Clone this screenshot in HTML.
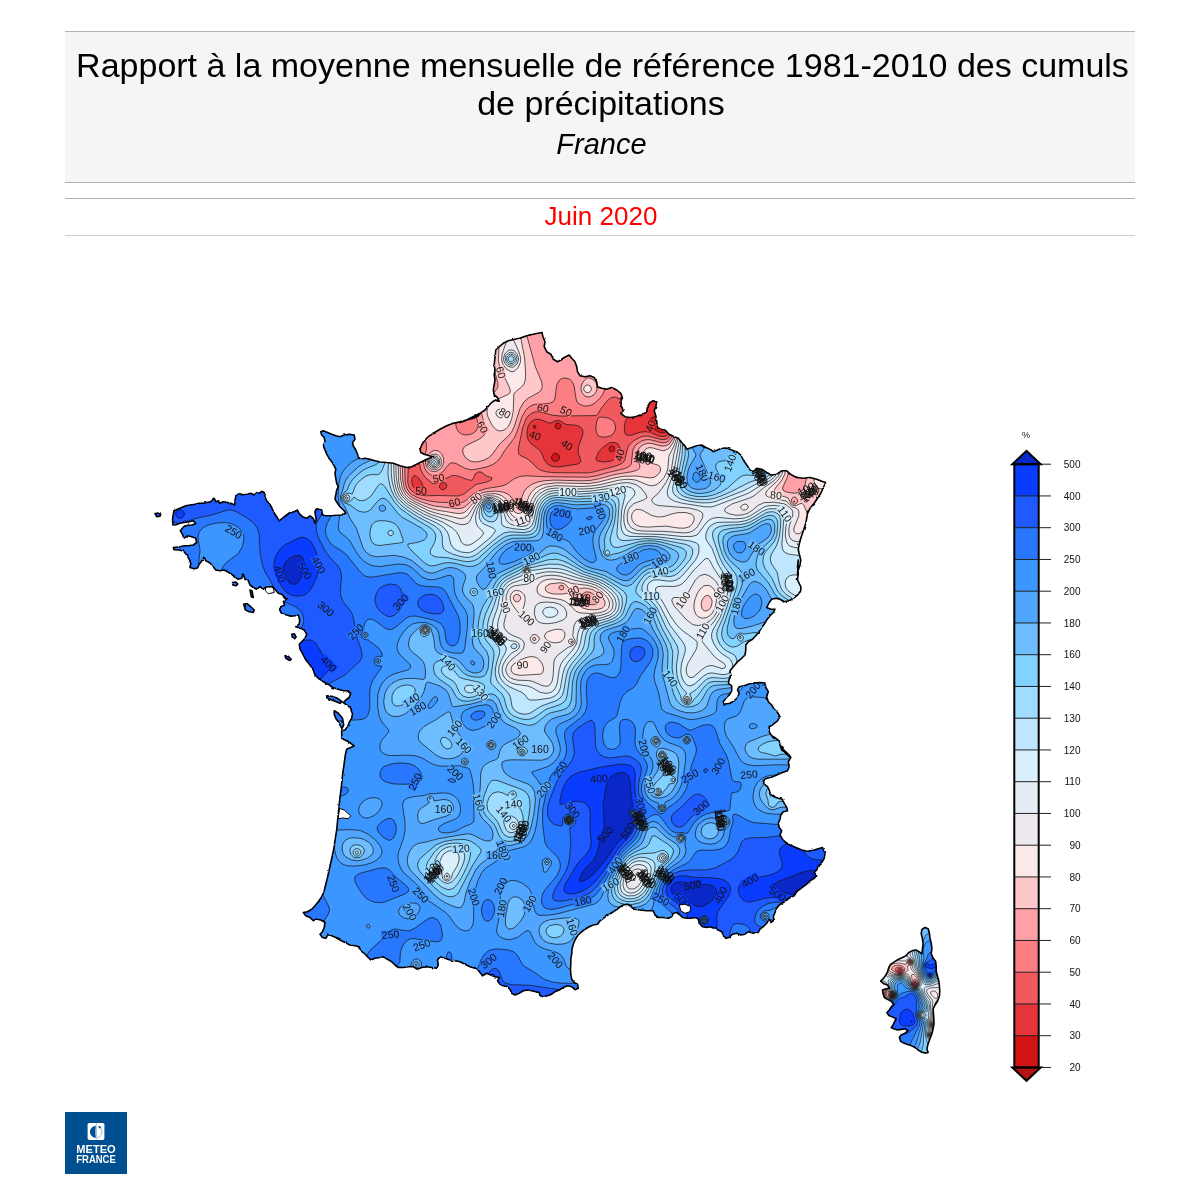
<!DOCTYPE html>
<html><head><meta charset="utf-8"><title>Rapport à la moyenne mensuelle de référence 1981-2010 des cumuls de précipitations</title>
<style>
html,body{margin:0;padding:0;background:#fff;}
body{width:1200px;height:1200px;position:relative;overflow:hidden;font-family:"Liberation Sans",sans-serif;}
#hdr{position:absolute;left:65px;top:31px;width:1070px;height:152px;background:#f5f5f5;border-top:1px solid #b0b0b0;border-bottom:1px solid #b0b0b0;box-sizing:border-box;}
.tl{position:absolute;left:0;width:1070px;text-align:center;white-space:nowrap;color:#000;}
#t1a{top:13.8px;font-size:34px;line-height:38px;left:2.5px;}
#t1b{top:52px;font-size:34px;line-height:38px;left:1px;}
#t2{top:95.8px;font-size:29px;font-style:italic;line-height:32px;left:1.5px;}
#l2{position:absolute;left:65px;top:198px;width:1070px;height:1px;background:#b0b0b0;}
#l3{position:absolute;left:65px;top:234.5px;width:1070px;height:1px;background:#cdcdcd;}
#dt{position:absolute;left:66.2px;top:201px;width:1070px;text-align:center;font-size:26px;line-height:30px;color:#f00;}
#map{position:absolute;left:0;top:0;}
#map text{font-family:"Liberation Sans",sans-serif;}
#logo{position:absolute;left:65px;top:1112px;width:62px;height:62px;background:#004f91;}
#hdr,#dt,#map,#logo{will-change:transform;}
</style></head><body>
<div id="hdr"><div class="tl" id="t1a">Rapport à la moyenne mensuelle de référence 1981-2010 des cumuls</div><div class="tl" id="t1b">de précipitations</div><div class="tl" id="t2">France</div></div>
<div id="l2"></div><div id="dt">Juin 2020</div><div id="l3"></div>
<svg id="map" width="1200" height="1200" viewBox="0 0 1200 1200">
<defs>
<clipPath id="cpF"><path d="M542,332.5 539.2,333 533.3,334.2 526.7,335.8 521.7,337.5 515,339.2 508.3,340.8 503.3,343.3 499.2,346.7 495.8,350 495.3,355 494.7,360 494.2,365 495,370 494.2,375 495,380 494.2,385 493.3,390 494.2,395 497.5,397.5 499.2,401.3 495.8,400 492.5,401.7 489.2,405 485,410 480,413.3 475,415.8 470,418.3 465,420.8 460,422.5 480,415 473.3,418.3 466.7,420 460,421.7 453.3,423.3 446.7,425.8 440,429.2 433.3,433.3 428.3,436.7 424.2,440.8 421.7,445 420,449.2 420.8,452.5 424.2,454.2 429.2,455.8 433.3,456.7 426.7,459.2 421.7,461.7 416.7,464.2 411.7,466.7 406.7,467.5 400,465.8 393.3,463.3 386.7,462.5 380,462 375,460.8 370,459.2 365,458.3 360.8,459.2 358.3,457.5 357.5,454.2 355.8,450 353.3,445.8 352.5,442.5 355,439.2 354.2,435 349.2,434.2 344.2,435 340,436.7 335.8,435.8 331.7,434.2 327.5,432.5 323.3,430.8 320.8,431.7 321.7,435 324.2,437.5 325,441.7 323.3,445.8 325,450 326.7,454.2 329.2,458.3 331.7,461.7 334.2,465.8 335.8,469.2 335,473.3 335.8,478.3 336.7,483.3 338.3,486.7 336.7,490 335.8,495 335,499.2 337.5,503.3 340,506.7 344.2,510.8 345.8,513.3 341.7,515 333.3,515.5 325,515.8 322.5,514.7 321.7,510 316.7,508.7 315,512.5 316.3,520 315,523.3 313.3,518.3 310,515.8 306.7,518.3 302.5,516.7 299.2,513.7 297.5,510 294.2,511.7 290,512.5 286.7,515 283.3,517.5 279.2,520.8 276.7,516.7 273.3,511.7 271.7,507.5 269.2,503.3 266.7,500.8 265,496.7 264.2,492.5 261.7,491.3 259.2,493.3 256.7,492.5 254.2,495 250.8,493.3 246.7,494.2 242.5,494.7 239.2,493.3 235.8,495.8 235,500.8 234.7,505 230.8,503.3 227.5,502.5 223.3,501.7 220,503.3 218.3,500.8 215.8,501.7 214.2,498.3 212.5,499.2 210.8,501.7 206.7,502.5 203.3,503.3 199.2,503.3 195,504.2 190,505 185.8,505.8 181.7,507.5 177.5,509.2 174.2,510.8 173,515 172.5,520 173,525 175.8,524.7 180,523.3 184.2,522.5 189.2,521.7 193.3,520.8 195.8,523.7 191.7,525 187.5,525.3 183.7,526.7 180.3,530.8 182.5,534.2 183.7,538.3 187.5,535.8 191.7,536.7 195.8,538.3 196.7,542.5 193.3,545 188.3,545.8 184.2,545.8 180,546.7 173.3,547.5 174.2,549.7 179.2,550 183.7,551.3 186.7,555 189.2,559.2 190.8,563.3 190,567.5 194.2,568.7 197.5,568 199.2,564.2 202.5,560 204.2,556.7 205.8,560.8 210,563 213.3,566.7 215.8,570 220,570.8 224.2,570 227.5,571.7 231.7,574.2 235,577.5 238.3,579.2 241.7,578.3 243.3,574.2 245,579.2 248.3,580.8 250,585 253.3,587.5 256.7,589.2 260,586.7 263.3,589.2 266.7,586.7 271.7,586.7 275,589.2 278.3,593.3 281.7,594.2 285,597.5 286.7,599.2 283.3,601.7 284.7,605 280.8,606.7 279.7,610 281.7,613.7 286.7,615 290.8,616.3 295,615.8 298.3,615 299.7,620 299.2,624.2 295.8,626.7 300,628.3 304.2,630 306.7,634.2 305,638.3 301.7,641.7 299.2,644.2 300,649.2 302.5,653.3 305,658.3 305.8,660 310,665 313.3,670 315,675 318.3,678.3 323.3,681.7 328.3,684.2 332.5,687.5 338.3,689.2 343.3,690.8 348.3,690.8 350.8,693.3 349.2,697.5 345.8,700 343.3,702.5 346.7,705 350.8,708.3 352.5,713.3 351.7,718.3 349.2,722.5 347.5,726.7 345,730 341.7,730.8 341.7,736.7 343.3,739.2 346.7,740.8 350.8,743.3 354.2,745.8 350.8,747.5 346.7,749.2 345.3,755 344.2,763.3 343,771.7 342,780 341.2,788.3 340,796.7 339.2,805 338.7,811.7 338.7,810 337.5,821.7 336.7,830 335.3,838.3 334.2,846.7 332.5,855 330.8,862.5 329.2,870 327.5,877.5 325.8,884.2 324.2,890.8 321.7,896.7 318.3,901.7 315,905.8 311.7,909.2 307.5,911.7 303.3,912.5 305.8,915.8 310,917.5 313.3,920.8 316.7,919.2 320.8,920 325,922.5 324.2,927.5 322.5,931.7 320,934.2 322.5,937.5 325.8,938.3 328.3,934.2 331.7,935.8 335.8,937.5 340,940 345,942.5 350,945 355,945.8 359.2,946.7 360.8,950.8 364.2,953.3 367.5,956.7 370.8,960 375,958.3 380,957.5 383.3,956.7 387.5,959.2 391.7,961.7 395,965 398.3,967.5 403.3,967.5 408.3,966.7 413.3,966.7 417.5,969.2 421.7,967.5 426.7,966.7 431.7,967.5 436.7,968.3 438.3,965 437.5,960 440,956.7 445,958.3 450,960 455,960.8 460,961.7 465,964.2 470,966.7 475,968.3 474.2,967.5 477.5,969.2 480,972.5 482.5,975.8 486.7,973.3 490.8,975 495,976.7 499.2,977.5 497.5,980.8 500,984.2 503.3,985.8 507.5,986.7 510,989.2 511.7,993.3 515,995 519.2,993.3 523.3,990.8 527.5,990 531.7,990.8 535.8,991.7 539.2,992.5 540,995.8 543.3,996.7 547.5,995.8 551.7,994.2 555,991.7 559.2,990 563.3,987.5 567.5,985.8 571.7,986.7 575,989.7 578.3,988.3 577.5,984.2 574.2,982.5 571.7,979.2 570.8,974.2 570.5,969.2 570.8,964.2 570.8,959.2 571.7,954.2 572,949.2 573.3,944.2 575,940 577.5,935.8 580.8,932.5 585,929.2 589.2,926.7 593.3,925 597.5,924.2 600,920.8 603.3,918.3 606.7,915.8 610.8,913.3 615,910.8 619.2,907.5 623.3,905 627.5,904.2 630.8,906.7 634.2,909.2 640,910 646.7,910.8 653.3,910.8 655,915 658.3,917.5 664.2,917.5 663.3,917.5 668.3,918.3 671.7,916.7 673.3,913.3 676.7,912.5 680,915 682.5,917.5 686.7,918.3 690.8,918.3 695.8,917.5 698.3,919.2 699.2,923.3 702.5,926.7 706.7,927.5 710,926.7 714.2,928.3 718.3,930 721.7,931.7 723.3,935 725.8,938.3 729.2,937.5 732.5,934.2 736.7,933.3 740.8,935 745,934.2 748.3,931.7 753.3,933.3 758.3,932.5 760,929.2 763.3,926.7 766.7,923.3 769.2,919.2 770.8,922.5 774.2,920 773.3,916.7 775,912.5 776.7,908.3 779.2,905 783.3,902.5 786.7,900 790,897.5 794.2,895.8 796.7,891.7 800,889.2 803.3,886.7 806.7,884.2 810,880.8 814.2,878.3 816.7,875.8 814.2,872.5 816.7,870 818.3,865.8 821.7,862.5 824.2,858.3 825,853.3 822.5,847.5 818.3,848.7 813.3,850.3 807.5,851.3 801.7,850 795.8,847.5 790,845 785.8,842.5 782.5,839.2 780,835 781.7,830.8 779.2,827.5 778.3,823.3 780,819.2 780.8,815 783.3,811.7 787.5,810.8 786.7,807.5 784.2,803.3 782.5,799.2 778.3,798.3 774.2,796.7 770,794.2 769.2,790 767.5,786.7 764.2,784.2 763.3,780 766.7,778.3 770.8,777.5 775,775.8 778.3,774.2 782.5,772.5 787.5,770.8 789.2,766.7 788.3,761.7 790.8,757.5 789.2,755 785.8,751.7 781.7,749.2 780,745 789.2,756.7 785.8,753.3 781.7,750 780,745 779.2,740.8 775.8,738.3 771.7,735.8 769.2,731.7 769.2,726.7 773.3,724.2 777.5,720.8 780,716.7 777.5,712.5 774.2,709.2 771.7,705 768.3,701.7 766.7,696.7 768.3,691.7 765.8,687.5 765,683 760,682.5 753.3,683 748.3,684.2 744.2,685.8 739.2,686.7 737.5,690 739.2,693.3 737.5,697.5 734.2,700.8 730,703.3 724.2,704.2 723.3,701.7 725.8,698.3 729.2,695 731.7,690.8 731.7,685.8 728.3,683.3 729.2,679.2 730.8,675 730,670.8 734.2,665.8 737.5,661.7 741.7,658.3 745,655 745.8,650 745.8,645 748.3,641.7 752.5,639.2 755.8,635.8 759.2,631.7 761.7,627.5 764.2,624.2 766.7,620 770,615.8 773.3,612.5 775,609.2 770.8,609.2 766.7,607.5 769.2,602.5 771.7,599.2 775.8,598.3 780,599.2 784.2,601.7 789.2,600.8 793.3,598.3 797.5,595 800.8,590.8 800.8,586.7 797.5,580 798.3,573.3 797.5,566.7 798.3,560 797.5,575 798.3,570 800,565 800.8,560 799.2,554.2 798.3,549.2 799.2,544.2 800.8,538.3 802.5,533.3 804.2,528.3 805.8,523.3 806.7,518.3 807.5,513.3 810,508.3 814.2,503.3 817.5,498.3 820.8,493.3 823.3,487.5 825.8,482.5 821.7,481.3 816.7,479.2 810,477.5 803.3,478.3 796.7,477.5 791.7,475 786.7,470.8 781.7,470.8 776.7,474.2 771.7,475 766.7,472.5 761.7,469.2 756.7,468.3 753.3,471.7 750,470 746.7,465 743.3,460 740.8,455 736.7,451.7 731.7,450 726.7,448 721.7,448.3 717.5,450 713.3,451.7 710,449.2 705.8,447.5 701.7,445 696.7,445.8 691.7,447.5 686.7,449.2 685,445.8 681.7,442.5 678.3,438.3 674.2,436.7 669.2,434.2 665,430 660.8,429.2 657.5,427.5 656.7,421.7 655.8,415.8 654.2,410.8 655.8,406.7 656.7,401.7 653.3,400.8 650,402.5 647.5,406.7 646.7,411.7 643.3,414.2 640,415.8 640,415 635,416.7 630,417.5 625,416.7 620.8,413.3 623.3,410.8 621.7,406.7 620.8,401.7 622.5,397.5 620.8,393.3 616.7,390 611.7,387.5 606.7,389.2 601.7,388.3 597.5,386.7 596.7,381.7 594.2,377.5 590,375.8 585,376.7 580,375.8 577.5,371.7 576.7,366.7 575,361.7 571.7,358.3 569.2,355 564.2,357.5 560.8,360 557.5,361.7 553.3,359.2 550.8,354.2 546.7,351.7 544.2,346.7 545,341.7 543,336.7ZM155,513.7 157.5,513 160.8,514.2 160,516.3 156.7,516.7ZM232.5,582.5 235.8,582 238,584.2 235.8,585.8 233,585ZM243.7,604.2 246.7,603.3 250.8,606.7 254.2,610 253.3,612.5 249.2,611.7 245.3,609.7ZM250,590 252,590.8 253.3,597.5 251.3,596.7ZM291.7,634.2 294.2,633.7 296.2,636.7 294.7,638.7 292.5,637.5ZM285,655.8 288.3,656.3 291.2,659.2 289.2,660.3 285.8,658.3ZM326.7,695.8 331.7,696.3 337.5,698.3 342,701.7 340,703.3 335,701.3 330,699.2 327,698ZM334.2,710.8 338.3,713.3 342.5,718.3 343.7,725 342,728.7 339.2,723.3 335.8,718.3 334.2,714.2Z"/></clipPath>
<filter id="jag" x="140" y="320" width="720" height="750" filterUnits="userSpaceOnUse"><feTurbulence type="fractalNoise" baseFrequency="0.22" numOctaves="2" seed="7" result="n"/><feDisplacementMap in="SourceGraphic" in2="n" scale="2.2" xChannelSelector="R" yChannelSelector="G"/></filter>
<clipPath id="cpC"><path d="M925,927.5 928.1,928.8 929.4,933.1 930,938.1 931.2,943.1 931.9,948.8 931.2,953.8 933.1,958.1 935.6,961.2 936.2,966.2 936.2,971.2 937.5,976.2 938.8,981.2 939.4,986.2 939.8,991.2 939.4,996.2 937.5,1001.2 935,1005 933.1,1008.8 933.5,1013.8 933.8,1018.8 934,1023.8 933.1,1028.8 931.9,1033.8 930,1038.8 928.1,1043.8 926.9,1048.8 928.1,1052.5 925,1053.1 921.2,1051.9 918.1,1050 915,1047.5 911.2,1045.6 907.5,1044.4 903.8,1043.1 900.6,1041.2 899.4,1037.5 901.2,1035 905,1033.1 908.1,1030.6 905,1028.8 901.2,1029.4 897.5,1030 893.8,1028.8 891.2,1027.5 893.1,1025 894.4,1021.9 896.2,1018.8 892.5,1016.9 888.8,1015.6 886.9,1012.5 889.4,1010 891.2,1006.9 893.8,1004.4 891.2,1001.2 887.5,999.4 884.4,997.5 883.1,993.8 882.5,990 886.2,988.8 889.4,988.1 887.5,985 883.8,983.8 880.6,981.2 883.1,978.8 885.6,975.6 887.5,971.9 888.8,967.5 890.6,964.4 894.4,961.9 898.1,959.4 902.5,957.5 906.2,955.6 908.8,952.5 912.5,950.6 916.2,950 919.4,951.9 921.9,953.8 922.5,948.8 923.1,943.8 922.5,938.8 921.2,933.8 921.9,929.4Z"/></clipPath>
</defs>
<g clip-path="url(#cpF)">
<rect x="140" y="320" width="710" height="690" fill="#b41414"/>
<path fill="#d21416" fill-rule="evenodd" d="M140,320 840,320 840,1002 140,1002ZM682,392.9 680,394.2 679,396 677.9,400 678,403.3 678.9,406 680,407.2 682,408.1 684,408.1 686,407.2 688,404.7 688.3,400 686,394.7 684,393.1ZM702,359.4 699.5,362 699,364 699.3,366 702,368 704,367.9 706,367 708,364.9 709,362 708.7,360 708,359.2 706,358.4ZM722,329.7 720,331 718.5,334 717.8,338 718,343.8 718.6,346 719.9,348 722,348.8 724,348.8 728,347.7 730.5,346 733,342 733.3,338 732,334.7 730,332.6 726,330.3 724,329.6Z"/>
<path fill="#e6353a" fill-rule="evenodd" d="M140,320 713.9,320 713.9,326 715.4,336 715,344 714,350.1 712,352.1 698,354.9 695.9,356 694,358 693.1,360 692.7,366 694,369.6 696,371.3 700,372.1 706,370.6 709.6,368 712.1,364 714.7,356 716,353.9 728,349.8 732,346.8 733.9,344 734.9,340 734.4,336 733.4,334 728.4,328 727.9,320 840,320 840,1002 140,1002ZM534,425 532.9,426 534,428.5 535.5,428 536.1,426ZM554,453.5 552,455.4 551.4,458 552.3,460 554,461.2 556,461.4 558.6,460 559.6,458 559.4,456 558,454 556,453.2ZM556,423.6 554.9,426 555.7,428 558,429.2 560,428.4 561.1,426 560.4,424 558,422.9ZM612,445.7 610,446.6 609,448 609.1,450 610,451.2 612,451.8 614,450.7 614.8,448 614,446.6ZM658,415.9 654,416.6 651.1,418 649.3,420 648.7,422 649.3,424 652.6,428 658,431.8 662,432.9 664,432.7 666,431.7 668,429 669.3,424 669.2,420 668,417.5 666,416.5ZM678,335.2 676.7,338 676.8,340 678,343 680,343.8 682.3,342 682.9,338 682,335.6 680,334.6ZM678,384.9 675.2,388 674,391.2 673.2,396 673.1,404 674.3,410 676,411.6 680,412.1 686,410.6 689.3,408 690.9,404 690.9,400 689.4,394 686,386.5 684,384.7 682,384Z"/>
<path fill="#f05a5f" fill-rule="evenodd" d="M140,320 664.8,320 664.9,328 666.2,340 665.6,346 664.6,350 661.1,356 648,365.8 645,370 643.8,374 643.3,378 644.5,396 644.2,400 643.1,404 640.8,408 639,410 627.4,418 625,422 624.2,428 624.6,432 625.3,434 626,434.8 628,435.6 632,435 640,432.3 646,431.6 650,432.4 658,435.7 662,436.6 666,435.9 668.3,434 670.6,430 674,420.4 676,417.6 678.4,416 688,412 690.4,410 691.8,408 692.5,406 692.8,402 690.3,384 690.9,380 692,378.3 694,376.9 704,373.8 708,371.9 712.2,368 716.5,360 719.7,356 730,350.4 734.3,346 735.9,342 736.2,338 734.9,334 731.1,328 730.8,320 840,320 840,1002 140,1002ZM414,475.5 412.2,478 411.7,480 412,484 412.9,486 414.6,488 418,489.6 420,489.6 422,488.8 422.8,488 423,486 421.4,482 418,477.5 416,475.9ZM442,482.7 440.4,484 439.5,486 439.7,488 442,489.8 444,489.6 446.1,488 446.9,486 446.4,484 444,482.5ZM534,419.7 530.6,422 528.2,426 526.9,432 527.4,438 530,442.7 540,450.6 542,454 544.4,460 547.3,464 552,466.5 558,467 576,464.4 578,463.9 580.8,462 580.8,460 578.5,454 578.1,450 578.8,446 583,434 582.7,430 581.5,428 578.5,426 576,425.3 566,424.4 560,420.7 556,420.6 550,423.3 540,419.5 536,419.3ZM608,443.6 602.1,448 598.7,452 596,458 596.2,460 598,461.2 604,462 610,461.3 614,459.9 616.6,458 618.1,456 619.5,452 619.7,448 619.3,446 618,444.1 616,442.8 614,442.4 610,442.7ZM697.4,330 700,328.8 704,328.7 710,331.6 711.9,334 712.7,338 712.4,342 710.7,346 708.5,348 704,349.2 700,349.2 696.1,348 694,346 692.6,342 692.5,336 694,332.7ZM660.8,400 662,398.9 664,399 665,402 664,404.6 662,404.8 660.8,404 660,402Z"/>
<path fill="#fc7d82" fill-rule="evenodd" d="M140,320 655.9,320 656.1,328 658.5,334 659.4,338 658.7,344 656.9,348 654,351.5 641.3,360 637.9,364 636.4,368 635.7,372 635.7,388 635,394 633.7,398 632,400.6 630.2,402 628,402.7 626,402.5 618,398.1 614,396.9 612,397.3 608,400 602.9,406 598,413.8 596,415.6 558,415.8 552,415.1 542,412.1 536,411.7 532,412.9 530,414.1 528,416 525.4,420 522,430 518.2,450 518.8,454 520,455.3 528,459.2 537.1,468 540.4,470 544,471.3 552,472.6 584,473.1 593.4,472 616.1,466 621.1,464 623.6,462 624.9,460 627.1,450 628.7,446 630.2,444 634,440.6 640,437.3 644,436.2 648,436 662,439.7 666,439.2 668,438 671.1,434 675.1,424 677.7,420 680.1,418 690,412.6 692,410.7 693.6,408 694.4,402 693,388 693.6,384 694.5,382 698,378.6 707.8,374 710.7,372 714,368.2 720,358.7 723.2,356 732,350.7 735.8,346 737.2,342 737.4,338 736.3,334 733.2,328 732.9,320 840,320 840,1002 140,1002ZM412,443.2 409.6,446 407.8,452 408.3,468 407.7,482 408.6,486 410,488.9 412,491.2 416,493.7 420,495 426,495.8 438,495.5 458.5,496 464,494 476,484.5 487.1,482 491.4,480 492,477.8 486,475.8 482,472.5 480,471.8 477.9,472 475.1,474 473.6,478 472,480.3 468,479.8 458,476 454,475.4 452,475.7 447,478 442,479.4 436,483.2 434,483.7 432,483.1 426,478.2 422.9,474 420.7,470 419.6,464 420.5,450 419.4,446 418,443.9 416,442.6 414,442.4ZM818,413.7 816,417.6 816.5,422 818,424.9 819.5,426 822,425.8 823.9,422 823.7,416 822,413.2 820,412.8ZM703.5,334 706,334.3 708,335.5 709.1,338 709,340 708,342.4 706,343.9 704,344.3 702,344 700,342.8 698.5,340 698.4,338 699.3,336 702,334.3ZM598.1,418 600,417.1 604,417.3 608,418 612.2,420 614.1,422 615.5,426 615.3,430 613.1,434 610,436 606,437 602,437 600,436.6 598,435.3 596.3,432 595.9,428 596.5,422Z"/>
<path fill="#fea0a5" fill-rule="evenodd" d="M140,320 392.3,320 392.5,326 393.4,328 396,329.4 400,330.1 402,330 405.2,328 405.7,320 619.2,320 619.1,326 618.1,330 616.5,332 609.2,338 605.7,342 600.6,350 597,358 596.4,362 597.2,366 604.4,378 605.9,384 604.9,390 603,394 600,398.2 596,402.2 590,405.5 584,406 580,404.7 578,403.1 576.3,400 574.1,386 572,381.4 570,379.5 566,378 562,378.5 560,379.6 558,382 556.6,386 555.1,398 554,400.7 552,402.6 550,403.4 538,404 534,404.6 530,406.3 526,409.8 522,416.6 516.9,432 514,438.4 505.1,450 498.6,460 493.7,464 484,467.7 472,469.9 470,469.8 464.3,468 456,463.5 452,462.7 450,463.4 444.4,470 440,473.9 436,475.6 432,475.5 430,474.6 427,472 425.5,470 423.8,466 423.5,460 426.6,448 426.1,442 424,435.8 420,429.6 418,428.4 410,436 408,438.8 406,443.2 404.5,452 405.1,482 406,486.5 408,490.7 410,493 414,496 418.6,498 426,500.2 436,502.1 458,503.2 464,501.6 474,493.6 478,491.2 486,488.6 500,486.4 504,485.3 506.9,484 514,478.8 520,476.4 526,475.8 544,476.7 588,477.2 595.7,476 608,472.5 624,468.8 628,467.2 629.8,466 631.3,464 632.8,450 635,446 639.6,442 644,440.1 648,439.6 662,442.8 666,442.3 668,441.4 670,439.5 672,436.5 676.3,426 678.7,422 682,419 690.7,414 694.4,410 695.8,404 694.8,392 695,388 696.3,384 697.6,382 700,379.9 708,375.6 712,372.8 714.5,370 721.2,360 724,357.5 732.4,352 736.1,348 738,343.6 738.6,338 737.6,334 734.9,328 734.7,320 840,320 840,1002 140,1002ZM418,337.9 416,338.3 414,340.2 412.5,348 412.5,384 411.9,402 412.3,410 414,418.1 416,422.9 418,425.8 420,425.4 422,422.8 424,418.7 425.7,412 426.2,404 425.5,384 425.9,358 425.4,348 424,342.4 422.5,340 420,338.3ZM460,401.8 457,406 455.4,412 455.1,420 456.4,428 458.7,432 462,434.3 466,435 472,433.9 476,431 477.5,428 477.9,426 477.2,420 474,408.2 472,403.7 470,401.5 468,400.5 464,400.1ZM588,596 588,596 588,596 588,596ZM796,449.8 794,450.3 791.6,452 790.4,454 789.8,458 792,466.9 794,471.7 796,474.4 798,473.4 802,466.5 803.2,462 803.6,458 803,454 802,452 800,450.4ZM818,408.9 816,410.1 814.1,412 813.1,414 812.4,418 812.7,422 814,426.7 816,430.3 818,432.1 820,432.8 822,432.8 824,431.8 826.1,428 827.1,422 826.8,414 826,411.2 824,408.7 822,408.1ZM794,500.9 793.7,502 794,502.2 794.5,502ZM641.7,336 644,334.9 646,334.7 648.9,336 650.2,338 650.3,340 649.5,342 648,343.8 646,344.7 644,344.8 641.7,344 640.3,342 639.9,340 640.3,338Z"/>
<path fill="#fec8cb" fill-rule="evenodd" d="M140,320 389.1,320 389.2,326 390,328.4 392,330.2 404,333.9 406,335.1 407.8,338 408.8,344 409.2,422 408.2,428 403.4,440 402,450 402.7,480 404.2,488 406.2,492 410,496.1 414,498.7 422,502.2 434,506 458,508.7 462,508.1 464,507.3 468,504.2 476.4,496 482,493 486,491.8 496,491 504,492.3 508,494.2 510.1,496 516,503.2 518,503.8 520,502.1 523.9,492 526.7,488 532,484.2 537.8,482 544,480.8 554,480.1 582,480.8 590,480.5 598,479 614,474.7 632,471.7 637.6,470 639.6,468 639.9,466 637.8,458 637.3,454 638.1,450 639.3,448 641.2,446 644,444.3 648,443.2 652,443.5 660,445.7 664,446.1 668,444.8 670,443.2 673.3,438 677.1,428 680,423.1 683.4,420 693,414 696.1,410 697.1,404 696.5,390 697.4,386 698.6,384 702,380.7 712.7,374 716,370.2 720,364 723.3,360 732,354 736.2,350 738.4,346 739.7,340 739.4,336 736.5,328 736.3,320 840,320 840,1002 140,1002ZM560,585.6 558.7,588 560,589.6 562,590 564,588.4 563.3,586 562,585.3ZM586,591.9 582.3,594 581.3,596 581.5,598 582.4,600 584.3,602 588,604.1 592,604.8 596.7,604 598.2,602 598.1,600 595.3,596 593.1,594 590,592.2ZM798,445.9 794,446.8 791.4,448 789.1,450 787.8,452 786.9,458 788.5,470 788.1,474 787,478 782.5,488 783,490 786,491.9 792,493.1 796,493.1 800,492 802,490.9 804,488.4 805.7,482 807.5,468 808.2,458 807.1,450 805.9,448 804,446.6 802,446ZM818,405.8 814,408.1 810.8,412 809.7,418 810.3,424 812,431.1 814.5,436 818,438 824,438.1 826,437.2 827.2,436 828.4,434 829.4,430 830,420 829.4,410 828,406.3 826,404.7 822,404.7ZM794,496.8 792,498.4 791.3,500 791.4,502 794,504.3 796,503.9 797.6,502 797.7,500 796,497.4ZM818,503.8 816.5,506 817.2,508 820,509.5 822,509 822.8,508 822.7,506 822,504.7 820,503.6ZM494.5,320 525.5,320 525.7,330 528,340 535.1,366 541.7,382 542.2,386 542,388 541.1,390 539.4,392 528,398.3 523.9,402 520,408.6 514.4,426 512,431.3 508,436.5 499.6,444 492,454.8 488.2,458 484,460.1 478,461.7 474,461.9 470,460.9 465.9,458 463.2,454 462.7,450 463.5,448 465.3,446 480,438.7 483.3,436 484.6,434 485.3,432 485.3,428 481.2,412 480.9,408 481.4,404 484,399 494.4,392 497.5,388 498,386 497.7,382 494.2,370 493,362ZM549.4,342 550,341.3 552,341.1 553.8,344 553.8,346 552,348.5 550,348.2 548.7,346 548.6,344ZM587.4,378 590,378 594,380.3 596,382.9 597.1,386 596.8,390 596,392 594,394.7 590,397 586,396.6 584,395.4 582,392.7 581,390 581.2,386 583,382 586,378.5ZM431.2,452 434,450.5 438,450.7 441.7,454 443.5,458 443.7,462 442.6,466 440,469.3 436,471.4 432,471.4 430,470.5 427.4,468 425.7,464 425.5,462 426.3,458 428,454.9Z"/>
<path fill="#fbe8e8" fill-rule="evenodd" d="M140,320 386.9,320 386.9,326 388,329.1 392,331.9 400,334.9 404,338 405.7,342 406.7,348 407,358 406.6,416 405.5,424 400.8,438 399.7,446 400.5,478 402.1,488 405.2,494 409.1,498 414,501.2 424,505.9 430,508.3 436,509.9 456,513.3 460,513.5 464,512.6 466,511.3 473.9,502 478,498 482,495.6 488,493.8 496,493.9 502.3,496 506.8,500 512,508.9 514,511.4 516,512.8 518,513.5 520,513.3 522,512.3 524,509.8 529.1,496 531.5,492 536,487.8 540,485.7 544,484.4 556,482.9 580,483.8 590,483.4 598.9,482 616,477.6 626,476.1 636,476 650,477.9 654,477.3 656,476.3 658,474.8 660.1,472 660.6,470 660,466.8 658,465.1 650,462.8 646.2,460 643.8,456 643.5,454 644,451.3 646,448.9 648,447.9 650,447.6 653.1,448 662,450.7 664,450.7 668,449 670,447.2 673.4,442 678.7,428 681.3,424 684,421.4 692.8,416 696,412.9 698.1,408 698.4,404 697.8,392 698.5,388 700,385 702.9,382 714,374.5 723.3,362 726,359.6 734.1,354 736.2,352 738.9,348 740.3,344 740.8,338 740,334 738,328 737.8,320 840,320 840,346.7 834,346.9 832,347.6 829.8,352 829.4,360 830.9,380 830.5,388 829,396 827.9,398 826,399.8 814,405.2 810.5,408 809,410 807.6,414 807.4,418 808.7,434 808,438 806.4,440 804,441.3 792,444.9 788,447.4 786,450 784.6,456 785.6,468 784.8,474 781.9,480 775.5,488 774.4,490 774.3,492 776.1,494 778,494.8 788,497.8 791,504 794,505.7 796,505.7 800,503.7 802,503.3 804,505.6 807.5,514 809.4,516 812,517.3 820,519.2 824,521.1 826,523.4 830,531 832,532.6 840,533.1 840,1002 140,1002ZM514,595.7 513.2,598 514,600.3 516,601.7 518,601.8 520,600.4 520.8,598 520,595.9 518,594.4 516,594.3ZM534,637.2 532.8,638 532.8,640 534,640.8 535.7,640 535.7,638ZM550,583.9 546.3,586 545.3,588 545.5,590 547.2,592 550,593.2 554,594 562,594.1 568,593.2 570,594.6 577,604 582.7,608 588,609.5 596,609.8 602,608.3 604.5,606 605.1,604 605,602 603.2,598 599.6,594 593.5,590 588,588.3 584,588 578,588.6 570,590.5 567,586 564,583.5 560,582.7ZM706,595.7 704,597.1 702.1,600 701.1,604 702,608.8 704,610.7 706,611 708,610.4 710,608.6 711.4,606 712.1,602 711.9,600 710,596.5 708,595.4ZM568,819.8 568,820.2 570.1,820 570,819.8ZM572,640.9 570.6,642 572,642.8 572.7,642ZM502.7,320 517.3,320 517.5,328 521.2,340 524.3,356 525.7,376 525.3,380 524,384 522,386.7 515.4,392 513.8,394 513.3,410 512,417.4 510,423.3 508,426.7 506,428.8 504,430.1 500,431.1 496,429.7 492,425.1 488,417 487.2,414 487,410 488.2,406 492,402 508.8,394 510.3,392 510.2,390 508.8,386 500.9,370 499,364 498.4,360 499.2,344 500.1,338 502.6,328ZM585,386 586,385.2 588,384.9 590.2,386 591.3,388 591.2,390 590,391.8 588,392.8 585.3,392 583.8,390 583.8,388ZM814.8,446 818,444.5 824,444.6 826.4,446 827.6,448 828.7,452 828.9,464 827.1,480 825.4,486 824,488 822,488.9 818,488.3 816,486.5 814,481.4 813,470 812.6,456 813.1,450 813.6,448ZM429.7,456 432,454.4 436,454.2 438,454.9 440,456.9 441.4,460 441.2,464 440.2,466 438,468.3 436,469.3 432,469.3 430,468.2 428.1,466 427.2,464 427.3,460Z"/>
<path fill="#ede8ee" fill-rule="evenodd" d="M140,320 385,320 385,326 385.3,328 386.4,330 389.1,332 398.2,336 400.8,338 403.3,342 404.9,350 404.8,412 403.2,422 398.2,436 397.4,444 398.8,482 400,488 402.8,494 406,497.9 410,501.2 428,510.5 436,513.1 460,518.6 464,518 468,515.4 475.3,504 478.9,500 481.5,498 484,496.7 488,495.7 494,495.9 498,497.1 502.5,500 505.7,504 510,512.7 512.6,516 516,518.2 520,518.8 524,517.4 526,515.1 531.4,500 534.9,494 540,489.6 546,487 556,485.6 580,486.5 590,486.1 600,484.7 618,480.3 626,479.3 632,479.5 636,480.2 648,485.1 652,485.8 656,484.9 660,482.1 664,477.6 666.9,472 667.9,468 668.9,456 674,445.9 680.3,428 684,423.2 695,416 698.3,412 699.7,406 699.1,392 700,388.3 701.2,386 704,383 714.3,376 717.9,372 724,363.2 727.6,360 736,354 740,348.5 741.4,344 741.9,338 739.4,328 739.3,320 840,320 840,342.2 832,342.6 830,344 827.7,350 827.2,360 828.3,382 827.5,390 826.4,394 823.2,398 812,403.8 807.4,408 806.3,410 805.3,414 805.9,428 805.1,434 804,436 802,438 788.9,444 784.6,448 783.5,450 782.7,454 783.3,468 782.1,474 778,480.3 767.5,490 766.2,492 765.7,494 766.5,496 770,497.7 786,500.9 792,506.7 795.8,508 798.4,510 798.9,512 798.8,516 793.9,528 794,531.2 796,533.6 798,533.9 800,533.3 810,525.8 814,524.8 818,524.8 822,526.4 823.6,528 830,537 834,538.2 840,538.3 840,1002 140,1002ZM514,591 511,594 510.3,596 510.3,600 512,604 514,606.9 518,612.3 520,613.5 522,611.3 524,606.1 525.2,600 524.7,596 523.6,594 520,591 516,590.4ZM526,570 525.6,572 526,572.6 528,572.8 528.7,572 528.2,570ZM532,635.3 530.3,638 530.3,640 532,642.5 534,643.3 536,643.1 539.1,640 539.3,638 537.8,636 536,634.8 534,634.5ZM546,579.7 542,581.5 540,583.1 537.8,586 537.1,588 537.2,592 538.5,594 541.5,596 546,597.4 560,599.4 564,600.6 568,603.2 576,611.3 580,612.9 590,613.5 600,612.7 606,610.5 608.6,608 609.6,604 609.4,602 607.6,598 602.1,592 595.9,588 588,585.4 572,583.6 564,580.6 560,579.7 552,578.9ZM636,509.7 634,510.8 632,513.8 631.6,516 632,520 634,523.3 636,524.9 638.3,526 642,526.8 648,527.1 666,526.1 678,528 684,528.2 688,527.3 690.3,526 692.3,524 694.2,520 694,516.9 692,514.4 686,512.5 678,512.6 672,513.9 664,516.5 658,517 652,515.6 641.8,510 638,509.3ZM704,585.8 700,589 697,594 694.8,600 693.9,606 694.2,610 695.7,614 698,616.6 702,618.2 706,617.8 708,616.9 712,613.6 715.1,608 716.6,600 716,593.8 714.4,590 712.9,588 710,585.9 708,585.3ZM742,505.4 741.2,506 740.5,508 742.7,510 746,509.9 748,508 748.3,506 746,504.1 744,504.2ZM526,657.6 520,660 513.8,664 512,666 511.2,668 511,670 512,672.4 514,674.1 520,675.4 540,674.2 542,673.4 543.1,672 543.5,668 542.3,664 539.7,660 537.2,658 534,656.7 530,656.7ZM554,629.7 548,631.6 546,633.1 545.2,634 544.6,636 545.1,638 548,640.9 552,642.5 556,642.9 560,642.1 562,640.9 564.3,638 565,634 564.5,632 562,629.7 558,629.2ZM568,819.3 567.6,820 568,820.7 570,820.7 570.4,820 570,819.3ZM570,639.2 568.9,640 568.4,642 570,644 572,644.5 574,641.7 572,639ZM634,878 633.3,880 634,880.9 635,880ZM509.5,338 512,338.4 514,340.9 519,352 520.7,358 520.5,362 518,367.9 514,371.3 512,371.6 510,371.2 506,368.6 502.7,364 501.6,360 502.2,354 506,342.5 508,338.9ZM497.3,410 500,409 502.8,410 504,412 504.1,414 503.3,416 502,417.6 500,418 497.1,416 496,414 496,412ZM432.9,456 436,456 438,457.2 439.8,460 439.6,464 438,466.4 436,467.7 434,468 432,467.6 430,466.3 428.6,464 428.6,460 430,457.7ZM819.5,456 820,454.7 822,454.2 822.8,456 823,460 822,463.1 820,462.5 819.8,462 819.2,458Z"/>
<path fill="#e4ecf5" fill-rule="evenodd" d="M140,320 383.2,320 383.3,326 384.4,330 388,332.8 398,338 401.1,342 402.9,348 403.5,358 403.2,410 401.4,420 395.9,434 395.2,438 395.1,444 396.2,476 397.5,486 399.5,492 401.8,496 408,502.2 420,509.3 430,514.2 446,519.4 456,523.3 460,524.4 464,524.7 468,523.3 470,521.1 475.5,508 480,501.4 482,499.6 486,497.6 492,497.3 498,499.7 502,503.3 504.8,508 508.1,516 511.3,520 516,522.4 522,522.9 526,521.3 528,519.1 530,514.4 533,504 536,497.8 540,493.3 546,489.9 550,488.8 556,488.1 578,489 590,488.7 602,487.1 620,483.2 626,482.6 630,482.9 636,484.6 641,488 645.6,494 646.6,496 646.8,498 643.5,500 634,503.5 630,507 628.3,510 627.3,514 627.3,520 628.4,524 631.5,528 636,530.1 642,531 664,531.4 684,532.9 688,532.6 692,531.4 696.4,528 699.2,524 702.4,518 702.9,514 701.4,512 697.4,510 689,508 658,505.5 654.4,504 652.4,502 651.6,500 652.9,498 658,493.5 662,488.4 666,482.4 669.3,476 671.3,470 673.8,454 679.4,434 681.9,428 686,423.3 697.2,416 699.9,412 700.9,406 700.3,394 700.9,390 702,387.5 705,384 716,376.2 725.1,364 728,361.3 736,355.8 738,353.9 740.7,350 742.2,346 743,340 742.8,336 740.9,328 740.7,320 840,320 840,339 834,339.1 830,340.1 828,342.4 826.1,348 825.2,360 826.4,382 825.9,388 824.7,392 821.7,396 810,402.5 806,406 804.6,408 803,414 803.5,428 802.7,432 801.6,434 798,437.3 786,443.4 783.3,446 782,448 780.7,454 781.1,468 780.3,472 778.3,476 774,480.7 763.4,488 754,495.9 750,497.9 731.9,504 725.6,508 724.5,510 725.5,512 729.6,514 736,515.2 742,515 748,513.2 752.8,510 758,505.4 764,502.7 774,502.2 784,503.8 786,504.7 790.2,508 792.1,510 792.9,512 792.6,516 789.9,524 788.7,530 789.2,536 790.1,538 792,540.2 796,541.6 800,541.2 804,539.5 813.8,532 818,531.3 820,531.9 822,533.3 827.5,540 830,541.9 834,542.7 840,542.8 840,1002 140,1002ZM424,630 424,630 424.7,630ZM446,875.8 446,876.7 448,876.9 448,875.7ZM526,569.4 525.3,570 524.9,572 526,573.5 528,573.8 529.6,572 529.1,570 528,569.2ZM544,575.9 537.8,578 528,584 514,585.9 510.2,588 508.4,590 506.1,596 506.6,612 503.8,624 504.3,628 507.2,632 512,635.1 520,638.4 522.3,640 523.8,642 524.3,644 523.7,648 522.6,650 520,652.7 512,659 507.6,664 506,668 505.8,670 506.1,672 508,675.7 510.8,678 514,679.4 518,680.2 528,680.5 532,681.1 542,685.5 546,686.3 548,686 550,684.7 552,681.4 553.1,676 553.9,662 555.2,658 558,654.8 568,647.4 572,645.9 574.5,644 575.3,642 574.9,640 572.7,636 573.9,626 575.8,622 578.4,620 584,618 600,615.5 606,613.8 609.3,612 611.3,610 612.5,608 613.1,604 612,599.4 608.3,594 602,588.7 596,585.3 590,583.3 574,580.1 560,576.1 552,575.2ZM634,869.8 630,873.3 628,876.6 626.8,880 626.4,884 626.8,886 628,887.9 630,889 634,888.9 638,886.3 641.1,882 643.3,876 643,872 641.5,870 638,868.8ZM700,575.7 695.4,580 688,592.9 686,595.3 684,596.8 682,597.5 674,597.5 672.9,598 671.8,600 672.2,602 674.1,606 686.7,620 692,624.1 694,624.9 698,625.5 702,624.9 706,623.4 710,620.7 714,616.6 716.8,612 718.3,608 719.8,602 720.3,596 719.9,590 718.7,586 716.3,582 714,579.4 710,576.3 706,574.6 704,574.4ZM568,818.8 567.3,820 568,821.3 570,821.3 570.7,820 570,818.8ZM686,699.8 686,700.1 688.2,700 688,699.6ZM509.7,350 512,350 514,350.7 516,352.5 517.1,354 518.5,358 518.5,360 517,364 514,366.7 512,367.3 508,366.4 506,364.8 504.2,362 503.7,360 503.6,358 504.8,354 508,350.5ZM431.6,458 434,457.1 436,457.5 438.4,460 438.8,462 438.3,464 436,466.3 434,466.7 432,466.2 429.9,464 429.5,462 429.9,460ZM537.4,604 540,602.7 546,602 554,602.6 559.1,604 562.6,606 564.6,608 566.6,612 566.6,616 565.5,618 563,620 556,622.6 548,623.7 544,623.6 540,622.6 538,621.5 536,619.2 534.3,614 534.8,608 535.6,606Z"/>
<path fill="#daf0fd" fill-rule="evenodd" d="M140,320 381.6,320 381.6,326 382.6,330 386,333 394,337.2 397.6,340 400,344 401.7,352 401.6,410 399.9,418 393.6,432 392.6,438 394.2,478 394.9,484 396.5,490 398.2,494 400.8,498 404,501.5 408,504.7 424,514.2 442.5,522 452.3,528 456.6,532 458.9,536 461.2,542 464,544.6 468,545.3 472,543.9 480.1,538 483.4,534 483.2,532 478,526.6 476.5,524 475.7,520 475.7,516 477.1,510 479.9,504 482,501.4 486,498.9 488,498.5 492,498.8 496,500.8 499.5,504 502.9,510 506,519.7 508,522.4 510.3,524 514,525.4 522,526.6 526,525.8 528,524.6 530,522.3 531.8,518 534.9,506 537.7,500 542,495.2 547.7,492 552,490.9 558,490.5 578,491.6 590,491.2 624,486.4 628,486.8 631.6,488 634,490 634.9,492 634.8,494 633.8,496 628,502.5 626,506 624.7,510 623.8,516 624,522.2 625.6,528 628,530.9 632,532.9 638,533.8 662,534.5 682,536.5 692,536.4 696,535.3 698,534 706,523 708,521 712,518.4 718,517.4 734,518.9 744,518.2 750,516 764,507 768,505.8 774,505.4 780,506.2 784,507.8 786.6,510 787.7,512 788,516 785.7,528 785.3,536 786.6,542 788,544.5 790,546.2 796,547.8 802,547.5 807,546 814,541.9 818,540.6 822,542.1 827.5,546 830,547 840,547.5 840,1002 140,1002ZM424,628.9 423.3,630 424,631.5 426,631.4 426.7,630 426,629ZM446,873.3 444.1,876 444.5,878 446,879.3 448,879.3 449.5,878 450,876 448,873.2ZM526,568.7 524.6,570 524.2,572 525.1,574 526,575.3 528,575.8 530,575.1 530.9,572 529.9,570 528,568.6ZM546,571.9 535.7,574 528,576.9 524,579.1 512,583 507.5,586 504.6,590 503.2,594 501.4,610 498,621.4 497.5,626 498,629 499.4,632 503,636 508,639.8 510,640.7 516,641.4 519,644 519.4,646 519,648 517.4,650 512,652.9 510,654.7 506,659.6 503.4,664 502.2,668 502.2,672 503.5,676 504.8,678 508,681.1 512,683.2 516,684.3 528,686 532,687.6 540,692.3 546,693.4 550,692.7 552,691.7 554,690 556,686.9 557.5,682 559.1,670 560.9,664 563.5,660 572,650.9 576,644.9 577.1,642 577.1,638 578.2,632 580.7,626 584,622.8 588,620.8 604,617.1 610,614.8 613.5,612 614.8,610 615.7,608 616.3,604 614.8,598 612.1,594 605.3,588 598,583.7 592,581.5 578,578 562,572.9 554,571.8ZM634,865.5 630,868.5 627.2,872 624.2,878 623.1,882 623,886 624.5,890 626.8,892 630,893 632,893.1 635.8,892 640,888.9 644.7,882 647.6,874 647.5,870 646,867.2 644,865.6 640,864.5 636,864.8ZM704,559.9 692.2,572 686,580 682,583.9 678,585.8 674,586.5 662,586.2 658,586.6 655.8,588 655.5,590 656.1,592 662.8,602 670,615.4 676,624.1 682,630.3 695.4,640 697.1,642 697.2,646 695.9,650 688,662.9 686.3,668 686.3,672 686.9,674 688,676.1 690,677.5 692,677.5 694,676.6 702,669.5 706,666.8 708,666 712,665.5 722,668.6 724.7,668 725.7,666 724,663.3 718,659.6 714,656.1 702.4,642 701.8,640 702.6,636 704.9,632 714,621.7 718.8,614 722.2,604 724.1,592 723.8,586 722,580.5 713.6,568 710,561 708,558.6 706,558.4ZM810,597.9 809.5,600 809.9,604 811.5,608 814.5,612 818,614.7 822,616.6 826,617.5 828,616.8 828.8,614 828.5,608 827.5,602 826,599.1 824,597.5 818,596.2 812,596.5ZM512,825.7 512,826.2 514,827.6 515.3,826 514,824.2ZM568,818.3 567,820 568,821.8 570,821.8 571.1,820 570,818.2ZM658,791.4 657.5,792 658,792.5 658.6,792ZM662,856.5 661.1,858 662,859.2 664,858.7 664.4,858 664,857ZM668,767.5 667.5,768 668,768.6 668.6,768ZM686,697.7 685,700 686,701.5 688,701.6 689.2,700 688.4,698ZM742.2,320 840,320 840,336.5 832,336.7 828.6,338 826,341.3 824.3,346 823.3,352 823,360 824.6,382 824.3,386 823.2,390 820,394.4 806.8,402 802.9,406 801.8,408 800.9,412 801.4,426 800.7,430 798,434.2 795.7,436 784.3,442 780.6,446 778.8,452 779.2,466 778.7,470 776,475.3 772,479.2 748,493.4 718,505.1 712,506.8 708,507 702,506.5 682,503.2 674,501 669.2,498 667.9,496 667.2,492 668.1,488 674,471.1 679.5,440 681.5,432 683.5,428 686,425.1 697.2,418 700.7,414 702.2,408 701.6,396 701.9,392 704,387.1 707.2,384 716,378 719.6,374 726,364.9 729.3,362 737.9,356 741.2,352 743.4,346 744.1,340 743.9,336 742.3,328ZM507.2,354 510,352.4 512,352.4 514,353.3 516,355.6 516.9,358 516.9,360 516,362.3 514,364.4 512,365.2 510,365.1 508,364.3 506,362.1 505.2,358 505.7,356ZM431.4,460 434,458.5 436,459.1 436.8,460 437.4,462 436.7,464 434,465.4 432,464.7 430.8,462ZM545.3,608 550,607 554.7,608 557.2,610 558,612 557.4,614 555.4,616 552,617.3 548,617.3 546,616.7 543.2,614 542.7,612 543.2,610Z"/>
<path fill="#bee6ff" fill-rule="evenodd" d="M140,320 380,320 380,326 380.9,330 384,333.2 392.5,338 396,340.8 399,346 400.2,352 400.5,360 399.8,380 400.4,402 400,410 397.9,418 390.8,432 390,438 391.2,454 391.3,474 392.2,482 394.9,492 396.9,496 400,500.4 406,506 414,511.3 424,517.1 436,522.7 441.8,526 444.2,528 447.4,532 448.9,536 450.7,544 453.4,548 456.2,550 461,552 468,552.8 472,551.7 476,549.3 490,538 494.9,532 495.3,530 494,528.5 483.8,524 481.4,522 479.3,518 479.1,512 480.6,506 483,502 486,500.1 488,499.6 492,500.2 494.9,502 498.3,506 500.8,512 501.8,524 503.1,526 506,527.2 514,528.8 524,529.7 529.3,528 532,525.2 534,520 536.1,510 538.2,504 542,498.6 545.2,496 548,494.5 552,493.3 556,492.8 580,494 614,491.4 622.5,492 624.8,494 625,496 621.7,510 620.8,524 621.6,530 624,534.1 626,535.3 630,536.4 656,536.6 690,540.9 696,542.7 697.8,544 698.9,546 698.9,552 697.6,556 695.5,560 684,573.8 680,577.7 676,580.1 672,581.1 668,581.2 658,579.8 653.6,580 649.8,582 648,584.4 647.2,588 648,591.2 649.8,594 656,600.6 660.1,606 670,625.4 682.8,642 684.9,646 685.3,648 685.1,652 681.4,664 680.8,672 681.5,676 683,680 685.8,684 688,685.5 690,685.9 694,684.5 704,675.6 708,673.4 712,672.9 722,674.6 726,674.5 730,672.4 732.3,668 732.5,664 730.8,660 728.6,658 722,653.8 717.9,650 713.9,644 711.7,638 711.6,634 712.8,630 720,617.7 723.8,608 727.4,594 728.2,586 727.8,582 726.4,578 718,564 712,548.4 706.3,540 705.7,536 706.5,532 708.5,528 710.2,526 714,523.5 718,522.3 738,522 746,520.7 752,518 762,511.6 766,509.7 770,508.7 776,508.8 779.8,510 782,511.7 783.5,514 784,516 781.9,544 782.3,548 782.9,550 784.3,552 788,553.9 792,554.7 812,556.8 818,556.5 829.4,554 840,553.8 840,579.3 832,579.8 830,581.2 826,587.2 824,588.6 820,589 816,588 812.9,586 805,578 802,576.2 798,575.1 792,575.1 788,576.9 785.7,580 785.1,584 786,588 788,590.7 792,593.7 798,597 801.8,600 810,612.1 814.1,616 824,622.4 826,624.4 830,630.4 832.6,632 840,632.3 840,1002 140,1002ZM346,496.6 345.2,498 346,499.2 348,498.3 348,497.6ZM424,627.9 422.5,630 423.3,632 424,632.5 426,632.5 427.4,630 426,627.9ZM448,851.2 444,853.8 442.3,856 440.3,860 439.5,864 439.8,868 441.7,872 442.6,878 444,879.7 446,880.9 448,881 450,879.8 451.5,878 452.3,874 457.2,866 459.1,860 459,856 458.2,854 456.4,852 452,850.6ZM528,567.9 526,568.1 523.8,570 523.1,572 523.1,574 522,575.7 512,579.7 508,582 505.6,584 502.5,588 500.2,594 497.5,608 493.2,620 492.3,626 492.8,630 494.6,634 497.9,638 504,644 506.4,648 505.7,652 501.4,660 499.2,666 498.6,672 500.3,678 503.2,682 506,684.5 510,687.1 521.1,692 524.2,694 528,699 530.2,700 536,700 550,698.1 554,696.5 557.2,694 558.7,692 560.4,688 562.8,674 564.5,668 568,662.1 575,654 578,649.5 580.1,644 582.6,632 584.6,628 588,624.8 592,622.7 608,618.3 614,615.1 616,613.2 618,610 619.1,606 619.2,602 617.3,596 612,590 604,584.3 596,580.5 580.6,576 566,570.3 560,568.8 548,568.2 532,570.5 530,568.8ZM636,861.3 632,863.1 627,868 623.3,874 620.4,882 620.2,888 621.8,892 624,894.2 628,895.9 634,895.7 638,894.1 640.8,892 646,885.2 648.6,880 650.8,874 651.2,868 649.1,864 646.1,862 644,861.3 640,860.8ZM656,741.5 656,742 656,742 656,742ZM658,790.1 656.4,792 658,793.5 659.7,792ZM662,753.4 661.1,754 661.1,756 662,756.6 663.1,756 663,754ZM668,766.4 666.4,768 668,769.7 669.7,768ZM686,696.5 684.4,698 684,700 686,702.6 688,702.7 690.2,700 689.8,698 688,696.4ZM512,822.3 510,824 509.5,826 510.3,828 512,829.4 514,829.6 516.5,828 517.2,826 516.7,824 514,822.1ZM522,751.3 521.3,752 522,752.6 522.7,752ZM568,817.8 566.6,820 568,822.2 570,822.2 571.4,820 570,817.8ZM662,854.8 660.2,856 659.3,858 660.2,860 662,860.9 664,860.5 665.7,858 665.1,856 664,855ZM743.7,320 840,320 840,334.4 830,334.8 826,336.9 823.7,340 821.4,348 820.5,356 820.7,364 822.6,380 822.5,384 821.6,388 820,390.9 818,392.9 805.2,400 802,402.7 800,405.4 798.6,410 799.2,424 798,430 794.6,434 783.1,440 778.9,444 776.8,450 777.3,464 777,468 776,471 774,474.2 772,476.2 768,478.9 756.3,484 744,490.6 716,501.4 710,502.7 702,502.9 690,501.4 682,499.4 678,497.7 674,494.2 672.9,492 672.6,488 677.2,468 679.9,452 681.4,438 683,432 685.2,428 687,426 698,419.4 701.5,416 702.6,414 703.6,408 703,394 703.9,390 705.1,388 708,385.1 718,378.1 726.8,366 730,363.2 738,357.9 740.2,356 742.9,352 744.7,346 745.3,340 745.2,336 743.8,328ZM507.5,356 510,354.2 512,354.2 514,355.4 515.4,358 515.3,360 514,362.4 512,363.5 510,363.5 508,362.3 506.7,360 506.6,358ZM432.3,462 434,460.1 435.9,462 434,463.8ZM512.7,644 514,643.6 516,644 517,646 516,648.2 514,648.8 511.4,648 510.8,646Z"/>
<path fill="#a0dcff" fill-rule="evenodd" d="M140,320 378.4,320 378.4,326 379.1,330 382,333.4 392,339.5 394.8,342 396.2,344 397.9,348 398.8,354 398.1,380 398.9,402 398.4,410 395.9,418 388.7,430 387.4,436 388.8,454 387.9,474 389.5,484 391.3,490 394.1,496 398,501.8 402,505.9 408,510.5 418,516.9 434.9,526 439.5,530 440.9,532 442.2,536 442.4,544 443.2,548 446,551 452.4,554 460,556.4 466,557.4 470,557.2 474,555.9 477.2,554 498,536.8 504,532.9 510,531.8 524,532.6 530,531.3 532.1,530 534.9,526 538.3,510 539.8,506 542.2,502 544,499.9 548,497.1 552,495.7 558,495.1 578,496.5 606,494.9 612,495.2 615,496 617.7,498 619,502 618.9,510 616.8,532 617.2,536 618,537.9 620,539.7 622,540.4 626,540.6 646,538.6 658,539.1 684.6,544 689.7,546 691.8,548 692.9,552 691,558 686.7,564 678,573.2 674,575.6 670,576.6 656,575.2 650,576.2 647.3,578 644,581.8 642.1,586 641.8,588 642.6,592 643.9,594 654,604 657.1,608 666,627.2 677.3,646 678.4,652 676.4,666 676.8,674 678,679.2 680,684.4 682,688 685.8,692 686.7,694 684,696.2 683,698 682.9,700 683.8,702 686,703.5 688,703.6 690,702.5 691.4,700 691.4,698 690,694.2 689.5,694 696,689.8 702,683.2 706,679.7 708,678.5 712,677.5 724,678.4 728,677.8 730,677 732,675.6 734,673.1 736.5,666 736.9,660 735.4,656 732.8,654 726,650.5 722.8,648 719.7,644 717.1,638 716.7,634 717.5,630 722.9,618 725.9,610 731.4,592 732.6,584 732.2,580 730.9,576 722.8,564 719.9,558 712.9,538 712.5,534 712.9,532 714,530 716,528.1 720,526.4 726,525.4 740,524.6 748,522.8 752,521 762,514.8 768,512.2 774,511.9 778.3,514 779.7,516 780.7,520 780.6,526 779.4,536 777.3,544 770.7,556 770.3,560 771.6,564 777.1,572 779.5,584 780.9,588 783.4,592 785.5,594 796,600.4 800,603.8 808,614.3 812.1,618 822,624.8 830,635 832,636.1 834,636.4 840,636.5 840,1002 140,1002ZM346,495 344,497 344,498.8 346,500.8 348,500.6 348.9,500 349.9,498 349.3,496 348,495.1ZM356,851.3 355.4,852 355.8,854 358,854.2 358.6,852 358,851.3ZM424,627.2 422.9,628 421.8,630 422.3,632 424,633.4 426,633.3 427.5,632 428.1,630 427,628 426,627.3ZM446,847.7 442,850 439.8,852 436.9,856 434.1,862 433.2,868 434,871.3 435.4,874 440.5,880 444,882.6 448,883.5 452,881.8 455.6,878 458.3,874 463.2,864 464.3,860 464.7,856 463.8,852 462.5,850 459.9,848 454,846.5 450,846.7ZM466,685.7 464.4,688 464.8,690 466.4,692 470,693 472,692.7 473.6,692 475.4,690 475.5,688 473.4,686 470,685.1ZM540,565.6 532,567.6 528,566.9 526,567.2 524,568.5 522.6,570 522,571.5 520,573.1 508,578.8 504,581.8 502,583.9 498.6,590 494,605.8 489,618 487.6,624 487.7,630 488.9,634 491.3,638 498.2,646 499.8,650 499.4,654 496.8,662 495.5,668 495.2,674 496.7,680 499.4,684 505.7,690 509.1,694 510.6,698 511.9,706 514,709.9 518,712.7 522,714 526,714.2 530,713.2 541.4,706 556,700.8 560.2,698 562,695.6 563.5,692 566.3,676 568,670 571.5,664 579.8,654 582.3,650 583.9,646 586.1,634 588,630 590,627.7 594,625.1 610,620 616,616.9 620.2,612 621.7,608 622.4,604 622,598 621.3,596 618.5,592 611.3,586 602,580.5 582,573.8 568,567.3 562,565.1 558,564.3 550,564.1ZM638,857.6 632,859.8 627.2,864 622,871.8 618.5,880 617.4,886 618.2,892 621.2,896 626,898.4 630,898.9 634,898.5 638,897.2 642,894.5 644.4,892 648,886.5 652.1,878 654.3,872 655,868 654.8,864 654,862 652.1,860 646,857.7 642,857.3ZM656,739.3 654.8,740 654.8,742 656,742.8 657.2,742 657,740ZM658,789.1 656.4,790 655.4,792 658,794.4 660,793.1 660.7,792 659.8,790ZM662,752.8 660.1,754 660.1,756 662,757.3 664.2,756 664.1,754ZM668,765.4 666.9,766 665.5,768 666.7,770 668,770.7 669.3,770 670.6,768 670,766.8ZM672,779.8 672,780.2 672.7,780ZM680,837.1 679.3,838 680,839.3 682,839.1 682.5,838 682,837.2ZM740,635.8 739.1,638 740,638.8 741.2,638ZM746,653.3 745.6,654 746.6,656 748,656.4 748.7,656 749.6,654 748,652.4ZM490,743.7 489.7,746 492,746.3 492.4,744ZM504,815.8 503.5,818 504,824 506.3,830 508,831.7 510,832.5 512,832.7 516,831.4 518,829.3 519.3,826 519.2,824 517.2,820 516,818.5 512,816 506,815ZM512,793.2 511.4,794 512,795.1 514,794.9 514.4,794 514,793.4ZM522,749.9 520,752 522,753.9 524.1,752ZM568,817.5 566.3,820 568,822.6 570,822.6 571.7,820 570,817.4ZM662,807.5 661.5,808 662,808.4 662.5,808ZM662,853.2 660,854.1 658.2,856 657.3,858 658,860.5 660,861.9 662,862.3 664,861.8 666,860.2 667,858 666.8,856 666,854.8 664,853.4ZM745.3,320 840,320 840,332.3 828,332.8 824,334.5 821.1,338 818.6,346 817.2,358 817.6,366 820,378 820.2,382 819.6,386 818,389.1 816,391.3 812,393.8 802,398.6 798.1,402 796.9,404 795.7,410 796.9,422 796.1,428 793.2,432 790,434.1 780,438.8 778,440.4 776,443.1 774.9,446 774.4,450 775.1,466 774,470 772,473 770,474.8 766,477 750,482 730.4,492 721.1,496 714,498.4 708,499.5 700,499.7 692,498.8 686,497.2 682,495.5 678.1,492 677.1,490 676.5,486 677.2,480 682,456 682.8,440 683.8,434 685.6,430 688,427.1 692,424.3 700.3,420 703.8,416 705.2,410 704.2,398 704.4,394 705.6,390 707,388 710,385.4 718.3,380 721.8,376 728,366.8 732,363.5 740,358.6 743.8,354 745.3,350 746.5,342 746.5,336 745.4,328ZM509.9,356 512,355.9 513.8,358 513.8,360 512,361.8 510,361.8 508.3,360 508.2,358ZM484.7,502 488,500.6 490,500.8 492.7,502 495.9,506 497.9,512 497.9,516 496.1,520 494,521.4 492,521.9 488,521.4 484,518.7 482.4,516 481.6,512 481.6,508 482.9,504Z"/>
<path fill="#82d2ff" fill-rule="evenodd" d="M140,320 376.8,320 376.9,328 378.5,332 382,335.3 390,340 392.5,342 395.3,346 396.7,350 397.4,358 396.5,378 397.4,402 396.7,410 394,417.5 386.6,428 385,432 384.6,438 386,450 385.9,456 384.4,464 382,470.4 380,473.4 378,474.6 370,474.7 366,476.2 362,478.8 358,482.4 355.3,486 352.4,494 348,493.1 346,493.5 344,494.8 342.7,498 344,500.9 346,502 348.3,502 351.7,500 354,497 358,499.9 360,500.6 362,500.8 366,499.8 371,496 378,485.9 380,483.9 382,483.9 384,485.6 386,488.3 394.5,502 400,508.2 412,517 430.7,528 434.5,532 435.8,536 435.4,540 434,543.6 430.5,550 430.1,552 430.7,554 432,555.4 436,556.9 448,557.8 464,561.3 468,561.7 474,560.7 478,558.6 492.1,546 502,538.6 506,536.4 512,535.1 528,535.1 531.8,534 534,532.7 536,530.5 537.3,528 540,512 542,506.5 545.3,502 550,498.8 554,497.7 558,497.4 578,499.1 604,497.8 608,498.1 612,499.6 614,501.3 615.3,504 616.1,510 614.6,522 610.3,538 610.3,542 612.3,546 614,547 618,547.5 640,541.5 648,540.7 654,540.9 662,542.2 680,547.2 684,549.1 686.3,552 686.1,556 684,560 680,565.1 676,569.1 674,570.5 670,572.1 666,572.3 654,571.4 648,573 644,575.9 640.6,580 637,586 635.8,590 636,592 637,594 649.1,604 654.2,610 661.9,628 670.5,644 672.8,652 672.1,668 673.5,678 676.8,688 680.7,696 681.3,700 682.3,702 684,703.8 686,704.8 688,704.9 690,704 692.4,702 694,699.3 698,695.3 704,687.1 708,683.4 710,682.3 714,681.4 724,681.7 728,681.3 731.4,680 734,678.1 736,675.6 737.8,672 742.2,660 744,658 748,657.9 750,657 751.1,656 753,652 756.8,648 757.5,646 757.4,644 756,641.5 753.4,640 750,639.7 744,641.8 737.6,646 734,647 732,646.9 729.2,646 726,643.8 724,641.4 722.3,638 721.6,634 721.9,630 735.9,590 737.1,584 737.2,580 736.4,576 734.4,572 726.1,562 722.9,556 718.7,542 718.1,538 718.8,534 720.1,532 722,530.6 726,529.2 742,527.3 748,525.8 766,516 770,515.2 772,515.4 774,516.1 776,517.8 777.1,520 777.9,524 777,534 775.9,538 774,541.9 765.4,552 763.4,556 762.8,562 764.7,568 772,578.4 777.2,590 780,594 784,597.3 796,604.4 807.7,618 821.3,628 828,637 830,638.9 834,640 840,640 840,1002 140,1002ZM354,849.9 353,852 353.4,854 355.7,856 358,856.1 360.6,854 361,852 360.1,850 358,848.7 356,848.7ZM388,531.9 387.9,534 390,535.7 392,535.5 393.3,534 393.3,532 392,530.5 390,530.3ZM422,627.8 420.9,630 421.2,632 422,633.1 424,634.4 426,634.3 428,632.9 429,630 428,628 426,626.6 424,626.5ZM446,665.8 444,666.3 441.8,668 441.2,670 442,672.8 444.8,676 454,681.6 456,684.7 459.1,692 462.8,696 468,697.6 474,696.8 479.6,694 483.6,690 484.6,688 484.6,686 483,684 478.3,682 464,678.9 460,677.5 458,675.8 452.3,668 450,666.6ZM474,590.3 472.1,592 474,593.7 475.5,592ZM548,559.8 524,567 520,569.9 506,576.8 501.8,580 498.5,584 496.4,588 492,600.2 485.5,614 483.3,622 482.7,630 483.9,636 486,640.1 492.3,648 493.9,652 493.9,656 490.8,678 490.7,682 491.5,684 502,694 504.1,698 506.8,708 510,713.3 514,716.3 522,719.1 528,719.5 532,718.5 536,716.4 546,709.3 560,704.6 564,702 566,699 567,696 569.5,678 571.2,672 574.5,666 584.6,654 587.2,650 588.5,646 589.8,636 591.4,632 594,629 598,626.5 614,621.1 619.1,618 621.1,616 623.5,612 626.3,602 626.6,596 624.4,592 619.3,588 606,579.5 600,576.9 584,571.9 568,563.1 562,560.5 556,559.2ZM606,550.6 605.1,552 605.4,554 606,554.7 608,554.9 609.3,554 609.8,552 608,550.1ZM654,739.6 653.6,742 654,742.5 656,743.5 658.2,742 658.1,740 656,738.6ZM660,753 659.2,754 659.2,756 660,757 662,758 664,757.4 665.2,756 665.1,754 664,752.8 662,752.1ZM666,765.3 664.6,768 665.2,770 666,770.9 668,771.6 670,771 671.5,768 670.8,766 668,764.5ZM672,778 670.5,780 672,781.9 674,781.4 674.8,780 674,778.4ZM680,836.1 678.6,838 679.4,840 680,840.5 682,840.3 683.2,838 682,836.2ZM686,740 686,740 687.4,740ZM704,919.6 703.7,920 704,920.3 704.4,920ZM724,821.3 723.4,822 724,823 726.1,822ZM738,635.7 737.2,638 738,639.4 740,641.2 742,641.2 743.5,638 742.9,636 740,634.6ZM794,643 792.8,644 792.8,646 794,647.2 796,647.1 797,646 796.9,644 796,643.1ZM448,843.7 444,844.9 440,846.9 434.4,852 427.7,862 426.4,866 426.4,868 426.8,870 428.7,874 435.4,882 442,887.4 448,889.7 452,889 454,887.8 458.9,882 463.4,874 467.1,866 469.4,860 470.6,854 469.8,850 468.6,848 466.5,846 464,844.6 460,843.4 456,843ZM464,761.8 464,762.2 466.1,762 466,761.8ZM490,742.9 488.9,744 488.9,746 490,747.1 492,747.2 493.2,746 493.2,744 492,742.8ZM498,791.8 494,792.7 492,793.9 488.8,798 486.9,804 487.7,810 490,813.5 494.6,818 497.7,822 502,831.8 504,834.7 508,837 510,837.3 514,836.8 518,834.6 520.3,832 522.3,828 523.3,822 523,816 521.1,810 518,806.2 514,803.1 511.3,800 514,798.6 516,796.5 516.6,794 515.4,792 514,791 512,790.8 510,792 508.3,794 508,795.6 502,792.6ZM520,749.7 518.9,752 520,753.9 522,754.9 524,754 525.2,752 524.4,750 522,748.8ZM568,817.1 566.8,818 566,820 566.8,822 568,823 570,823 571.2,822 572,820 571.2,818 570,817.1ZM656,788.7 654.9,790 654.5,792 655.6,794 658,795.2 660,794.5 661.6,792 661.3,790 660,788.5 658,788.1ZM662,806.4 660.6,808 662,809.3 663.4,808ZM658,851.6 654,853 642,853.6 636,854.9 630,858 626,861.9 619.6,872 616.9,878 615.1,884 614.6,888 614.9,892 616.7,896 618.5,898 622,900.2 626,901.4 630,901.7 634,901.3 640,899.3 644,896.4 646,894.1 652.8,882 659.4,866 666,861.9 667.6,860 668.4,858 668.5,856 667.9,854 666,851.7 664,850.6 662,850.4ZM747.1,320 840,320 840,329.8 822,329.1 820,330 818,332 817,334 812.9,352 812,360 812.5,366 816.6,378 817,382 816.1,386 814.8,388 812,390.4 797.8,396 794.6,398 792.9,400 792.1,402 791.7,406 794.1,420 793.8,426 792,429.3 790,431.1 786,433 776,436.6 774,438 772.5,440 771.2,446 772.9,464 772.1,468 770,471.2 766,474 762,475.1 756,475.6 746,475 742,475.9 738,478.7 727.6,488 720.9,492 714,494.8 708,496.2 702,496.7 696,496.4 690,495.2 686,493.6 682,490.4 680.7,488 680,484 680.8,476 685,456 685.2,452 684.6,440 685.5,434 687.4,430 690,427.4 702,421.5 705.6,418 707,412 705.6,396 706.4,392 708,389.2 710,387.3 718,382.5 721,380 727.3,370 730,367 741.7,360 745.2,356 747.1,350 747.8,344ZM486.9,502 490.3,502 493,504 494.1,506 494.6,508 494.7,512 494,514.4 492,516.5 490,517 488,516.5 486,515 484,511.7 483.2,508 483.4,506 484.2,504Z"/>
<path fill="#6ebeff" fill-rule="evenodd" d="M140,320 375,320 375.2,328 376.4,332 380,335.9 390,342.1 393.3,346 394.9,350 395.8,358 394.7,378 395.8,400 395.4,408 394,413.1 392,417 384.4,426 382.3,430 381.5,436 382.8,452 382,456.6 380,461 376,464.6 364,469.7 356,476 350.8,482 347.3,490 343.1,494 341.6,498 342.1,500 344,502.6 350,504.9 358,510.8 364,512.2 368,511.5 370,510.2 376.9,502 380,499.2 382,498.3 384,498.3 386,499.2 390,503.3 398,513.5 402,517.2 421.4,528 426.1,532 427,534 427,536 426.2,538 424.1,540 418,542.3 408.1,544 407.8,546 411,550 421.4,560 428,565.1 430,565.8 434,565.8 444,563 450,562.6 456,563.5 468,566.6 474,566 478,564.3 481.2,562 494,549 500.3,544 506,540.4 512,538.4 528,538 534,536.8 537.9,534 539.9,530 541.9,514 544,507.6 546,504.7 549.3,502 552,500.7 556,499.9 561.3,500 578,501.8 602,500.7 608,501.9 610.8,504 612.1,506 613,510 612.4,518 610.6,524 605.8,534 604.3,540 604.9,548 603.6,552 604,554 606,556 608,556.4 612,554.4 620,552.7 638,544.7 648,543 654,543.2 662,544.9 670.1,548 677.2,552 678.5,554 678.4,558 676.1,562 672,566 670,567 666,567.9 654,567.8 648,569.1 642,573.1 632,584.3 628,586.1 626,586.1 622,585 604,575.3 586,569.7 580,566.5 564,556.1 558,553.6 554,553 548,554.3 538,559.1 524,564.7 504,574.5 498,579.2 494.7,584 490,594.4 482.2,608 480,614.6 478.2,624 477.8,634 478.8,640 480.7,644 487,652 488.5,656 488.9,660 488.5,666 487.7,670 486,674.1 484,676.1 480,677.3 474,677 468,675.6 464.8,674 462.3,672 457.4,666 454,663 450,661.2 444,660.2 440,660.4 435.9,662 434.4,664 433.7,666 433.6,670 434.8,674 436.1,676 440,679.6 450,686.5 452,689 456,696.3 458,698.6 460,700 464,701.1 470,701 478,698.8 488,694.4 492,693.9 494,694.6 496.2,696 499.2,700 503.6,712 506,716 511.2,720 520,723.5 528,725.3 534,724.4 538,722 548,714 552.9,712 564,709.4 568,707 570.1,704 571.3,700 572.5,682 574.4,674 576.2,670 578.9,666 590.6,654 593.5,650 594.2,646 594.2,638 596,632.8 598.6,630 602,628 616,623.3 621.9,620 625.3,616 630,605.5 632,602.8 634,601.7 638,601.9 642,603.7 646,606.4 649.6,610 652,614 657.4,628 664.8,642 667.1,648 667.8,652 667.6,670 668.9,678 674.5,696 676.4,700 680.1,704 684,706.4 688,707.2 696,705.3 700.3,702 706,691.9 710,687.4 712.6,686 716,685.2 728,684.6 732,683.5 734.4,682 738,678 743.2,666 745.8,662 748.4,660 762.3,652 765.7,648 766.6,646 767.4,642 766.5,638 765.2,636 762,633.7 758,632.7 752,632.8 746,634.1 744,634.1 740,633 737.6,634 734,638.5 732,638.6 730,637.7 728,635.2 727.2,632 727.2,628 730,616.2 734,604.2 741.1,588 742.7,582 743.2,578 742.6,574 740.2,570 730,560.8 726,554.7 723.3,546 722.8,542 723.3,538 724.2,536 726,534.1 728,533 732,531.8 742,530.5 748,529.1 752,527.3 762,521.2 766,519.4 770,519.1 772.1,520 774,522.3 774.9,526 774.9,530 774.1,534 771,540 762,548.3 758.1,554 756.1,562 756.2,566 757.5,570 768,582.2 774.8,594 778,597.7 781.3,600 790,604.1 794,606.8 805.4,620 816.8,628 820,630.9 826.9,640 829,642 832,643.3 840,643.6 840,740.9 800,741.2 780,740.4 774,740.6 768,741.8 762.8,744 759.8,746 758.3,748 758.3,750 760.4,752 770,754.4 774,755.9 776,755.9 780,754.5 784,754 840,753.6 840,784.6 830,784.7 800,787.1 794,786.8 782,785.1 776,785 772,785.8 768.1,788 766.6,790 765.8,794 768,800 768.3,804 769.2,806 772,807.4 774,807 775.3,806 778,802.3 780,801.5 792,800.1 806,801.2 812,800.9 818,799.2 830,794 840,793.5 840,1002 140,1002ZM354,845.1 352,846.2 350.5,848 350,850 350.6,854 354,857.3 356,857.9 360,857.3 363.5,854 364.4,850 363.6,848 360,845.3 356,844.7ZM376,521.4 374,522.5 372,524.8 370.7,528 370,532 370,536 371,540 372,542 373.9,544 376,545 380,545.5 400,542.9 403.1,542 403.1,540 399.7,530 397.3,526 395.2,524 391.3,522 386,520.9 380,520.7ZM416,963.5 415.2,964 415.3,966 416,966.4 416.8,966 416.9,964ZM424,625.8 422,626.7 420.6,628 420,630 420.6,634 422,635.7 424,636.7 428,635.1 429.7,632 429.8,630 429.2,628 428,626.8 426,625.8ZM430,797.2 429.1,798 430,799.3 431.1,798ZM472,588.5 470.4,590 470,592 470.6,594 472,595.4 474,595.8 476,595.2 477.2,594 477.6,592 477,590 476,589 474,588.2ZM442,737.7 440.6,740 440.7,742 442.6,746 446,748.6 448,748.9 450.7,748 451.9,746 451.8,744 450,740.6 446,737.7 444,737.3ZM454,839.8 444,841.5 436,844.8 420.7,858 419.1,860 417.6,864 418,868 420.1,872 434,887.2 442,893.9 446,895.9 450,896.9 454.7,896 457.3,894 458.9,892 472,866.3 481,852 481,850 479.8,848 475.2,844 470,840.8 464,839.4ZM464,759.8 462.7,762 464,763.8 466,763.8 467.2,762 466,759.9ZM492,742 490,742 488.1,744 488.1,746 490,747.9 492,748 494.1,746 494.1,744ZM520,747.6 517.9,750 517.3,752 518.3,754 520,755.5 522,755.9 524,755.6 527.4,752 527.5,750 524,747 522,746.8ZM534,745.6 532.8,746 531.2,748 534,749.7 538,749.9 540.2,748 538,745.7ZM546,861.6 546,862.5 548,862.4 548.2,862ZM550,925.5 547,928 546.1,930 546.1,932 546.9,934 548.7,936 552,937.5 556,937.7 560,936.4 562.7,934 564.1,930 563.6,928 561.9,926 560,925.1 556,924.4ZM568,816.7 566.4,818 565.5,820 566.3,822 568,823.4 570,823.4 571.7,822 572.5,820 571.7,818 570,816.7ZM656,737.8 654,738.4 652.7,740 652.6,742 654,743.7 656,744.6 658,743.7 659.2,742 659,740 658,738.7ZM660,751.7 658.3,754 658.4,756 660,758.4 662,759.4 664,759.2 665.4,758 666.4,756 666,754 664,751.5 662,750.9ZM680,835.4 677.8,838 678.3,840 680,841.4 682,841.2 683.3,840 683.9,838 682,835.4ZM686,738.7 685.1,740 686,741.5 688,741.4 688.8,740 688,738.8ZM704,918.9 703,920 704,921 705.1,920ZM724,819.4 722.9,820 721.5,822 722.1,824 724,825.1 726,824.6 727.4,822 726,819.7ZM794,641.6 791,644 790.9,646 794,648.8 796,648.6 798.2,646 798,644 796,641.9ZM764,915.6 764,916.4 766,916.7 766.5,916 766,915.3ZM402,685.6 398,687.5 395.1,690 393.6,692 392,696 392.1,702 394,704.9 396,705.9 400,705.8 406,703.3 412,698.5 414.9,694 415.3,690 414.5,688 412.2,686 408,684.9ZM492,780.7 490,782.4 488,785.7 483.4,798 482.5,806 483.7,812 486.3,816 494,824.1 496.1,828 499.2,836 502,839.5 504,840.6 508,841.4 512,841.2 516,840.1 519.9,838 522.1,836 524.9,832 527,826 528.9,816 530,806 529.7,800 528.6,796 526,792.3 522,789.6 498,780.7 494,780.1ZM666,763.4 664,765.9 663.2,768 664.5,774 656.4,782 653.9,786 652.9,790 653,792 654.2,794 656,795.6 660,795.7 662.2,794 664,791 666.8,788 669.2,784 674,783.1 675.8,780 675.3,778 674,776.5 672.1,776 670.3,774 672.8,770 673.2,768 672.7,766 670,763 668,762.6ZM400,970.6 398.8,972 400,973.4 401.7,972ZM654,835.7 652,836.5 648.9,844 646,847.2 634,852.5 628,856.5 623.3,862 618.4,870 613.2,882 611.6,890 611.9,894 613.4,898 615,900 618,902.2 624,904.2 632,904.5 640,902.7 644.5,900 648,896.1 650,892.7 662.1,868 663.6,866 668.2,862 671,858 673.5,852 673.3,850 672.4,848 668,844.3 656,836.5ZM662,805.4 660.9,806 659.7,808 662,810.1 664.3,808 663,806ZM749.2,320 802.5,320 802.6,328 805,336 805,340 804,342.3 802,343.4 800,343.1 792.2,338 784,333.9 778,332.7 775.2,334 774,335.7 773.4,338 773.4,344 774.6,350 779.7,364 780.1,368 779.3,372 776.4,376 774,377.8 764,382 762.5,384 761.8,388 761.1,402 759.7,408 756.2,414 746,423.7 743,428 740.9,434 738.4,448 735.8,454 734,456.3 730,459.2 726,460.5 720,461.4 718,462.2 716.3,464 715.7,466 716,468.5 720.7,478 721.2,480 720.7,484 717.6,488 714.7,490 710,492 706,493 700,493.5 696,493.2 690.9,492 687.2,490 685.2,488 684,485.7 683.3,482 684,473.5 688.1,458 688.6,454 686.5,440 687.3,434 689.6,430 692,428 696,426.2 706,423.3 707.9,422 709.1,420 709.6,414 707.2,398 707.5,394 709.6,390 712,388 719.8,384 722.4,382 724,379.9 728.1,372 731.6,368 736,365.4 744,362.3 746.7,360 748.4,356 749.4,348ZM736,393.9 734,395 733.2,398 734,401.3 736,402.6 738,401.6 739.5,398 739.2,396 738,394.4ZM801.4,376 804,375 806,375 808,375.8 810,377.6 811.2,380 811.5,382 811,384 809.6,386 806,387.8 804,388.2 800,387.6 798,386 797.4,384 798,380 799.2,378ZM781.8,410 784,410 786,411.1 788,413.3 790.2,418 790.6,424 790,426 788,428.2 784,430 780,430.2 778,429.7 775.6,428 774.2,424 774.3,420 776.5,414 778.1,412ZM759.9,448 762,447.3 764,447.5 766,449.1 768,452.6 770,460 770,464 768.4,468 766,470.1 762,471.1 758,470.6 756,469.6 754.2,468 752.5,464 752.5,460 753.5,456 756,451.5ZM485.7,504 488,502.9 490,503.2 491.2,504 492.4,506 492.7,508 492.2,510 490,512 488,512 485.6,510 484.7,508 484.7,506Z"/>
<path fill="#50a5ff" fill-rule="evenodd" d="M140,320 373.1,320 373.5,330 375.1,334 379.2,338 388,343.1 392,347.6 393.5,352 394.1,358 392.7,378 394.1,402 393,410 390,416 381.7,424 379.1,428 378,434 379.1,448 378,454 376,457 374,458.7 362.8,464 358,467 348.6,476 345.9,480 344.2,484 342.8,490 340.5,496 340.6,500 345.5,508 350,518.3 356.3,528 363.1,548 366,552.2 370,555.2 376,556.9 394,555.3 404,557.1 412,560.6 424,570.6 426.4,572 430,573.1 434,572.8 446,568.1 450,567.5 454,567.9 458,569.2 462.8,572 464.7,574 465.6,576 465.7,578 463,586 462.5,590 462.8,592 464.8,596 472.3,604 473.2,606 474,610 474,616 472.2,636 472.6,644 474.2,648 482,656.7 483.4,660 483.9,664 483.2,668 482,670.3 480,672 476,673 472,672.6 466.7,670 460,661.8 456,658.9 442,654.7 438,652.8 436,650.7 434.8,648 433.7,638 430.7,628 428.8,626 426,624.6 422,625.1 412.1,634 409.7,638 408.4,644 409.2,648 410.4,650 414,653.5 420,658.1 423.4,662 424.9,666 425.5,670 425.2,678 424,679.4 412,678.3 404,678.7 398,680.1 392,683.3 387.5,688 384.7,694 383.7,702 384.6,708 386,711.3 388,713.9 392,716.2 398,716.5 402,715.4 406,713.3 414,706.5 419.6,700 423.8,692 426,683.4 428,681.9 440,686 445.9,690 448.6,694 452,705.7 454,706.8 470,704.3 486,699.9 490,699.7 492,700.3 494,701.8 496,704.5 500,716.2 502,720.1 506,723.6 515.3,728 518.3,730 520,732 520.2,734 519.2,736 517.1,738 505.1,744 502.6,746 500.2,750 498,758.1 496,759.6 490,761.8 486,764 483.8,766 481.5,770 480.7,774 480.2,788 478.5,802 478.8,810 479.8,814 482,818 490,826 492,829.4 493.1,834 492.6,838 492,839.4 490,840.8 486,840.9 482,839.6 472,834.5 468,833.8 438,838.8 416,844.3 412,847.7 408.4,854 407.3,860 407.6,864 409.1,868 411.9,872 424.2,884 436,896.5 442,900.9 448,904.1 458,907.6 460,907.6 462,906.6 464,902.3 466.2,892 469.8,882 475.7,870 480,864.5 491.1,856 498.5,848 502,846.7 512,845.1 518,843.5 524,840.1 527.4,836 530.8,828 533.9,814 535.4,800 534.6,792 532,787.1 528,784 512,778.1 505.9,774 504.3,772 502.3,768 501.7,764 502.3,762 506,760.4 512,759.8 542,760.2 548,758.3 550.8,756 553.2,752 553.7,750 553.3,746 551.7,742 544.8,732 544.4,730 545.3,726 548.1,722 552,719 556,717.4 568,714.2 571.5,712 573.4,710 574.7,708 576,704 576.4,682 577.8,676 579.5,672 582.2,668 586,664 592,659.8 600.5,656 603,654 604,652 603.4,648 600.2,640 600.3,636 601.2,634 602.9,632 606,630 620,625.6 626,622.6 628.4,620 634.2,610 636,608.8 638,608.5 640,608.8 642.5,610 646,613.4 648,617.1 652.2,628 661.1,644 662.9,650 663.3,654 662.1,668 662.3,674 666.7,690 668.8,700 670.4,704 672,706.2 676,709.2 680,710.9 686,712.6 694,712.8 698,712 702,710.4 705.3,708 706.8,706 710.2,696 712,692.9 714,691.1 718,689.4 732,687.5 736,685.6 740,681.2 746,667.4 748.8,664 752,661.8 774,654.5 778,654.2 788,655.3 794,655.3 799.4,654 801.2,652 801.5,650 800.9,646 799.2,642 798,640.7 780,629.7 770,622.2 766,621.6 752.6,626 742,628.5 738,628.6 736,627.9 734.5,626 733.8,622 734,618 736.6,608 740,600.7 748,586.7 750,583.9 752,582.2 754,581.5 756,581.6 758,582.3 762,584.7 766,589.2 770.9,598 774.4,602 778,603.9 788,607.1 792,609.6 794.4,612 802,622 806,625.3 816.1,632 825.8,644 828,645.9 832,647.5 840,647.7 840,733.8 798,734 778,733.2 772,733.7 762,736.5 748.6,742 746.3,744 744.9,748 745.7,752 748.7,756 752.2,758 758,759.2 840,758.9 840,779.4 830,779.5 804,781.3 780,780.1 772,780.6 766,782.8 762.2,786 760,790 759.4,794 760,798 762.1,802 767.4,808 770,809.4 772,809.8 774,809.6 780,807.5 784,807.1 792,806.9 804,807.7 810,807.2 818,804.7 830,798.4 840,797.9 840,1002 140,1002ZM352,837.7 348,838.8 346,839.9 344,841.8 342.8,844 342,848 342.6,852 344,854.9 346,857.1 351.5,860 358,860.8 362.1,860 367.6,858 372,854.5 373.3,852 373.1,848 370.6,844 368.4,842 364,839.5 360,838.2ZM366,633.7 364.1,634 365,636 366.2,636ZM378,659.8 377.7,662 378,662.2 378.4,662 378.4,660ZM398,969.8 397.1,972 398,974.2 400,975.1 402.6,974 403.4,972 402.7,970 400,968.8ZM448,711.8 435.4,720 424,726.5 420.5,730 419.3,732 418.1,736 418.7,740 420,742 434.7,754 438,756.2 442,758 448,758.9 454.6,758 460,755.2 462.8,752 463.6,750 464.3,746 463,740 455.1,728 453.3,724 450,712.4ZM488,741.9 486.6,744 486.7,746 488.1,748 490,749.5 492,749.7 495.1,748 495.9,746 495.8,744 494,741.3 492,740.3 490,740.4ZM416,961.7 414,962.7 413.1,964 413.1,966 414,967.2 416,968 418,967.3 419,966 419.1,964 418,962.5ZM512,897.6 510,899.3 508,903.1 505.4,918 505.3,922 505.9,926 508,928.6 510,929.1 514,927.9 520,922 523.8,916 525.3,910 524.5,904 522,899.8 518,897.2 514,896.8ZM544,785.9 543.8,786 544,788.1 544.5,786ZM546,859.7 544.4,862 546,864.7 548,864.6 549.5,862 548,859.8ZM566,817.8 565,820 565.7,822 568,823.7 570,823.7 572.3,822 573,820 572.2,818 570,816.3 568,816.3ZM634,821.9 634,824.2 636,824.4 636.5,824 636,821.7ZM654,736.6 652.2,738 650.8,740 650.8,742 652,744 656,747 658,746.3 659.8,744 660.4,742 660,740 658,737.3 656,736.5ZM680,834.7 678,836 676.7,838 676.6,840 678,841.9 680,843 682,842.3 684,840.6 684.8,838 683.8,836 682,834.7ZM686,737.6 684.3,740 685.1,742 686,742.8 688,742.7 689.6,740 688,737.6ZM706,823.9 703.3,826 701.9,828 701,832 702,835 704,837.1 708,838.8 712,838.7 714,837.9 716.5,836 718,833.4 718.6,830 717.9,826 715.4,824 712,822.8 710,822.7ZM722,818.9 719.3,822 718.8,824 720.2,826 722,826.7 724,826.9 726,826.2 728.2,824 728.7,822 728.1,820 726,818.3 724,818.1ZM764,913.7 762.7,916 764,918.2 766,918.3 767.7,916 766,913.5ZM430,795.6 427.1,798 428,801.1 429.5,802 428,803.9 421.3,808 419.4,810 417.7,814 418.1,820 420,822.8 422,823.5 424,823.3 433,820 446.7,816 450.4,814 452.4,812 453.3,810 453.3,806 452,803.2 450,801.3 448,800.2 444,799.4 434,801 433.3,798 432,796.5ZM462,759.3 461.2,762 462.4,764 464,765.1 466,765.2 467.6,764 468.6,762 467.9,760 466,758.2 464,758.1ZM566,917.9 550,919.7 546,921 542,923.4 540,926 539,930 539.5,934 542,938.7 544,940.7 548,942.9 556,944.3 562,944.1 566,943.3 568.9,942 571.5,940 575.4,934 578.3,926 579.1,922 578.5,920 576,918.5 572,917.8ZM658,749.3 656.7,752 656.4,754 656.5,756 659.1,762 658.6,768 657,772 650,782.1 648.3,788 649.1,792 650.3,794 654,797 658,798.1 662,797.7 666,796.3 670,793.6 673,790 677.3,782 678.9,764 678,757.5 676,754 674,752.3 670,750.4 664,748.5 660,748.3ZM704,918.2 702.3,920 704,921.7 705.8,920ZM650,827.7 648,829.4 646.4,832 643.6,840 641.2,844 639,846 630,851.7 625.3,856 619.5,864 613.2,876 608.8,888 607.8,896 608.4,900 609.3,902 610.9,904 614,906 622,907.9 632,908 640,906.6 646,903.7 650,899.2 657.5,882 664,870.4 667.7,866 676.7,858 679.3,854 679.8,850 679.3,848 676.4,844 666,837.1 656,827.8 652,827ZM660,805.3 658.9,808 660,809.9 662,810.9 663.8,810 665,808 664,805.4 662,804.5ZM752.2,320 765.9,320 766.9,340 766.6,350 765.4,356 764,358.3 762,359.5 758,359.7 756,359 754,357.2 752.8,354 752,349.8 751.7,342ZM736.8,368 742,367.6 744,368.4 745.5,370 746.3,374 745,380 742,383.3 738,384.7 730,385.2 728,384.3 727.8,380 729.7,374 732.9,370ZM717.5,388 724,387.3 725.3,388 725.9,390 726.3,404 725.8,410 724,414.4 722,416.2 720,416.9 718,416.8 716,415.9 714,413.8 710.6,406 709.2,400 709.2,396 710.7,392 714,389.3ZM692.9,430 698,428.2 702,428.3 705.5,430 707.3,434 707.4,440 706.5,444 704,448.8 700.2,454 700,456 709.8,478 710.6,482 710.3,484 709.1,486 706.3,488 702,489.3 696,489.3 691.8,488 689.2,486 688,484.2 686.9,480 687,476 688.2,470 690,465.4 695.8,456 695.8,454 690,444.3 688.9,440 689.6,434 690.7,432ZM551.1,504 554,502.9 558,502.5 576,504.9 598,503.7 604,504.5 606.9,506 608.6,508 609.4,510 609.5,516 607.4,522 600.4,534 599.3,538 598.9,542 599.6,548 601.6,554 602.7,556 606,559 610,560.2 616,559.4 624,555.8 638,547.9 644,546 650,545.4 658,546.7 665.2,550 669.4,554 670.2,556 670,558 669,560 666,562.2 662,563.3 650,564.8 644,567.1 640,570 634,576.4 630,579.7 628,580.5 624,580.7 618,578.6 606,571.5 592,568.4 585.9,566 579.8,562 566,550.7 562,548.2 556,546.2 550,546 546,547.5 538.8,554 534,557 498,573.3 492.9,578 486,588.1 484,589.3 482,589.2 479.2,586 477.1,582 476.3,578 476.8,576 478.1,574 486,565.9 493.2,556 498.7,550 506,544.5 512,541.9 518,541.1 536,540.8 538.8,540 541.4,538 542.4,536 543.3,532 543.7,518 544.8,512 546,509.1 548,506.3ZM379.9,506 382,504.9 384,505.4 385.7,508 385.2,510 384,511 382,511.4 380,510.5 379.1,508ZM486.3,506 488,504.3 490,505.1 490.6,506 490.4,508 490,508.6 488,509.1 486.8,508ZM764.4,524 768,523.6 770,524.8 770.8,526 771.4,530 770.4,534 767.5,538 758.9,544 756,546.7 748,560.3 746,561.7 742,562.1 736,559.8 732,556.6 729,552 727.3,546 727.5,542 728.2,540 729.7,538 734,535.7 746,533.9 750,532.7 760.3,526Z"/>
<path fill="#3c96ff" fill-rule="evenodd" d="M140,320 370.9,320 371.3,332 372.5,336 373.8,338 376.3,340 386,344.6 388,346.1 390,348.6 391.8,354 392.1,358 390.3,378 390.5,386 392.1,400 391.4,408 390,411.6 388,414.3 384,417.6 376.8,422 375,424 374.1,426 373.4,432 374.5,446 374,449 372.4,452 368,455.1 358,458.7 352,462 345.5,468 341.3,474 339.4,480 338.7,486 338.2,498 339.5,506 339.8,512 338.3,528 340,532.2 348,538.9 350,541.2 356.3,552 360,557.3 364,561.3 370,564.8 374,566 380,566.6 398,564 406,564.8 412,567.8 422,577 428,579.5 432,579.8 436,579.3 448,575.4 450,575.4 452,576.2 453.4,578 453.9,580 454.2,590 455.8,596 458,600.1 465.3,610 466.9,614 467.6,618 467.6,624 465.7,642 464.4,650 463.3,652 462,652.9 458,653.3 452,652.7 448,651.7 444,649.6 442,647.6 440.4,644 438.9,634 437.4,630 434,626.3 430,624 424,622.4 416,622.9 412,624.2 408,627 403.5,632 399.6,638 397.3,644 397,648 398.2,652 400,654.9 409.7,664 410.7,666 410.5,668 407.9,670 396,673.2 392,674.8 387,678 383.1,682 380.5,686 377.9,694 377.5,706 379.1,716 382,722.2 388.8,730 388.7,732 382,739.9 380.2,744 379.9,748 380.3,750 382,752.5 386,754.8 390,755.6 410,755.2 416,755.9 422,757.9 432,763.9 438,765.8 444,766.2 460,765.7 464,767.4 468.4,768 470,770.5 471.6,776 473.2,784 473.9,792 473.7,808 474.1,818 473.5,822 471,824 464,826.7 458.3,830 454,831.7 448,832.9 444,832.8 440.3,832 438.3,830 438.6,828 440.1,826 444,823.6 456,818.7 458,817 459.8,814 460.7,810 459.9,804 458,799.8 454,795.7 450,793.8 446,793 440,793 434,793.8 430,793.5 424,795.5 414,796.6 408,797.9 404.5,800 403.2,802 402.6,806 405,822 405.1,830 403.6,838 398.6,852 397.9,856 398.4,862 400.5,868 403,872 418.4,886 421.5,890 427.5,900 445.2,912 449.1,916 456,925.7 460,929.1 464,930.7 466,930.9 469.2,930 471.3,928 473,924 473.6,920 473.7,898 474.3,892 478,880.5 482.1,872 486,867.9 496,861.5 506,852.3 511.4,850 522,847.4 526,845.7 530,842.3 532.6,838 534.8,832 536.7,824 540.7,792 541.9,790 544,790.1 546,789.4 547.2,788 547.3,786 546,784.4 544,783.7 540,784.4 537.6,780 532.7,774 531.8,772 548,766.5 554,762.4 558,757.4 560.1,752 560.3,748 559.6,744 555.8,732 556.1,728 557.4,726 559.7,724 570,719.2 574,716.7 577,714 579.7,710 581,706 581.3,702 580.5,688 580.9,682 582.5,676 586,670.4 588.6,668 592,666 596,664.9 608,664.3 610,663.4 612,661.4 614,656.2 614.2,652 613.3,648 609,640 608.5,638 608.8,636 610.3,634 616,631.7 638,628.2 642,628.9 646,631.4 650,635 655.2,642 657.1,646 658.2,650 658.1,658 654.7,670 653.9,676 654.9,682 658.4,692 661.4,708 662.5,710 666,712.6 688,719.3 692,719.6 698,718.8 708.4,716 714,713.6 715.6,712 716.5,710 717,702 718.2,698 720,695.9 724,694.1 736,692.3 738,691.8 740.9,690 743.1,686 747.3,672 749.8,668 752.4,666 756,664.5 762,663.7 774,664.8 786,664 794,664.9 798,666.5 799.9,668 801.3,670 801.9,674 799.9,678 796,680.7 784,686.1 776,694.2 772,697 766,698.1 752,696.7 746.9,698 744,701.7 741.1,710 738.9,714 736.2,716 728,718.9 726,720.5 724.5,724 724.6,730 726.4,736 734,747.9 738.9,758 742.3,762 748,764.8 756,765.7 776,764.8 808,765 840,764.3 840,774.2 804,775.6 776,774.8 770,775.4 766,776.4 760,779.6 756.2,784 753.7,790 753,796 753.2,800 754.3,804 756,807 758,809.2 764,812.5 768,813.5 774,814.2 798,814.1 808,812.9 814,811.2 818,809.4 830,801.8 840,801.2 840,1002 140,1002ZM314,823.9 311.6,826 310.9,828 311.6,830 314,831.3 318,831.5 327,830 328.7,828 327.7,826 324,823.4 320,822.6ZM340,829.9 334,830.9 332.7,832 332.6,834 334.6,850 336.1,856 338,860 342,863.8 346,865.4 350,866 356,866 364,865 370,863.4 374,861.7 378,859 380.8,856 382,852 381.9,850 380.3,846 375.4,840 368,834.1 362,831.1 358,830.2 350,829.6ZM364,632.4 362.7,634 362.8,636 364,637.3 366,637.5 367.9,636 368.1,634 366,632.1ZM370,797.9 366,799.5 362.6,802 360,805.3 358.9,808 358.8,812 359.6,814 362,816.7 364,817.8 368,818.1 374,815.6 378.3,812 381.9,806 382,802 380,799.3 376,797.7ZM376,659.8 375.8,662 378,663.5 380.6,662 380.6,660 380,659.3 378,658.5ZM398,968 396.2,970 395.6,972 396.2,974 398,976 400,976.8 402,976.5 404.9,974 405.4,972 405.1,970 402,967.3 400,967.1ZM406,903.8 402,905.8 399.8,908 398.8,910 398.6,912 399.2,914 400.7,916 404,918 408,918.8 412,918 416,915.5 418.9,912 420.1,908 419.7,906 417.8,904 414,903 410,903ZM544,859 542.9,860 542.2,862 542.3,864 543.5,868 543.1,870 544,872.1 546,872.1 548,870.2 548.6,868 550,866.5 551.3,864 551.4,862 550.6,860 548,858.2 546,858.1ZM568,816 565.1,818 564.6,820 565,822 568,824.3 570,824.3 573,822 573.5,820 572.9,818 572,816.9 570,815.9ZM632,811.8 632,814.2 634.4,814 634.4,812ZM648,721.8 646,723.5 644,728 642.7,736 642.8,742 644.6,748 652,760 653.1,766 651.5,772 645.9,782 644.8,786 644.7,790 645.8,794 648.5,798 652,800.7 658,802.9 658.9,804 658.1,808 658.8,810 660,811.2 662,811.6 664,811 665,810 665.8,808 665.6,806 664.6,804 665.4,802 670,799.9 674.8,796 677.9,792 681,786 683.7,774 685.6,760 685.5,754 684,750.2 682,748 678.3,746 668,742.4 664,739.9 659.2,734 654,723.2 652,721.7 650,721.3ZM686,736.5 684.1,738 683,740 683.4,742 686,744 688,743.9 690,742.2 690.8,740 689.8,738 688,736.5ZM710,817.9 704,819.9 698.9,824 696.4,828 695.1,834 696,838 698,840.6 700.2,842 704,843.4 710,844.2 716,843.2 720.7,840 723.1,836 724.6,830 728.6,826 729.7,824 730,822 729.7,820 728.3,818 726,816.6 722,816.7 718,818.2ZM764,912.5 762.3,914 761.6,916 762.3,918 764,919.4 766,919.5 768.5,918 769.3,916 768,913.3 766,912.3ZM368,924 366.4,926 367.3,928 368,928.4 368.9,928 370.2,926ZM414,959.8 411.7,962 410.9,964 411,966 412.1,968 414,969.7 416,970.1 418,969.8 420.6,968 421.6,966 421.3,962 418,959.1 416,958.9ZM634,821.4 633.5,822 633.4,824 634,824.7 636,825 637.1,824 637,822 636,821.2ZM652,821.6 648,823.4 645.6,826 643.3,830 640,838.1 637.6,842 626,851.9 620.9,858 611.7,874 601,898 598,901.7 594,904.1 558,913.7 548,915.2 540,915.4 536.7,914 535.3,912 534.1,908 531.6,894 530,890 528,887.3 522,883.1 516,880.8 512,880.4 510,880.8 506,882.7 502,886.5 500,891.3 500.6,910 496.6,930 496.7,932 498,934.9 500,936.9 504,938.8 508,939.6 512,939.3 518,937 526,931 528,930.5 530,931.8 534.7,942 538,945.7 544,948.8 555.6,952 559.6,954 563.2,958 566,965.6 567.7,968 572,970.2 580,970.7 598,968.7 606,968.9 612,970.7 622.4,976 630,977.9 638,977.2 641.8,976 645.6,974 648,972 650.7,968 652.2,962 652.1,958 650.1,948 650.7,936 649.8,930 648.6,928 645.8,926 642,924.7 629.8,922 625.1,920 623.7,918 625.1,916 628,915.1 644,912.5 648,911.5 650.7,910 652,908.6 653.1,906 655.5,894 657.4,888 662,878.2 668,870 672,866.6 679.1,862 683.3,858 685.4,854 686.1,850 684.8,844 685.9,838 685.2,836 684,834.9 682,834 680,834 678,834.7 676,836.5 674,837.2 668,833.4 658,823 654,821.5ZM704,917.6 701.6,920 704,922.4 706.4,920ZM757.8,334 760,335.6 760.8,340 760,344.9 758,346.5 756,344.3 755.5,340 756,335.5ZM735.6,376 736,374.8 736.5,376ZM713,394 716,392.1 718,392.1 720.5,394 721.5,398 721.1,402 720,405.1 718,406.8 716,406.7 714,405.1 712.4,402 711.7,398 711.9,396ZM693.3,434 696,432.2 698,432.1 700.7,434 701.4,436 701.3,438 700,440.9 698,442.6 696,442.8 694.2,442 692.8,440 692.1,438 692.3,436ZM693.4,474 694,472.9 696,472 698.7,474 700.4,478 700.2,480 698.5,482 696,482.2 693.3,480 692.7,478ZM554.1,506 560,505.6 572,508.3 578,508.9 598,507.6 602,508.7 604,510.3 605.2,514 604.3,518 602,522 595.6,530 593.2,536 592.8,540 593.3,546 596.1,558 596.1,560 594.7,562 592,562.5 590,562.2 584,558.9 576.8,552 570,542.8 568,541 564,539.3 554,537.7 550,535.2 548,531.3 546.9,526 546.3,520 546.6,516 547.7,512 548.7,510 550.5,508ZM736.3,542 738,541.5 742,541.4 744,542 745.8,544 745.5,548 744,550.8 742,552.5 740,553 738,552.8 736,551.7 734.5,550 733.5,546 734,544ZM512.7,546 520,544.8 528,545.3 532,546.7 533.6,548 533.8,550 532.7,552 528,555.5 514,561.7 506,564.1 502,564.2 500,563.3 499.1,562 499.1,560 499.6,558 502,554 506,549.9ZM642.7,550 650,548.7 656,549.9 659.2,552 660.6,554 660.5,556 658,558.4 646,561.5 640.1,564 637.5,566 631.9,572 628,574.6 626,575.1 622,574.5 618.2,572 616.9,570 616.8,568 618,566 620.4,564ZM755.7,594 758,594.6 759.7,596 760.9,598 761.9,602 760.8,608 758.4,612 754,616.2 748,618.7 744,618.3 742,616.3 741.5,614 742,610 743.6,606 746,602 750,597.1 754,594.3ZM781.6,614 784,612.7 786,612.8 788.5,614 791.4,618 792.1,620 792,622 790,623 788,622.7 784,620.4 782,617.8 781.4,616ZM470.3,662 472,660.5 474.4,662 474.8,664 474,665 472,664.7ZM432.8,698 434,697.1 436,696.7 437.5,698 437.5,700 436.6,702 432,707.2 430,708.3 428,708.1 427.9,706 428.8,704ZM477,706 486,704.6 490,705.9 491.8,708 492.8,710 493.5,714 493.2,718 491.3,722 488,724.7 478,729.5 472,730.4 468,729 464,725.5 461.4,720 461.2,716 463.1,712 465.5,710 470.1,708ZM750.5,724 752,723.5 755.8,724 757.5,726 756,728 752,728.8 749.9,728 749.2,726Z"/>
<path fill="#2878ff" fill-rule="evenodd" d="M140,320 183.8,320 184,326.9 185.3,330 190,332.8 200.4,336 203.6,338 204.9,340 205.3,344 202.9,362 203.8,368 206.1,372 208.2,374 216,379 219.4,382 228,394.8 236,402.3 244,411.3 258,420.4 261.1,424 266.5,432 278.6,442 288,453.8 299.9,462 302.8,466 307.3,478 310,481.2 312,482 314,482.1 326,479.5 328,479.9 330,481.3 332,484.7 333.3,490 334.1,498 334.1,506 332.2,514 326.9,524 325.5,528 325.4,532 326.3,536 328.2,540 332,544.7 344,552.5 347.8,556 358,569.4 362,573.8 366,576.4 372,577.1 384,575.5 398,572.8 404,572.9 408,574.6 416,583.3 420,585.4 426,586.4 438,587 442,588.1 444.4,590 447.1,594 457.5,614 459.7,620 460.3,630 458.8,640 458,642.1 456,644.7 454,645.7 452,646 450,645.4 448,644 446.8,642 446,639.6 444.6,630 442.7,626 441,624 438.1,622 433.1,620 416,616.1 410,616.3 406,618.3 396,627 392,629.3 390,629.7 386,628.8 374,620 370,618.9 367.1,620 366,621 364.5,624 363.3,630 361,634 361.1,636 364,639.3 368.2,640 378,647.4 381.3,652 382.5,656 382,656.5 378,656.3 376,657.2 374.2,660 374.2,662 376,664.9 378,665.7 381.8,666 381.1,668 373,680 370.6,686 369.7,692 369.8,708 368,715.1 366,717.6 362,719.5 336,721.2 328.6,720 318,715.1 314,715.1 312,715.7 308,718.7 288,738.6 284,740.8 274,744.3 268.2,748 266,750.5 260,760.2 256,763.6 250,765.8 240,766.8 234,766.5 222,764.3 216,764.2 210,766.1 206.4,770 204.5,776 204.2,782 205.2,788 206,789.8 208,791.1 242,791.3 253.8,792 252,794.1 246,795 234,795.6 220,797.7 216,797.7 210.4,796 206,792.2 204,791.4 186,789.6 160,784.5 156,784.5 148,785.6 140,785.7ZM158,681 156.1,684 155.7,688 156.5,690 158,691 160,690.8 162,689.9 163.8,688 164.6,686 164.7,684 164,682 162,680.4 160,680.2ZM212,523.9 206.1,526 202.8,528 199.3,532 198.1,536 198.2,540 200.1,550 198.3,566 198.9,572 200,574.6 202,577.2 204,578.7 208,579.9 212,579.7 216,577.6 219.1,574 223.5,566 226,562.8 238,553.8 241.8,548 243.9,540 243.7,536 242,531.3 239.1,528 234,524.8 230,523.4 224,522.6 218,522.9ZM354.3,320 367.7,320 367.4,330 365.7,334 364,335.2 360,335.2 358,334.3 356,332.5 354.4,328ZM375.6,348 378,346.6 380,346.3 384,347.3 386,348.6 388,351 389.4,356 389.3,362 386.9,374 386.4,380 386.9,386 389.2,398 389.4,404 388.4,408 386,411.5 384,412.9 380,413.9 378,413.6 375.7,412 374,408.4 373.4,404 375,380 373.5,356 374,351.7ZM361.5,436 364,436 366,439.6 366,442.3 364,444.8 362,444.8 360.9,444 359.7,442 359.9,438ZM554.6,510 560,509.5 564,510.8 569.2,514 571.1,516 571.9,518 571.5,520 568.2,524 564,527.4 560,529.3 556,529.4 554,528.6 552,526.6 550.1,522 549.8,518 550.7,514 552,511.8ZM586.3,518 590,516.3 592,517 592.3,518 590,519.5 588,520ZM636.3,638 640,638.1 644,639.1 648,641.5 650,643.7 652,647.3 652.8,650 652.9,654 652,658 650,662.4 640.5,676 636,684.9 633,688 626,692.3 622.8,696 620.2,702 616.9,716 614.6,718 608,721.9 604.9,726 603.4,730 602.7,736 603.4,742 605.1,746 608,748.6 612,749.5 616,748.3 618,746.8 619.8,744 620.2,742 619.5,728 620,722 622,719.8 626,719.3 630,720.3 632.4,722 634.7,726 635.5,730 635,742 635.4,746 637.1,750 645.1,760 646.3,762 647.4,766 647.1,770 641.8,784 641.4,790 642.2,794 644,798.1 648,803.2 656,809.7 658,812.2 660,813.6 662,813.5 664,812.7 666,810.8 668,807.6 674,803.8 678,800.5 681.9,796 685.7,790 688.4,782 691.3,766 695.7,754 696.5,750 695.8,746 692.8,738 690,734.4 686,734.2 680,737.7 676,737.8 672,736.9 668,734.4 666.2,732 665.2,728 666,724.9 668,722.9 670,722.2 674,722.3 679.2,724 688,729.6 690,730.2 692,729.9 700.4,726 704,724.9 710,724.7 712.8,726 715.7,730 720,743.7 726.8,756 728.7,762 732,779.7 734,781.4 740,782.1 741.3,784 740.8,788 740,789.8 738,791.7 732,792.9 731.4,794 729.7,810 728,810.8 712,812.5 706,814.2 702,816 696,820.5 693.2,824 688,832.7 686,833.5 682,832.4 676,833 672,831.1 668.6,828 662,818.7 658,814.8 654,814.6 650,816.5 646,819.8 642.8,824 637.4,836 634.9,840 624.4,850 619.6,856 613.4,866 602,886.6 596,894.6 592,897.6 586,900.5 559.8,908 552,909.5 546,908.6 544,907.3 542,904 541.5,900 542.6,894 544.8,890 556.6,876 559.6,870 560.4,866 559.9,862 558,858 556,855.4 548.2,848 546.7,846 544.9,842 542.6,824 542.6,810 545.8,794 549.2,788 549.4,786 548.6,782 549.7,778 552.1,774 562.4,762 564.7,758 566.1,754 566.5,748 564.5,736 564.8,732 567.2,728 580,718.4 582.4,716 585.2,712 586.6,708 587.1,704 586.3,690 586.4,684 587.4,680 589.6,676 592,674 596,672.9 600,673.5 608,676.7 612,677.7 614,677.7 617.3,676 619.8,672 620.8,668 621.5,648 622.1,644 623.2,642 626,640 630,638.8ZM632,811.1 631.2,812 631.2,814 632,814.9 634,815.1 635.2,814 635.2,812 634,810.9ZM568,815 564.4,818 564.3,822 566,824 568,825.3 570,825.3 572,824 573.7,822 573.7,818 572,816.1 570,815ZM634,821 633,822 633,824 634,825.2 636,825.5 637.7,824 637.5,822 636,820.7ZM756,670 760,669.9 762,670.7 764,672 766.6,676 766.9,680 766.3,682 764.9,684 762,685.9 758,686.5 754,685.7 752,684.3 750.7,682 750.3,678 751.4,674 752.7,672ZM474.7,712 478,711 482,710.9 484.3,712 484.9,714 484.2,716 482,718.2 478,720 474,720.1 471.2,718 470.9,716 471.8,714ZM391.1,764 398,763.1 404,763.1 410,763.9 414,765.6 417.4,768 420.5,772 422,776 422.1,778 421.2,780 418.3,782 416,782.8 406,784.3 394,784 385.9,782 382.6,780 380.9,778 380.1,776 380.1,772 382,768.3 384,766.6ZM447.8,780 450,778.8 452,778.5 455.5,780 455.4,782 454,782.4 450.3,782ZM336.3,788 340,787.2 344,787 347.2,788 348.4,790 347.9,792 346,794.1 342,796 339,796 333.6,794 331.5,792 332.3,790ZM140,804 140,803.6 146,803.6 150,804.4 154,807.5 162,816 166,817.9 170,818.5 184,818.6 190.3,820 193.6,822 195.7,824 204,835.9 208,838.8 212,839.8 226,839.4 232,840.4 234,841.5 236.6,844 243.7,856 248,859.3 252,860.3 266,859.8 272,860.9 276.2,864 282.3,874 286,878 288,879.1 292,880.2 306,879.8 310,880.3 313.8,882 316,883.7 319.3,888 328.6,906 329.6,910 328.4,914 324,921 318.5,932 316,935.3 305,944 294,957.6 285.7,964 282,967.4 275.1,978 272,981.7 262.8,988 261,990 260,994 260,1002 140,1002ZM828.6,806 832,804.7 840,804.5 840,950.4 830,949.9 826,947.8 822.4,944 814.6,934 812,931.9 802,926.3 799.1,924 791.2,912 789.1,910 786,908.3 782,907.4 778,907.4 774.9,908 770,910.4 764,910.8 760.6,914 760.2,916 760.6,918 762,919.7 764,921 766,921.2 770,919.8 772,919.7 790,929.9 794,933.4 803.3,944 818,956.6 829,968 832,969.6 840,969.9 840,1002 449.8,1002 450,990 450.5,988 452,985.5 455.3,984 467.1,982 472,979.4 474,977.2 475.8,974 480.9,960 484,954.8 486.9,952 490,950.1 496,948.8 508,949.9 514.1,952 518,956 522,963.8 524,966.1 536,973.3 542.3,978 546,980 552.3,982 560,983 570,983.4 602,981.7 608,982.2 622,984.6 630,985.2 652,983.5 666,983 668,981 669.6,974 670.1,958 668.9,936 669.4,932 672.5,922 673,918 672.3,914 671.1,912 662,904.3 660.3,902 658.8,896 659.1,892 660.7,886 664,879.5 668,874.1 674,869.4 685.3,864 688.4,862 690.5,860 695.9,852 698,850.8 702,850.1 712,850.3 718,849.6 722,848.3 725.3,846 727.9,842 729.2,838 730.5,830 733.1,822 732.7,816 733.8,814 738,815 748,820.6 754,822.7 786,825.1 794,823.4 814,816.4 820,813.1ZM704,917 702.1,918 701,920 702.1,922 704,923 706,922 707,920 706,918ZM384.4,820 388,818.4 390,818.3 392,819 394,820.8 396,825.4 396.3,830 395.5,834 393.3,838 392,839.3 390,840.2 388,840.1 384,837.9 379.8,834 377.4,830 377.2,828 377.9,826 380,823.4ZM379.9,868 386,867.9 390,870.4 397,878 406.7,886 408.2,888 408.7,890 407.8,892 404.6,894 386,901.5 382,902.6 378,902.7 374,902.1 370,900.6 366,898.1 362,893.6 357.2,886 355.2,882 354.7,878 355.7,876 360,873.3ZM485.7,900 488,899.5 490,900.1 492,901.8 494,905.8 494.4,908 494.3,912 493.1,916 492,918.2 490,920.4 488,921.3 486,921 484,919.3 482.4,916 481.6,912 481.6,908 482.6,904 484,901.3ZM429.6,918 432,917.5 434,917.8 437.5,920 439.1,922 441,926 442,930 442.4,934 442,938.5 441.3,940 440,941.1 436,941.8 412,938.5 408,939.8 403.8,944 401.6,948 400.5,952 399.9,962 398.8,964 394.7,968 393.5,972 394.7,976 398,979.2 400,980 401.8,982 400.7,992 400.7,1002 369.9,1002 370.1,992 372.9,984 373.1,980 372.3,976 367.2,962 367.1,956 368.7,952 372.3,948 381.4,940 388,932.4 391,930 394,929.1 396,929.1 406,930.8 410,930.6 414,928.8 426,919.9ZM448,952 450,952 451.3,954 452,958 450,966.5 448,969.9 446.4,968 445.9,964 446.5,956Z"/>
<path fill="#1e5aff" fill-rule="evenodd" d="M140,320 174.6,320 174.7,328 176,332.2 180,336.1 190.8,342 194.2,346 195.4,352 195.5,370 196.6,374 198,376.4 200,378.5 210,384.6 213.8,388 222,401.5 229.4,410 234,417.4 236,419.5 240,421.4 248,423.8 252,426 255.9,430 262,438.1 273.6,448 282,459.1 291.8,466 293.9,468 296.8,474 298.8,490 300,492.9 302,495.3 304,496.6 308,497.7 312,497.3 320,494.4 322,494.1 324,494.8 325.2,496 326.5,500 326,505.9 324.3,510 317.2,522 316.2,526 316.5,532 319.4,540 326,552.1 330,557.6 338,566 340.4,570 341.6,576 340.3,590 340.9,596 343.3,602 350,610.2 352.2,614 353.8,620 356.4,636 361.3,650 362.2,654 361.7,658 359.1,662 344,675.6 332,681.9 329.2,684 326,687.7 321.7,696 318.5,700 306,708.6 296,719.6 280.9,734 268,741.3 264.6,744 257.3,754 254,757.3 250,759.5 244,760.8 238,760.8 220,758.6 214,758.9 209.4,760 206,761.7 203.5,764 200.9,768 197.3,776 194.2,780 192,781.4 188,782.5 180,782.3 160,778 156,778.1 148,779.5 140,779.5 140,715.4 146,715.3 148,715 150,713.9 157,704 168,697 171.5,694 174.5,690 180,680.1 184,676.9 190,675.6 204,676.5 210,675.3 214,672 220,661.1 224,657.3 230,655.6 242,656.4 248,656 252,654 254,652 260,641.4 264,637.6 268,636 272,635.5 288,635.4 292,634.4 296,632.6 299.4,630 302.5,626 303.7,622 303.6,618 301.4,612 298,608.3 294.1,606 284,601.7 280,598.5 278,595.7 272,583.7 265.1,572 262.7,566 260.2,554 259.1,534 257.3,528 254.6,524 252.6,522 242,514.9 234,510.6 230,509.8 226,510.5 212,514.9 194,518.9 182,523.5 178,523.5 170,520.4 164,519.4 140,520ZM226,431.4 224.7,434 224.5,436 225.1,440 226,442.5 228,445.6 230,446.9 231,442 230.3,434 229.4,432 228,430.7ZM230,473.3 228,474.2 226.5,478 226,482 227.1,486 228,487.3 230,488.1 232,486.2 232.6,482 232,477.3ZM389.9,584 396,584.7 398.2,586 400,587.9 402.5,594 403.2,600 402,606 398.1,612 394,615.5 390,616.7 388,616.4 384,614.5 378.9,610 376.3,606 374.9,600 376.1,594 378,590.4 380,588.1 384,585.6ZM422.8,596 426,594.8 430,594.2 434,594.7 438,596.6 441,600 442.9,604 443.8,608 443.6,610 442.7,612 440,613.7 434,614 426,612.3 421.7,610 419.5,608 418.2,606 417.8,602 420,598.1ZM632.6,648 636,646.5 640,646.6 643,648 644.5,650 645,652 644.1,656 642,658.8 640,660.4 636,661.8 634,661.6 631.6,660 630,656.5 629.8,654 630.8,650ZM586.9,722 590,720.6 592,720.5 594,722.6 594.9,728 595.6,746 596.6,750 600,754.6 604,756.9 610,758 626,755.9 630,756.4 636,759.8 639.9,764 640.9,766 641.5,770 638.5,784 638.4,792 640.1,798 645.3,808 645.5,812 640,822.2 636,820.2 634,820.5 632.6,822 632.5,824 634,825.7 635.7,826 637.6,828 634,835.9 630.8,840 624,846.5 620,851.2 602,880 595.7,888 592,891.4 588.2,894 580,897.5 566,900.6 560,901.3 556,901 553.8,900 552.7,898 553,894 555.6,888 565.6,872 567.9,866 569.5,858 570.8,842 569.6,828 572,826.9 574,824.7 575.6,822 575.7,820 575.5,818 572,814.3 568,814.1 566,814.6 563,818 562.4,820 562.7,824 562,825.9 558,825.5 554,824.3 550,820.9 548,816.6 547.4,812 547.8,806 550,798.6 557.6,780 561.4,774 569.6,764 573,758 574.1,754 574.2,750 572.5,738 573.1,734 574,732 578,727.7ZM632,810.4 630.5,812 630.6,814 632,815.6 634,815.8 636.1,814 636,812 634,810.2ZM703.8,770 706,768.3 708.1,770 706,772.6 704,772.4ZM692.7,796 696,794.4 698,794.1 702,795.4 705.3,798 706.8,800 707.5,802 707.4,804 706.3,806 704,808 692.4,816 684,825.6 680,827.3 676,826.4 674,824.8 672,822 671.2,818 671.7,816 673,814 682,806.4 690,798.1ZM828.9,810 832,808.4 840,808.1 840,943.9 832,943.7 828.5,942 818.6,930 804,919.5 794,907.2 790,904.5 786,903 780,902.1 774,902.3 768,903.7 764,905.5 760.4,908 757,912 755.3,916 754.7,920 754.9,922 756,924 758,925.6 770,930.7 777.1,936 792,953.5 798,962.6 801.1,966 814,972.3 820,976 824.5,980 830,986.5 832,987.8 834,988.5 840,988.7 840,1002 810,1002 809.9,998 807.3,996 802,994.7 800,992.8 798,979.9 796,974.6 794,972.2 790,970.1 780,967.7 778,965.8 775.7,958 773.9,954 772.2,952 770,950.6 766,949.1 752.9,946 751.5,944 750.4,932 749.1,928 747.1,926 744,924.5 738,923.3 734,924.3 732,926.6 730.1,932 728.5,940 727.5,942 726,943.1 716,946.4 712,948.9 710,951.1 708.3,954 706.6,960 706.4,966 708,968.9 712,970.3 726,971.1 728.9,972 729.4,978 728.9,988 728,989.1 726,989.6 718,990.3 711.7,992 710.7,994 710.5,1002 690.5,1002 690.6,994 691.1,992 692.8,990 698,987 700,985 701.2,982 701.2,976 700.2,974 698,972.6 688,969.2 684,966.7 680.2,962 678.6,958 676.9,950 676.5,940 677.1,934 679.8,922 680,916 678.7,912 677.5,910 674,906.6 666,900.9 664,898.5 662.8,896 662.3,892 662.9,888 664.4,884 666.8,880 672,874.6 676,872.4 680,871.1 688,870 706,869.9 715.2,868 730,860.1 734,857.2 737.7,852 741.6,842 744,839.4 749.1,838 770,837.1 788,834.7 796,832.6 820,819.3ZM702,917.1 701.1,918 700.5,920 701.2,922 704,923.5 706,922.9 707,922 707.6,920 707,918 706,917 704,916.4ZM734.3,946 744,946.2 748,947.1 749.4,948 750.4,952 750.7,968 752,970 770,970.1 774,971.2 774.9,972 776.3,976 777.2,988 778,991.7 780,993.4 789.5,996 790.4,998 790.4,1002 770.5,1002 770.3,996 767.9,994 752,991.4 750.8,990 750.5,972 750,970.5 734,970.7 730.5,970 729.8,966 730.2,952 731.2,948 732,946.9ZM491.2,970 494,968.5 496,968.6 498,970 500,973.6 502.4,980 504,982.2 507.5,984 512,984.7 530,985.3 560,989.6 568,992 570.1,994 570.5,1002 488.2,1002 488,994 486,993.8 485.9,1002 470.8,1002 471,994 472.5,992 484,989.5 487.4,976 489.4,972ZM634.1,992 642,991 648.1,992 649.3,994 649.5,1002 629.5,1002 629.6,996 630.3,994ZM730.8,992 732,991 736,990.6 746,991.1 750,991.9 750.5,994 750.5,1002 730.5,1002ZM591.4,994 600,992.8 608.4,994 609.7,996 609.8,1002 590.3,1002 590.4,996Z"/>
<path fill="#0a3cff" fill-rule="evenodd" d="M155.8,320 162.7,320 162.4,328 160,330.4 158,330.3 156.1,328ZM178.7,510 180,509.7 182,510.2 183.9,512 184.4,514 183.9,516 182,517.9 180,518.4 178.3,518 176.1,516 175.6,514 176.1,512ZM298.5,538 302,537.2 306,538 310,541 312,543.5 314.6,548 316.8,554 318.2,560 318.7,566 318.5,570 317.1,576 313.7,584 310.3,590 306,594.2 302,595.8 298,596.2 294,595.8 290,594.6 286.1,592 284,589.8 280.2,584 276.4,576 274.5,570 274,566 274.2,562 275.1,558 276.8,554 280,549.3 286,544.2ZM307.5,640 312,640.4 316,643.5 322.2,654 330,663.7 330.6,666 330.3,668 329.2,670 321.7,678 315.4,690 312.3,694 301.9,702 292,713.9 284,721.3 275.8,730 272,732.7 264,736.9 260.1,740 251.8,752 248,754.4 244,755.3 238,755.2 228,753.4 220,752.8 210,753.7 204,755.3 200,757.8 198.2,760 192,772.5 190,774.5 186,776.3 182,776.7 178,776.2 160,770.9 156,771.1 148,773.5 140,773.6 140,724.3 148,724.1 152,722.6 154.6,720 159.8,712 162,709.6 166,706.8 174,702.4 178,699.1 184,689.9 187.7,686 190,684.7 194,683.8 210,684.4 216,682.7 220,678.9 224.6,670 228,666 230,664.7 234,663.6 250,664.3 256,662.7 260,658.7 266,648 268,646 272,644 278,643.4 292,644ZM607.5,766 620,764.2 626,764.3 631.1,766 634,768.8 635.4,774 634.8,786 635.3,794 639.6,810 638.1,814 637.8,818 634,819.8 632.1,822 632.1,824 634.3,828 631.4,834 618.7,848 604,870.4 596,880.9 588,888 582,891.4 574,893.8 568,893.8 564.7,892 563.8,890 563.9,888 565.3,884 577.3,864 580,860.6 586.9,854 590.3,848 591.2,842 589.9,828 590.3,814 589.7,810 588,806 586,803.8 582.2,802 578,801.4 572,801.6 562,804.3 560,804.1 559.9,800 562.5,790 564.9,784 567.4,780 570,777.2 574,774.4 580,772 598,767.7ZM632,809.4 629.8,812 630,814.2 632,816.6 634,817.1 637.2,816 638,814 637.9,812 636,810.1 634,809ZM831.2,816 834,814.6 840,814.5 840,822.6 834,822.6 831.2,822 829.8,820 830,818ZM787.1,844 792,843.3 798,844.4 800.2,846 805.3,854 807.1,856 810.1,858 814,859.4 822,860.1 826,859.1 832,856.7 840,856.5 840,938.8 834,938.8 830,937.6 822,927.5 808,917.2 805,914 798,904.6 795,902 792,900.3 784,898.1 772,897.4 764,898.4 752,901.7 748,902.1 746,901.6 743.1,900 739.8,896 738.3,892 738.3,888 740.5,884 742.8,882 750,879 766,876 772,874.3 777.3,872 780.1,870 781.7,868 782.4,864 779.5,854 779.6,850 780.6,848 782.7,846ZM679,876 684,875.8 696,877.4 712,877.8 720,878.8 723.9,880 727.2,882 729,884 730.6,888 730.2,892 728.7,896 717.7,912 716.9,916 717,926 715.2,932 712,935.9 704,943.6 696,955 694,956.5 692,957.2 690,957.1 688,956.2 686,954.2 683.6,948 683.3,944 683.7,938 687.3,920 687.2,916 686.1,912 683.7,908 681.7,906 669.6,898 667.7,896 666.1,892 666,889.9 667,886 670,881 674,877.7ZM704,915.3 702,916.1 700.1,918 699.5,920 700.2,922 702,923.8 704,924.4 706,923.9 708,922 709,920 708,917.8 706,916Z"/>
<path fill="#0a28c8" fill-rule="evenodd" d="M293.9,556 298,555.3 300,555.6 302,556.8 303.6,560 304,564 302.9,572 301,578 298,582.5 296,583.9 294,584.4 292,584.2 290,583.3 286.8,580 284,574.3 283.3,570 283.7,566 286,561.5 290,557.8ZM239.8,744 242,742.5 244.2,744 242,745.1ZM178.2,762 180,761.5 182.6,762 184,764 182.9,766 180,766.5 178.7,766 177.2,764ZM614.8,774 620,772.6 624,772.9 626,773.7 628,775.6 629.2,778 630.1,782 631.2,796 632.9,806 631.8,808 630,809.4 628.6,812 628.6,814 630,816.3 632,818 632,820 630.7,822 630.9,826 630.4,828 626.5,834 616.6,844 608,856.9 594,873.8 586,879.9 582,881.4 580,881.2 579.3,880 579.6,878 582.5,872 585.5,868 593.5,860 596.6,854 604.1,826 603.2,804 605.7,788 608.3,780 611.6,776ZM802.4,872 808,870.7 814,870.2 840,870.6 840,933.3 834,933.2 832,932.9 830,931.6 824,923.5 814,916.7 810,913.2 807.5,910 802,900.7 798,897 792,894.4 772.8,890 770.1,888 770.7,886 777,882ZM677,882 682,881.7 694,884.5 706,884.4 710,884.9 712.9,886 715.4,888 716.5,890 716.6,894 714,898.8 708,903.8 702,906.4 698,906.7 696,906.1 686,900.4 676,896 672,892.7 671,890 671.8,886 674,883.5Z"/>
<path fill="none" stroke="#141414" stroke-width="0.7" d="M722,329.7 720,331 718.5,334 717.8,338 718,343.8 718.6,346 719.9,348 722,348.8 724,348.8 728,347.7 730.5,346 733,342 733.3,338 732,334.7 730,332.6 726,330.3 724,329.6ZM702,359.4 699.5,362 699,364 699.3,366 702,368 704,367.9 706,367 708,364.9 709,362 708.7,360 708,359.2 706,358.4ZM682,392.9 680,394.2 679,396 677.9,400 678,403.3 678.9,406 680,407.2 682,408.1 684,408.1 686,407.2 688,404.7 688.3,400 686,394.7 684,393.1ZM713.9,320 713.9,326 715.4,336 715,344 714,350 712,352.1 698,354.9 695.9,356 694,358 692.7,362 693.2,368 694.3,370 698,371.9 704,371.4 708,369.4 710,367.5 712,364.2 714.7,356 715.9,354 718,352.9 728,349.8 732,346.8 733.9,344 734.9,340 734.4,336 733.4,334 728.4,328 727.9,320M678,335.2 676.7,338 676.8,340 678,343 680,343.8 682.3,342 682.9,338 682,335.6 680,334.6ZM678,384.9 675.2,388 674,391.2 673.2,396 673.1,404 674.3,410 676,411.6 680,412.1 686,410.6 689.3,408 690.9,404 690.9,400 689.4,394 686,386.5 684,384.7 682,384ZM658,415.9 654,416.6 651.1,418 649.3,420 648.7,422 649.3,424 652.6,428 658,431.8 662,432.9 664,432.7 666,431.7 668,429 669.3,424 669.2,420 668,417.5 666,416.5ZM556,423.6 554.9,426 555.7,428 558,429.2 560,428.4 561.1,426 560.4,424 558,422.9ZM534,425 532.9,426 534,428.5 535.5,428 536.1,426ZM612,445.7 610,446.6 609,448 609.1,450 610,451.2 612,451.8 614,450.7 614.8,448 614,446.6ZM554,453.5 552,455.4 551.4,458 552.3,460 554,461.2 556,461.4 558.6,460 559.6,458 559.4,456 558,454 556,453.2ZM664.8,320 664.9,328 666.2,340 665.6,346 664.6,350 661.1,356 648,365.8 645,370 643.8,374 643.3,378 644.5,396 643.8,402 642.1,406 639,410 628,417.4 625.9,420 624.6,424 624.3,430 625.3,434 626,434.8 628,435.6 632,435 640,432.3 646,431.6 650,432.4 660,436.3 664,436.5 666,435.9 668,434.4 670,431.5 673.3,422 675.6,418 678.4,416 687.9,412 690.4,410 692,407.4 692.8,404 692.7,400 690.3,384 690.9,380 692,378.3 694,376.9 706,373 710,370.4 712.2,368 718,357.7 722,354.5 730.6,350 734,346.5 735.3,344 736.2,340 736,337 734.9,334 731.1,328 730.8,320M697.4,330 700,328.8 704,328.7 710,331.6 711.9,334 712.7,338 712.4,342 710.7,346 708.5,348 704,349.2 700,349.2 696.1,348 694,346 692.6,342 692.5,336 694,332.7ZM660.8,400 662,398.9 664,399 665,402 664,404.6 662,404.8 660.8,404 660,402ZM534,419.7 530.6,422 528.2,426 526.9,432 527.4,438 530,442.7 540,450.6 542,454 544.4,460 547.3,464 552,466.5 558,467 576,464.4 578,463.9 580.8,462 580.8,460 578.5,454 578.1,450 578.8,446 583,434 582.7,430 581.5,428 578.5,426 576,425.3 566,424.4 560,420.7 556,420.6 550,423.3 540,419.5 536,419.3ZM608,443.6 602.1,448 598.7,452 596,458 596.2,460 598,461.2 604,462 610,461.3 614,459.9 616.6,458 618.1,456 619.5,452 619.7,448 619.3,446 618,444.1 616,442.8 614,442.4 610,442.7ZM414,475.5 412.2,478 411.7,480 412,484 412.9,486 414.6,488 418,489.6 420,489.6 422,488.8 422.8,488 423,486 421.4,482 418,477.5 416,475.9ZM442,482.7 440.4,484 439.5,486 439.7,488 442,489.8 444,489.6 446.1,488 446.9,486 446.4,484 444,482.5ZM655.9,320 656.1,328 658.5,334 659.4,338 658.7,344 656.9,348 654,351.5 641.3,360 639.3,362 637,366 635.6,374 635.3,392 634,397.3 632,400.6 630,402.1 626,402.5 616,397.2 612,397.3 610,398.3 606,402.1 601.5,408 598,413.8 596,415.6 560,416 552,415.1 540,411.8 536,411.7 532,412.9 528,416 526,418.9 522.5,428 518.2,450 518.8,454 520,455.3 528,459.2 538,468.6 540.4,470 546,471.8 554,472.7 588,472.9 593.4,472 616,466 622,463.4 624.9,460 627.1,450 628.7,446 630.2,444 634,440.6 640,437.3 644,436.2 648,436 662,439.7 666,439.2 668,438 671.1,434 675.1,424 677.7,420 680.1,418 690,412.6 692,410.7 693.6,408 694.4,402 693,388 693.6,384 694.5,382 698,378.6 707.8,374 710.7,372 714,368.2 720,358.7 723.2,356 732,350.7 735.8,346 737.2,342 737.4,338 736.3,334 733.2,328 732.9,320M703.5,334 706,334.3 708,335.5 709.1,338 709,340 708,342.4 706,343.9 704,344.3 702,344 700,342.8 698.5,340 698.4,338 699.3,336 702,334.3ZM818,413.7 816,417.6 816.5,422 818,424.9 819.5,426 822,425.8 823.9,422 823.7,416 822,413.2 820,412.8ZM598.1,418 600,417.1 604,417.3 608,418 612.2,420 614.1,422 615.5,426 615.3,430 613.1,434 610,436 606,437 602,437 600,436.6 598,435.3 596.3,432 595.9,428 596.5,422ZM412,443.2 409.6,446 407.8,452 408.3,468 407.7,482 408.6,486 410,488.9 412,491.2 416,493.7 420,495 426,495.8 438,495.5 458.5,496 464,494 476,484.5 487.1,482 491.4,480 492,477.8 486,475.8 482,472.5 480,471.8 477.9,472 475.1,474 473.6,478 472,480.3 468,479.8 458,476 454,475.4 452,475.7 447,478 442,479.4 436,483.2 434,483.7 432,483.1 426,478.2 422.9,474 420.7,470 419.6,464 420.5,450 419.4,446 418,443.9 416,442.6 414,442.4ZM392.3,320 392.5,326 393.4,328 396,329.4 400,330.1 402,330 405.2,328 405.7,320M619.2,320 619.1,326 618.1,330 616.5,332 609.2,338 605.7,342 600.6,350 597,358 596.4,362 597.2,366 604.4,378 605.9,384 605.5,388 603,394 600,398.2 596,402.2 592,404.8 588,406 584,406 578.9,404 577.2,402 576.3,400 574.1,386 572,381.4 570,379.5 568,378.5 564,378 562,378.5 559.6,380 557.1,384 556.2,388 555.1,398 554.4,400 552.9,402 548,403.7 538,404 534,404.6 530,406.3 526,409.8 522,416.6 516.9,432 514,438.4 505.1,450 500,458.2 496,462.5 492,464.9 486,467.2 472,469.9 466,468.7 456,463.5 452,462.7 450,463.4 448,465.3 442,472.5 438,475 436,475.6 432,475.5 430,474.6 427,472 424.5,468 423.3,462 424,458 426.4,450 426.5,444 424,435.8 420,429.6 418,428.4 412,433.8 408,438.8 406,443.2 404.9,448 404.5,454 405.1,482 406.6,488 409,492 412,494.7 416,496.9 422,499.1 430,501.1 438,502.2 460,503 463.2,502 466,500.3 473.5,494 478,491.2 486,488.6 500,486.4 504,485.3 506.9,484 514,478.8 520,476.4 526,475.8 544,476.7 588,477.2 596,475.9 608,472.5 624,468.8 628,467.2 629.8,466 631.3,464 632.8,450 635,446 636.9,444 642,440.8 646,439.7 650,439.7 662,442.8 666,442.3 668,441.4 670,439.5 672,436.5 676.3,426 678.7,422 682,419 690.7,414 694,410.7 695.7,406 694.8,390 696.3,384 699.9,380 708,375.6 712,372.8 714.5,370 721.2,360 724,357.5 732.4,352 734.6,350 737.2,346 738.4,342 738.6,338 737.6,334 734.9,328 734.7,320M641.7,336 644,334.9 646,334.7 648.9,336 650.2,338 650.3,340 649.5,342 648,343.8 646,344.7 644,344.8 641.7,344 640.3,342 639.9,340 640.3,338ZM418,337.9 416,338.3 414,340.2 412.5,348 412.5,384 411.9,402 412.3,410 414,418.1 416,422.9 418,425.8 420,425.4 422,422.8 424,418.7 425.7,412 426.2,404 425.5,384 425.9,358 425.4,348 424,342.4 422.5,340 420,338.3ZM460,401.8 457,406 455.4,412 455.1,420 456.4,428 458.7,432 462,434.3 466,435 472,433.9 476,431 477.5,428 477.9,426 477.2,420 474,408.2 472,403.7 470,401.5 468,400.5 464,400.1ZM818,408.9 816,410.1 814.1,412 813.1,414 812.4,418 812.7,422 814,426.7 816,430.3 818,432.1 820,432.8 822,432.8 824,431.8 826.1,428 827.1,422 826.8,414 826,411.2 824,408.7 822,408.1ZM796,449.8 794,450.3 791.6,452 790.4,454 789.8,458 792,466.9 794,471.7 796,474.4 798,473.4 802,466.5 803.2,462 803.6,458 803,454 802,452 800,450.4ZM794,500.9 793.7,502 794,502.2 794.5,502ZM588,596 588,596 588,596 588,596ZM389.1,320 389.2,326 390,328.4 392,330.2 404,333.9 406,335.1 407.8,338 408.8,344 409.2,422 408.2,428 403.4,440 402,450 402.7,480 404.2,488 406.2,492 410,496.1 414,498.7 422,502.2 434,506 458,508.7 462,508.1 464,507.3 468,504.2 476.4,496 482,493 486,491.8 496,491 504,492.3 508,494.2 510.1,496 516,503.2 518,503.8 520,502.1 523.9,492 526.7,488 532,484.2 537.8,482 544,480.8 554,480.1 582,480.8 590,480.5 598,479 614,474.7 632,471.7 637.6,470 639.6,468 639.9,466 637.8,458 637.3,454 638.1,450 639.3,448 641.2,446 644,444.3 648,443.2 652,443.5 660,445.7 664,446.1 668,444.8 670,443.2 673.3,438 677.1,428 680,423.1 683.4,420 693,414 696.1,410 697.1,404 696.5,390 697.4,386 698.6,384 702,380.7 712.7,374 716,370.2 720,364 723.3,360 732,354 736.2,350 738.4,346 739.7,340 739.4,336 736.5,328 736.3,320M525.5,320 525.7,330 528,340 535.1,366 541.7,382 542.2,386 542,388 541.1,390 539.4,392 528,398.3 523.9,402 520,408.6 514.4,426 512,431.3 508,436.5 499.6,444 492,454.8 488.2,458 484,460.1 478,461.7 474,461.9 470,460.9 465.9,458 463.2,454 462.7,450 463.5,448 465.3,446 480,438.7 483.3,436 484.6,434 485.3,432 485.3,428 481.2,412 480.9,408 481.4,404 484,399 494.4,392 497.5,388 498,386 497.7,382 494.2,370 493,362 494.5,320M549.4,342 550,341.3 552,341.1 553.8,344 553.8,346 552,348.5 550,348.2 548.7,346 548.6,344ZM587.4,378 590,378 594,380.3 596,382.9 597.1,386 596.8,390 596,392 594,394.7 590,397 586,396.6 584,395.4 582,392.7 581,390 581.2,386 583,382 586,378.5ZM818,405.8 814,408.1 810.8,412 809.7,418 810.3,424 812,431.1 814.5,436 818,438 824,438.1 826,437.2 827.2,436 828.4,434 829.4,430 830,420 829.4,410 828,406.3 826,404.7 822,404.7ZM798,445.9 794,446.8 791.4,448 789.1,450 787.8,452 786.9,458 788.5,470 788.1,474 787,478 782.5,488 783,490 786,491.9 792,493.1 796,493.1 800,492 802,490.9 804,488.4 805.7,482 807.5,468 808.2,458 807.1,450 805.9,448 804,446.6 802,446ZM431.2,452 434,450.5 438,450.7 441.7,454 443.5,458 443.7,462 442.6,466 440,469.3 436,471.4 432,471.4 430,470.5 427.4,468 425.7,464 425.5,462 426.3,458 428,454.9ZM794,496.8 792,498.4 791.3,500 791.4,502 794,504.3 796,503.9 797.6,502 797.7,500 796,497.4ZM818,503.8 816.5,506 817.2,508 820,509.5 822,509 822.8,508 822.7,506 822,504.7 820,503.6ZM560,585.6 558.7,588 560,589.6 562,590 564,588.4 563.3,586 562,585.3ZM586,591.9 582.3,594 581.3,596 581.5,598 582.4,600 584.3,602 588,604.1 592,604.8 596.7,604 598.2,602 598.1,600 595.3,596 593.1,594 590,592.2ZM386.9,320 386.9,326 388,329.1 392,331.9 400,334.9 404,338 405.7,342 406.7,348 407,358 406.6,416 405.5,424 400.8,438 399.7,446 400.5,478 402.1,488 405.2,494 409.1,498 414,501.2 424,505.9 430,508.3 436,509.9 456,513.3 460,513.5 464,512.6 466,511.3 476,499.7 480,496.6 486,494.2 494,493.6 498,494.3 502,495.8 506.8,500 512,508.9 514,511.4 516,512.8 518,513.5 520,513.3 522,512.3 524,509.8 529.1,496 531.5,492 536,487.8 540,485.7 544,484.4 556,482.9 588,483.6 598,482.2 616,477.6 624,476.3 636,476 650,477.9 654,477.3 656.5,476 660.1,472 660.6,470 660,466.8 658,465.1 650,462.8 646.2,460 643.8,456 643.5,454 644,451.3 646,448.9 648,447.9 650,447.6 653.1,448 662,450.7 664,450.7 668,449 670,447.2 673.4,442 678.7,428 681.3,424 684,421.4 692.8,416 696,412.9 698.1,408 698.4,404 697.8,392 698.5,388 700,385 702.9,382 714,374.5 723.3,362 726,359.6 734.1,354 736.2,352 738.9,348 740.3,344 740.8,338 740,334 738,328 737.8,320M517.3,320 517.5,328 521.2,340 524.6,358 525.7,374 525.3,380 524,384 522.6,386 515.4,392 513.8,394 513.3,410 512,417.4 510,423.3 508,426.7 506,428.8 504,430.1 500,431.1 496,429.7 492,425.1 488,417 487.2,414 487,410 488.2,406 492,402 508.8,394 510.3,392 510.2,390 508.8,386 500.9,370 499,364 498.4,360 499.2,344 500.1,338 502.6,328 502.7,320M840,346.7 834,346.9 832,347.6 830,351.2 829.4,360 830.8,374 830.9,382 830.5,388 829,396 827.9,398 826,399.8 814,405.2 810.5,408 809,410 807.6,414 807.4,418 808.7,434 808,438 806.4,440 804,441.3 792,444.9 788,447.4 786,450 784.6,456 785.6,468 784.8,474 781.9,480 775.5,488 774.4,490 774.3,492 776.1,494 778,494.8 788,497.8 791,504 794,505.7 796,505.7 800,503.7 802,503.3 804,505.6 807.5,514 809.4,516 812,517.3 820,519.2 824,521.1 826,523.4 830,531 832,532.6 840,533.1M585,386 586,385.2 588,384.9 590.2,386 591.3,388 591.2,390 590,391.8 588,392.8 585.3,392 583.8,390 583.8,388ZM814.8,446 818,444.5 824,444.6 826.4,446 827.6,448 828.7,452 828.9,464 827.1,480 825.4,486 824,488 822,488.9 818,488.3 816,486.5 814,481.4 813,470 812.6,456 813.1,450 813.6,448ZM429.7,456 432,454.4 436,454.2 438,454.9 440,456.9 441.4,460 441.2,464 440.2,466 438,468.3 436,469.3 432,469.3 430,468.2 428.1,466 427.2,464 427.3,460ZM550,583.9 546.3,586 545.3,588 545.5,590 547.2,592 550,593.2 554,594 562,594.1 568,593.2 570,594.6 577,604 582.7,608 588,609.5 596,609.8 602,608.3 604.5,606 605.1,604 605,602 603.2,598 599.6,594 593.5,590 588,588.3 584,588 578,588.6 570,590.5 567,586 564,583.5 560,582.7ZM514,595.7 513.2,598 514,600.3 516,601.7 518,601.8 520,600.4 520.8,598 520,595.9 518,594.4 516,594.3ZM706,595.7 704,597.1 702.1,600 701.1,604 702,608.8 704,610.7 706,611 708,610.4 710,608.6 711.4,606 712.1,602 711.9,600 710,596.5 708,595.4ZM534,637.2 532.8,638 532.8,640 534,640.8 535.7,640 535.7,638ZM572,640.9 570.6,642 572,642.8 572.7,642ZM568,819.8 568,820.2 570.1,820 570,819.8ZM385,320 385,326 385.3,328 386.4,330 389.1,332 398.2,336 400.8,338 403.3,342 404.9,350 404.8,412 403.2,422 398.2,436 397.4,444 398.8,482 400,488 402.8,494 406,497.9 410,501.2 428,510.5 436,513.1 460,518.6 464,518 468,515.4 475.3,504 478.9,500 481.5,498 484,496.7 488,495.7 494,495.9 498,497.1 502.5,500 505.7,504 510,512.7 512.6,516 516,518.2 520,518.8 524,517.4 526,515.1 531.4,500 534.9,494 540,489.6 546,487 556,485.6 580,486.5 590,486.1 600,484.7 618,480.3 626,479.3 632,479.5 636,480.2 648,485.1 652,485.8 656,484.9 660,482.1 664,477.6 666.9,472 667.9,468 668.9,456 674,445.9 680.3,428 684,423.2 695,416 698.3,412 699.7,406 699.1,392 700,388.3 701.2,386 704,383 714.3,376 717.9,372 724,363.2 727.6,360 736,354 740,348.5 741.4,344 741.9,338 739.4,328 739.3,320M509.5,338 512,338.4 514,340.9 519,352 520.7,358 520.5,362 518,367.9 514,371.3 512,371.6 510,371.2 506,368.6 502.7,364 501.6,360 502.2,354 506,342.5 508,338.9ZM840,342.2 832,342.6 830,344 828,348.8 827.1,358 828.3,382 827.5,390 826.4,394 823.2,398 812,403.8 807.4,408 806.3,410 805.3,414 805.9,428 805.1,434 804,436 802,438 788.9,444 784.6,448 783.5,450 782.7,454 783.3,468 782.1,474 778,480.3 767.5,490 766.2,492 765.7,494 766.5,496 770,497.7 786,500.9 792,506.7 795.8,508 798.4,510 798.9,512 798.8,516 793.9,528 794,531.2 796,533.6 798,533.9 800,533.3 810,525.8 814,524.8 818,524.8 822,526.4 823.6,528 830,537 834,538.2 840,538.3M497.3,410 500,409 502.8,410 504,412 504.1,414 503.3,416 502,417.6 500,418 497.1,416 496,414 496,412ZM432.9,456 436,456 438,457.2 439.8,460 439.6,464 438,466.4 436,467.7 434,468 432,467.6 430,466.3 428.6,464 428.6,460 430,457.7ZM819.5,456 820,454.7 822,454.2 822.8,456 823,460 822,463.1 820,462.5 819.8,462 819.2,458ZM742,505.4 741.2,506 740.5,508 742.7,510 746,509.9 748,508 748.3,506 746,504.1 744,504.2ZM636,509.7 634,510.8 632,513.8 631.6,516 632,520 634,523.3 636,524.9 638.3,526 642,526.8 648,527.1 666,526.1 678,528 684,528.2 688,527.3 690.3,526 692.3,524 694.2,520 694,516.9 692,514.4 686,512.5 678,512.6 672,513.9 664,516.5 658,517 652,515.6 641.8,510 638,509.3ZM526,570 525.6,572 526,572.6 528,572.8 528.7,572 528.2,570ZM546,579.7 542,581.5 540,583.1 537.8,586 537.1,588 537.2,592 538.5,594 541.5,596 546,597.4 560,599.4 564,600.6 568,603.2 576,611.3 580,612.9 590,613.5 600,612.7 606,610.5 608.6,608 609.6,604 609.4,602 607.6,598 602.1,592 595.9,588 588,585.4 572,583.6 564,580.6 560,579.7 552,578.9ZM704,585.8 700,589 697,594 694.8,600 693.9,606 694.2,610 695.7,614 698,616.6 702,618.2 706,617.8 708,616.9 712,613.6 715.1,608 716.6,600 716,593.8 714.4,590 712.9,588 710,585.9 708,585.3ZM514,591 511,594 510.3,596 510.3,600 512,604 514,606.9 518,612.3 520,613.5 522,611.3 524,606.1 525.2,600 524.7,596 523.6,594 520,591 516,590.4ZM554,629.7 548,631.6 546,633.1 545.2,634 544.6,636 545.1,638 548,640.9 552,642.5 556,642.9 560,642.1 562,640.9 564.3,638 565,634 564.5,632 562,629.7 558,629.2ZM532,635.3 530.3,638 530.3,640 532,642.5 534,643.3 536,643.1 539.1,640 539.3,638 537.8,636 536,634.8 534,634.5ZM570,639.2 568.9,640 568.4,642 570,644 572,644.5 574,641.7 572,639ZM526,657.6 520,660 513.8,664 512,666 511.2,668 511,670 512,672.4 514,674.1 520,675.4 540,674.2 542,673.4 543.1,672 543.5,668 542.3,664 539.7,660 537.2,658 534,656.7 530,656.7ZM568,819.3 567.6,820 568,820.7 570,820.7 570.4,820 570,819.3ZM634,878 633.3,880 634,880.9 635,880ZM383.2,320 383.3,326 384.4,330 388,332.8 398,338 401.1,342 402.9,348 403.5,358 403.2,410 401.4,420 395.9,434 395.2,438 395.1,444 396.2,476 397.5,486 399.5,492 401.8,496 408,502.2 420,509.3 430,514.2 446,519.4 456,523.3 460,524.4 464,524.7 468,523.3 470,521.1 475.5,508 480,501.4 482,499.6 486,497.6 492,497.3 498,499.7 502,503.3 504.8,508 508.1,516 511.3,520 516,522.4 522,522.9 526,521.3 528,519.1 530,514.4 533,504 536,497.8 540,493.3 546,489.9 550,488.8 556,488.1 578,489 590,488.7 602,487.1 620,483.2 626,482.6 630,482.9 636,484.6 641,488 645.6,494 646.6,496 646.8,498 643.5,500 634,503.5 630,507 628.3,510 627.3,514 627.3,520 628.4,524 631.5,528 636,530.1 642,531 664,531.4 684,532.9 688,532.6 692,531.4 696.4,528 699.2,524 702.4,518 702.9,514 701.4,512 697.4,510 689,508 658,505.5 654.4,504 652.4,502 651.6,500 652.9,498 658,493.5 662,488.4 666,482.4 669.3,476 671.3,470 673.8,454 679.4,434 681.9,428 686,423.3 697.2,416 699.9,412 700.9,406 700.3,394 700.9,390 702,387.5 705,384 716,376.2 725.1,364 728,361.3 736,355.8 738,353.9 740.7,350 742.2,346 743,340 742.8,336 740.9,328 740.7,320M840,339 832,339.3 830,340.1 827.2,344 826.1,348 825.3,354 825.2,362 826.4,382 825.9,388 824.7,392 821.7,396 810,402.5 806,406 804.6,408 803,414 803.5,428 802.7,432 801.6,434 798,437.3 786,443.4 783.3,446 782,448 780.7,454 781.1,468 780.3,472 778.3,476 774,480.7 763.4,488 754,495.9 750,497.9 731.9,504 725.6,508 724.5,510 725.5,512 729.6,514 736,515.2 742,515 748,513.2 752.8,510 758,505.4 764,502.7 774,502.2 784,503.8 786,504.7 790.2,508 792.1,510 792.9,512 792.6,516 789.9,524 788.7,530 789.2,536 790.1,538 792,540.2 796,541.6 800,541.2 804,539.5 813.8,532 818,531.3 820,531.9 822,533.3 827.5,540 830,541.9 834,542.7 840,542.8M509.7,350 512,350 514,350.7 516,352.5 517.1,354 518.5,358 518.5,360 517,364 514,366.7 512,367.3 508,366.4 506,364.8 504.2,362 503.7,360 503.6,358 504.8,354 508,350.5ZM431.6,458 434,457.1 436,457.5 438.4,460 438.8,462 438.3,464 436,466.3 434,466.7 432,466.2 429.9,464 429.5,462 429.9,460ZM526,569.4 525.3,570 524.9,572 526,573.5 528,573.8 529.6,572 529.1,570 528,569.2ZM544,575.9 537.8,578 528,584 514,585.9 510.2,588 508.4,590 506.1,596 506.6,612 503.8,624 504.3,628 507.2,632 512,635.1 520,638.4 522.3,640 523.8,642 524.3,644 523.7,648 522.6,650 520,652.7 512,659 507.6,664 506,668 505.8,670 506.1,672 508,675.7 510.8,678 514,679.4 518,680.2 528,680.5 532,681.1 542,685.5 546,686.3 548,686 550,684.7 552,681.4 553.1,676 553.9,662 555.2,658 558,654.8 568,647.4 572,645.9 574.5,644 575.3,642 574.9,640 572.7,636 573.9,626 575.8,622 578.4,620 584,618 600,615.5 606,613.8 609.3,612 611.3,610 612.5,608 613.1,604 612,599.4 608.3,594 602,588.7 596,585.3 590,583.3 574,580.1 560,576.1 552,575.2ZM700,575.7 695.4,580 688,592.9 686,595.3 684,596.8 682,597.5 674,597.5 672.9,598 671.8,600 672.2,602 674.1,606 686.7,620 692,624.1 694,624.9 698,625.5 702,624.9 706,623.4 710,620.7 714,616.6 716.8,612 718.3,608 719.8,602 720.3,596 719.9,590 718.7,586 716.3,582 714,579.4 710,576.3 706,574.6 704,574.4ZM537.4,604 540,602.7 546,602 554,602.6 559.1,604 562.6,606 564.6,608 566.6,612 566.6,616 565.5,618 563,620 556,622.6 548,623.7 544,623.6 540,622.6 538,621.5 536,619.2 534.3,614 534.8,608 535.6,606ZM424,630 424,630 424.7,630ZM686,699.8 686,700.1 688.2,700 688,699.6ZM568,818.8 567.3,820 568,821.3 570,821.3 570.7,820 570,818.8ZM634,869.8 630,873.3 628,876.6 626.8,880 626.4,884 626.8,886 628,887.9 630,889 634,888.9 638,886.3 641.1,882 643.3,876 643,872 641.5,870 638,868.8ZM446,875.8 446,876.7 448,876.9 448,875.7ZM381.6,320 381.6,326 382.6,330 386,333 394,337.2 397.6,340 400,344 401.7,352 401.6,410 399.9,418 393.6,432 392.6,438 394.2,478 394.9,484 396.5,490 398.2,494 400.8,498 404,501.5 408,504.7 424,514.2 442.5,522 452.3,528 456.6,532 458.9,536 461.2,542 464,544.6 468,545.3 472,543.9 480.1,538 483.4,534 483.2,532 478,526.6 476.5,524 475.7,520 475.7,516 477.1,510 479.9,504 482,501.4 486,498.9 488,498.5 492,498.8 496,500.8 499.5,504 502.9,510 506,519.7 508,522.4 510.3,524 514,525.4 522,526.6 526,525.8 528,524.6 530,522.3 531.8,518 534.9,506 537.7,500 542,495.2 547.7,492 552,490.9 558,490.5 578,491.6 590,491.2 624,486.4 628,486.8 631.6,488 634,490 634.9,492 634.8,494 633.8,496 628,502.5 626,506 624.7,510 623.8,516 624,522.2 625.6,528 628,530.9 632,532.9 638,533.8 662,534.5 682,536.5 692,536.4 696,535.3 698,534 706,523 708,521 712,518.4 718,517.4 734,518.9 744,518.2 750,516 764,507 768,505.8 774,505.4 780,506.2 784,507.8 786.6,510 787.7,512 788,516 785.7,528 785.3,536 786.6,542 788,544.5 790,546.2 796,547.8 802,547.5 807,546 814,541.9 818,540.6 822,542.1 827.5,546 830,547 840,547.5M840,336.5 834,336.6 830,337.2 828,338.5 825.6,342 823.9,348 823,356 823.2,364 824.6,380 824.3,386 823.2,390 820,394.4 806.8,402 802.9,406 801.8,408 800.9,412 801.4,426 800.7,430 798,434.2 795.7,436 784.3,442 780.6,446 778.8,452 779.2,466 778.7,470 776.9,474 774,477.5 770,480.6 760,486 748,493.4 714,506.3 710,507 704,506.7 682,503.2 674,501 669.2,498 667.9,496 667.2,492 668.1,488 674,471.1 679.5,440 681.5,432 683.5,428 686,425.1 697.2,418 700.7,414 702.2,408 701.6,396 701.9,392 704,387.1 707.2,384 716,378 719.6,374 726,364.9 729.3,362 737.9,356 741.2,352 743.4,346 744.1,340 743.9,336 742.3,328 742.2,320M507.2,354 510,352.4 512,352.4 514,353.3 516,355.6 516.9,358 516.9,360 516,362.3 514,364.4 512,365.2 510,365.1 508,364.3 506,362.1 505.2,358 505.7,356ZM431.4,460 434,458.5 436,459.1 436.8,460 437.4,462 436.7,464 434,465.4 432,464.7 430.8,462ZM704,559.9 692.2,572 686,580 682,583.9 678,585.8 674,586.5 662,586.2 658,586.6 655.8,588 655.5,590 656.1,592 662.8,602 670,615.4 676,624.1 682,630.3 695.4,640 697.1,642 697.2,646 695.9,650 688,662.9 686.3,668 686.3,672 686.9,674 688,676.1 690,677.5 692,677.5 694,676.6 702,669.5 706,666.8 708,666 712,665.5 722,668.6 724.7,668 725.7,666 724,663.3 718,659.6 714,656.1 702.4,642 701.8,640 702.6,636 704.9,632 714,621.7 718.8,614 722.2,604 724.1,592 723.8,586 722,580.5 713.6,568 710,561 708,558.6 706,558.4ZM526,568.7 524.6,570 524.2,572 525.1,574 526,575.3 528,575.8 530,575.1 530.9,572 529.9,570 528,568.6ZM546,571.9 535.7,574 528,576.9 524,579.1 512,583 507.5,586 504.6,590 503.2,594 501.4,610 498,621.4 497.5,626 498,629 499.4,632 503,636 508,639.8 510,640.7 516,641.4 519,644 519.4,646 519,648 517.4,650 512,652.9 510,654.7 506,659.6 503.4,664 502.2,668 502.2,672 503.5,676 504.8,678 508,681.1 512,683.2 516,684.3 528,686 532,687.6 540,692.3 546,693.4 550,692.7 552,691.7 554,690 556,686.9 557.5,682 559.1,670 560.9,664 563.5,660 572,650.9 576,644.9 577.1,642 577.1,638 578.2,632 580.7,626 584,622.8 588,620.8 604,617.1 610,614.8 613.5,612 614.8,610 615.7,608 616.3,604 614.8,598 612.1,594 605.3,588 598,583.7 592,581.5 578,578 562,572.9 554,571.8ZM810,597.9 809.5,600 809.9,604 811.5,608 814.5,612 818,614.7 822,616.6 826,617.5 828,616.8 828.8,614 828.5,608 827.5,602 826,599.1 824,597.5 818,596.2 812,596.5ZM545.3,608 550,607 554.7,608 557.2,610 558,612 557.4,614 555.4,616 552,617.3 548,617.3 546,616.7 543.2,614 542.7,612 543.2,610ZM424,628.9 423.3,630 424,631.5 426,631.4 426.7,630 426,629ZM686,697.7 685,700 686,701.5 688,701.6 689.2,700 688.4,698ZM668,767.5 667.5,768 668,768.6 668.6,768ZM658,791.4 657.5,792 658,792.5 658.6,792ZM568,818.3 567,820 568,821.8 570,821.8 571.1,820 570,818.2ZM512,825.7 512,826.2 514,827.6 515.3,826 514,824.2ZM662,856.5 661.1,858 662,859.2 664,858.7 664.4,858 664,857ZM634,865.5 630,868.5 627.2,872 624.2,878 623.1,882 623,886 624.5,890 626.8,892 630,893 632,893.1 635.8,892 640,888.9 644.7,882 647.6,874 647.5,870 646,867.2 644,865.6 640,864.5 636,864.8ZM446,873.3 444.1,876 444.5,878 446,879.3 448,879.3 449.5,878 450,876 448,873.2ZM380,320 380,326 380.9,330 384,333.2 392.5,338 396,340.8 399,346 400.2,352 400.5,360 399.8,380 400.4,402 400,410 397.9,418 390.8,432 390,438 391.2,454 391.3,474 392.2,482 394.9,492 396.9,496 400,500.4 406,506 414,511.3 424,517.1 436,522.7 441.8,526 444.2,528 447.4,532 448.9,536 450.7,544 453.4,548 456.2,550 461,552 468,552.8 472,551.7 476,549.3 490,538 494.9,532 495.3,530 494,528.5 483.8,524 481.4,522 479.3,518 479.1,512 480.6,506 483,502 486,500.1 488,499.6 492,500.2 494.9,502 498.3,506 500.8,512 501.8,524 503.1,526 506,527.2 514,528.8 524,529.7 529.3,528 532,525.2 534,520 536.1,510 538.2,504 542,498.6 545.2,496 548,494.5 552,493.3 556,492.8 580,494 614,491.4 622.5,492 624.8,494 625,496 621.7,510 620.8,524 621.6,530 624,534.1 626,535.3 630,536.4 656,536.6 690,540.9 696,542.7 697.8,544 698.9,546 698.9,552 697.6,556 695.5,560 684,573.8 680,577.7 676,580.1 672,581.1 668,581.2 658,579.8 653.6,580 649.8,582 648,584.4 647.2,588 648,591.2 649.8,594 656,600.6 660.1,606 670,625.4 682.8,642 684.9,646 685.3,648 685.1,652 681.4,664 680.8,672 681.5,676 683,680 685.8,684 688,685.5 690,685.9 694,684.5 704,675.6 708,673.4 712,672.9 722,674.6 726,674.5 730,672.4 732.3,668 732.5,664 730.8,660 728.6,658 722,653.8 717.9,650 713.9,644 711.7,638 711.6,634 712.8,630 720,617.7 723.8,608 727.4,594 728.2,586 727.8,582 726.4,578 718,564 712,548.4 706.3,540 705.7,536 706.5,532 708.5,528 710.2,526 714,523.5 718,522.3 738,522 746,520.7 752,518 762,511.6 766,509.7 770,508.7 776,508.8 779.8,510 782,511.7 783.5,514 784,516 781.9,544 782.3,548 782.9,550 784.3,552 788,553.9 792,554.7 812,556.8 818,556.5 829.4,554 840,553.8M840,334.4 830,334.8 826,336.9 823.7,340 821.4,348 820.5,356 820.7,364 822.6,380 822.5,384 821.6,388 820,390.9 818,392.9 805.2,400 802,402.7 800,405.4 798.6,410 799.2,424 798,430 794.6,434 783.1,440 778.9,444 776.8,450 777.3,464 777,468 776,471 774,474.2 772,476.2 768,478.9 756.3,484 744,490.6 716,501.4 710,502.7 702,502.9 690,501.4 682,499.4 678,497.7 674,494.2 672.9,492 672.6,488 677.2,468 679.9,452 681.4,438 683,432 685.2,428 687,426 698,419.4 701.5,416 702.6,414 703.6,408 703,394 703.9,390 705.1,388 708,385.1 718,378.1 726.8,366 730,363.2 738,357.9 740.2,356 742.9,352 744.7,346 745.3,340 745.2,336 743.8,328 743.7,320M507.5,356 510,354.2 512,354.2 514,355.4 515.4,358 515.3,360 514,362.4 512,363.5 510,363.5 508,362.3 506.7,360 506.6,358ZM432.3,462 434,460.1 435.9,462 434,463.8ZM346,496.6 345.2,498 346,499.2 348,498.3 348,497.6ZM528,567.9 526,568.1 523.8,570 523.1,572 523.1,574 522,575.7 512,579.7 508,582 505.6,584 502.5,588 500.2,594 497.5,608 493.2,620 492.3,626 492.8,630 494.6,634 497.9,638 504,644 506.4,648 505.7,652 501.4,660 499.2,666 498.6,672 500.3,678 503.2,682 506,684.5 510,687.1 521.1,692 524.2,694 528,699 530.2,700 536,700 550,698.1 554,696.5 557.2,694 558.7,692 560.4,688 562.8,674 564.5,668 568,662.1 575,654 578,649.5 580.1,644 582.6,632 584.6,628 588,624.8 592,622.7 608,618.3 614,615.1 616,613.2 618,610 619.1,606 619.2,602 617.3,596 612,590 604,584.3 596,580.5 580.6,576 566,570.3 560,568.8 548,568.2 532,570.5 530,568.8ZM840,579.3 832,579.8 830,581.2 826.9,586 825,588 822,589 820,589 816.1,588 814,586.8 804,577.3 800,575.5 794,574.8 790,575.7 786.9,578 785.7,580 785.1,584 786,588 788,590.7 792,593.7 798,597 801.8,600 810,612.1 814.1,616 824,622.4 826,624.4 830,630.4 832.6,632 840,632.3M424,627.9 422.5,630 423.3,632 424,632.5 426,632.5 427.4,630 426,627.9ZM512.7,644 514,643.6 516,644 517,646 516,648.2 514,648.8 511.4,648 510.8,646ZM686,696.5 684.4,698 684,700 686,702.6 688,702.7 690.2,700 689.8,698 688,696.4ZM656,741.5 656,742 656,742 656,742ZM522,751.3 521.3,752 522,752.6 522.7,752ZM662,753.4 661.1,754 661.1,756 662,756.6 663.1,756 663,754ZM668,766.4 666.4,768 668,769.7 669.7,768ZM658,790.1 656.4,792 658,793.5 659.7,792ZM568,817.8 566.6,820 568,822.2 570,822.2 571.4,820 570,817.8ZM512,822.3 510,824 509.5,826 510.3,828 512,829.4 514,829.6 516.5,828 517.2,826 516.7,824 514,822.1ZM448,851.2 444,853.8 442.3,856 440.3,860 439.5,864 439.8,868 441.7,872 442.6,878 444,879.7 446,880.9 448,881 450,879.8 451.5,878 452.3,874 457.2,866 459.1,860 459,856 458.2,854 456.4,852 452,850.6ZM662,854.8 660.2,856 659.3,858 660.2,860 662,860.9 664,860.5 665.7,858 665.1,856 664,855ZM636,861.3 632,863.1 627,868 623.3,874 620.4,882 620.2,888 621.8,892 624,894.2 628,895.9 634,895.7 638,894.1 640.8,892 646,885.2 648.6,880 650.8,874 651.2,868 649.1,864 646.1,862 644,861.3 640,860.8ZM378.4,320 378.4,326 379.1,330 382,333.4 392,339.5 394.8,342 396.2,344 397.9,348 398.8,354 398.1,380 398.9,402 398.4,410 395.9,418 388.7,430 387.4,436 388.8,454 387.9,474 389.5,484 391.3,490 394.1,496 398,501.8 402,505.9 408,510.5 418,516.9 434.9,526 439.5,530 440.9,532 442.2,536 442.4,544 443.2,548 446,551 452.4,554 460,556.4 466,557.4 470,557.2 474,555.9 477.2,554 498,536.8 504,532.9 510,531.8 524,532.6 530,531.3 532.1,530 534.9,526 538.3,510 540.8,504 544,499.9 546.5,498 550,496.3 558,495.1 580,496.5 608,494.9 612,495.2 616,496.5 617.7,498 618.7,500 619.1,504 616.9,534 618,537.9 620,539.7 622,540.4 626,540.6 646,538.6 660,539.4 686,544.4 690,546.2 691.8,548 692.7,550 692.6,554 690,559.7 683.2,568 678,573.2 674,575.6 670,576.6 656,575.2 650,576.2 647.3,578 644,581.8 642.1,586 641.8,588 642.6,592 643.9,594 654,604 657.1,608 666,627.2 677.3,646 678.4,652 676.4,666 676.8,674 678,679.2 680,684.4 682,688 685.8,692 686.7,694 684,696.2 683,698 682.9,700 684,702.2 686,703.5 688,703.6 690.5,702 691.4,700 691.4,698 690,694.2 689.5,694 696,689.8 705.5,680 708,678.5 712,677.5 724,678.4 728,677.8 730,677 732,675.6 734,673.1 736.5,666 736.9,660 735.4,656 732.8,654 726,650.5 722.8,648 719.7,644 717.1,638 716.7,634 717.5,630 722.9,618 725.9,610 731.4,592 732.6,584 732.2,580 730.9,576 722.8,564 719.9,558 712.9,538 712.5,534 712.9,532 714,530 716,528.1 720,526.4 726,525.4 740,524.6 746,523.5 752,521 766,512.8 770,511.8 774,511.9 778,513.8 779.7,516 780.7,520 780.6,526 779.4,536 778,541.9 776,546.7 771.5,554 770.3,558 770.3,560 771.6,564 777.1,572 779.5,584 781.9,590 786,594.4 798.2,602 801.9,606 808,614.3 812.1,618 822,624.8 830,635 832,636.1 834,636.4 840,636.5M840,332.3 828,332.8 824,334.5 821.1,338 818.6,346 817.2,358 817.6,366 820,378 820.2,382 819.6,386 818,389.1 816,391.3 812,393.8 802,398.6 798.1,402 796.9,404 795.7,410 796.9,422 796.1,428 793.2,432 790,434.1 780,438.8 778,440.4 776,443.1 774.9,446 774.4,450 775.1,466 774,470 772,473 770,474.8 766,477 750,482 730.4,492 721.1,496 714,498.4 708,499.5 700,499.7 692,498.8 686,497.2 682,495.5 678.1,492 677.1,490 676.5,486 677.2,480 682,456 682.8,440 683.8,434 685.6,430 688,427.1 692,424.3 700.3,420 703.8,416 705.2,410 704.2,398 704.4,394 705.6,390 707,388 710,385.4 718.3,380 721.8,376 728,366.8 732,363.5 740,358.6 743.8,354 745.3,350 746.5,342 746.5,336 745.4,328 745.3,320M509.9,356 512,355.9 513.8,358 513.8,360 512,361.8 510,361.8 508.3,360 508.2,358ZM346,495 344,497 344,498.8 346,500.8 348,500.6 348.9,500 349.9,498 349.3,496 348,495.1ZM484.7,502 488,500.6 490,500.8 492.7,502 495.9,506 497.9,512 497.9,516 496.1,520 494,521.4 492,521.9 488,521.4 484,518.7 482.4,516 481.6,512 481.6,508 482.9,504ZM540,565.6 532,567.6 528,566.9 526,567.2 524,568.5 522.6,570 522,571.5 520,573.1 508,578.8 504,581.8 502,583.9 498.6,590 494,605.8 489,618 487.6,624 487.7,630 488.9,634 491.3,638 498.2,646 499.8,650 499.4,654 496.8,662 495.5,668 495.2,674 496.7,680 499.4,684 505.7,690 509.1,694 510.6,698 511.9,706 514,709.9 518,712.7 522,714 526,714.2 530,713.2 541.4,706 556,700.8 560.2,698 562,695.6 563.5,692 566.3,676 568,670 571.5,664 579.8,654 582.3,650 583.9,646 586.1,634 588,630 590,627.7 594,625.1 610,620 616,616.9 620.2,612 621.7,608 622.4,604 622,598 621.3,596 618.5,592 611.3,586 602,580.5 582,573.8 568,567.3 562,565.1 558,564.3 550,564.1ZM424,627.2 422.9,628 421.8,630 422.3,632 424,633.4 426,633.3 427.5,632 428.1,630 427,628 426,627.3ZM740,635.8 739.1,638 740,638.8 741.2,638ZM746,653.3 745.6,654 746.6,656 748,656.4 748.7,656 749.6,654 748,652.4ZM466,685.7 464.4,688 464.8,690 466.4,692 470,693 472,692.7 473.6,692 475.4,690 475.5,688 473.4,686 470,685.1ZM656,739.3 654.8,740 654.8,742 656,742.8 657.2,742 657,740ZM490,743.7 489.7,746 492,746.3 492.4,744ZM522,749.9 520,752 522,753.9 524.1,752ZM662,752.8 660.1,754 660.1,756 662,757.3 664.2,756 664.1,754ZM668,765.4 666.9,766 665.5,768 666.7,770 668,770.7 669.3,770 670.6,768 670,766.8ZM672,779.8 672,780.2 672.7,780ZM658,789.1 656.4,790 655.4,792 658,794.4 660,793.1 660.7,792 659.8,790ZM512,793.2 511.4,794 512,795.1 514,794.9 514.4,794 514,793.4ZM662,807.5 661.5,808 662,808.4 662.5,808ZM504,815.8 503.5,818 504,824 506.3,830 508,831.7 510,832.5 512,832.7 516,831.4 518,829.3 519.3,826 519.2,824 517.2,820 516,818.5 512,816 506,815ZM568,817.5 566.3,820 568,822.6 570,822.6 571.7,820 570,817.4ZM680,837.1 679.3,838 680,839.3 682,839.1 682.5,838 682,837.2ZM446,847.7 442,850 439.8,852 436.9,856 434.1,862 433.2,868 434,871.3 435.4,874 440.5,880 444,882.6 448,883.5 452,881.8 455.6,878 458.3,874 463.2,864 464.3,860 464.7,856 463.8,852 462.5,850 459.9,848 454,846.5 450,846.7ZM356,851.3 355.4,852 355.8,854 358,854.2 358.6,852 358,851.3ZM662,853.2 660,854.1 658.2,856 657.3,858 658,860.5 660,861.9 662,862.3 664,861.8 666,860.2 667,858 666.8,856 666,854.8 664,853.4ZM638,857.6 632,859.8 627.2,864 622,871.8 618.5,880 617.4,886 618.2,892 621.2,896 626,898.4 630,898.9 634,898.5 638,897.2 642,894.5 644.4,892 648,886.5 652.1,878 654.3,872 655,868 654.8,864 654,862 652.1,860 646,857.7 642,857.3ZM376.8,320 376.9,328 378.5,332 382,335.3 390,340 392.5,342 395.3,346 396.7,350 397.4,358 396.5,378 397.4,402 396.7,410 394,417.5 386.6,428 385,432 384.6,438 386,450 385.9,456 384.4,464 382,470.4 380,473.4 378,474.6 370,474.7 366,476.2 362,478.8 358,482.4 355.3,486 352.4,494 348,493.1 346,493.5 344,494.8 342.7,498 344,500.9 346,502 348.3,502 351.7,500 354,497 358,499.9 360,500.6 362,500.8 366,499.8 371,496 378,485.9 380,483.9 382,483.9 384,485.6 386,488.3 394.5,502 400,508.2 412,517 430.7,528 434.5,532 435.8,536 435.4,540 434,543.6 430.5,550 430.1,552 430.7,554 432,555.4 436,556.9 448,557.8 464,561.3 468,561.7 474,560.7 478,558.6 492.1,546 502,538.6 506,536.4 512,535.1 528,535.1 531.8,534 534,532.7 536,530.5 537.3,528 540,512 542,506.5 545.3,502 550,498.8 554,497.7 558,497.4 578,499.1 604,497.8 608,498.1 612,499.6 614,501.3 615.3,504 616.1,510 614.6,522 610.3,538 610.3,542 612.3,546 614,547 618,547.5 640,541.5 648,540.7 654,540.9 662,542.2 680,547.2 684,549.1 686.3,552 686.1,556 684,560 680,565.1 676,569.1 674,570.5 670,572.1 666,572.3 654,571.4 648,573 644,575.9 640.6,580 637,586 635.8,590 636,592 637,594 649.1,604 654.2,610 661.9,628 670.5,644 672.8,652 672.1,668 673.5,678 676.8,688 680.7,696 681.3,700 682.3,702 684,703.8 686,704.8 688,704.9 690,704 692.4,702 694,699.3 698,695.3 704,687.1 708,683.4 710,682.3 714,681.4 724,681.7 728,681.3 731.4,680 734,678.1 736,675.6 737.8,672 742.2,660 744,658 748,657.9 750,657 751.1,656 753,652 756.8,648 757.5,646 757.4,644 756,641.5 753.4,640 750,639.7 744,641.8 737.6,646 734,647 732,646.9 729.2,646 726,643.8 724,641.4 722.3,638 721.6,634 722.5,628 735.2,592 736.8,586 737.3,582 737,578 735.6,574 724.8,560 722.1,554 719.6,546 718.3,540 718.2,536 720,532.2 723.3,530 730,528.5 742,527.3 748,525.8 754,522.8 762,517.9 768,515.5 772,515.4 774,516.1 776,517.8 777.1,520 777.9,524 777,534 775.9,538 774,541.9 765.4,552 763.4,556 762.8,562 764.7,568 772,578.4 777.2,590 780,594 784,597.3 796,604.4 807.7,618 821.3,628 828,637 830,638.9 834,640 840,640M840,329.8 822,329.1 820,330 818,332 817,334 812.9,352 812,360 812.5,366 816.6,378 817,382 816.1,386 814.8,388 812,390.4 797.8,396 794.6,398 792.9,400 792.1,402 791.7,406 794.1,420 793.8,426 792,429.3 790,431.1 786,433 776,436.6 774,438 772.5,440 771.2,446 772.9,464 772.1,468 770,471.2 766,474 762,475.1 756,475.6 746,475 742,475.9 738,478.7 727.6,488 720.9,492 714,494.8 708,496.2 702,496.7 696,496.4 690,495.2 686,493.6 682,490.4 680.7,488 680,484 680.8,476 685,456 685.2,452 684.6,440 685.5,434 687.4,430 690,427.4 702,421.5 705.6,418 707,412 705.6,396 706.4,392 708,389.2 710,387.3 718,382.5 721,380 727.3,370 730,367 741.7,360 745.2,356 747.1,350 747.8,344 747.1,320M486.9,502 490.3,502 493,504 494.1,506 494.6,508 494.7,512 494,514.4 492,516.5 490,517 488,516.5 486,515 484,511.7 483.2,508 483.4,506 484.2,504ZM388,531.9 387.9,534 390,535.7 392,535.5 393.3,534 393.3,532 392,530.5 390,530.3ZM606,550.6 605.1,552 605.4,554 606,554.7 608,554.9 609.3,554 609.8,552 608,550.1ZM548,559.8 524,567 520,569.9 506,576.8 501.8,580 498.5,584 496.4,588 492,600.2 485.5,614 483.3,622 482.7,630 483.9,636 486,640.1 492.3,648 493.9,652 493.9,656 490.8,678 490.7,682 491.5,684 502,694 504.1,698 506.8,708 510,713.3 514,716.3 522,719.1 528,719.5 532,718.5 536,716.4 546,709.3 560,704.6 564,702 566,699 567,696 569.5,678 571.2,672 574.5,666 584.6,654 587.2,650 588.5,646 589.8,636 591.4,632 594,629 598,626.5 614,621.1 619.1,618 621.1,616 623.5,612 626.3,602 626.6,596 624.4,592 619.3,588 606,579.5 600,576.9 584,571.9 568,563.1 562,560.5 556,559.2ZM474,590.3 472.1,592 474,593.7 475.5,592ZM422,627.8 420.9,630 421.2,632 422,633.1 424,634.4 426,634.3 428,632.9 429,630 428,628 426,626.6 424,626.5ZM738,635.7 737.2,638 738,639.4 740,641.2 742,641.2 743.5,638 742.9,636 740,634.6ZM794,643 792.8,644 792.8,646 794,647.2 796,647.1 797,646 796.9,644 796,643.1ZM446,665.8 444,666.3 441.8,668 441.2,670 442,672.8 444.8,676 454,681.6 456,684.7 459.1,692 462.8,696 468,697.6 474,696.8 479.6,694 483.6,690 484.6,688 484.6,686 483,684 478.3,682 464,678.9 460,677.5 458,675.8 452.3,668 450,666.6ZM654,739.6 653.6,742 654,742.5 656,743.5 658.2,742 658.1,740 656,738.6ZM686,740 686,740 687.4,740ZM490,742.9 488.9,744 488.9,746 490,747.1 492,747.2 493.2,746 493.2,744 492,742.8ZM520,749.7 518.9,752 520,753.9 522,754.9 524,754 525.2,752 524.4,750 522,748.8ZM660,753 659.2,754 659.2,756 660,757 662,758 664,757.4 665.2,756 665.1,754 664,752.8 662,752.1ZM464,761.8 464,762.2 466.1,762 466,761.8ZM666,765.3 664.6,768 665.2,770 666,770.9 668,771.6 670,771 671.5,768 670.8,766 668,764.5ZM672,778 670.5,780 672,781.9 674,781.4 674.8,780 674,778.4ZM656,788.7 654.9,790 654.5,792 655.6,794 658,795.2 660,794.5 661.6,792 661.3,790 660,788.5 658,788.1ZM498,791.8 494,792.7 492,793.9 488.8,798 486.9,804 487.7,810 490,813.5 494.6,818 497.7,822 502,831.8 504,834.7 508,837 510,837.3 514,836.8 518,834.6 520.3,832 522.3,828 523.3,822 523,816 521.1,810 518,806.2 514,803.1 511.3,800 514,798.6 516,796.5 516.6,794 515.4,792 514,791 512,790.8 510,792 508.3,794 508,795.6 502,792.6ZM662,806.4 660.6,808 662,809.3 663.4,808ZM568,817.1 566.8,818 566,820 566.8,822 568,823 570,823 571.2,822 572,820 571.2,818 570,817.1ZM724,821.3 723.4,822 724,823 726.1,822ZM680,836.1 678.6,838 679.4,840 680,840.5 682,840.3 683.2,838 682,836.2ZM448,843.7 444,844.9 440,846.9 434.4,852 427.7,862 426.4,866 426.4,868 426.8,870 428.7,874 435.4,882 442,887.4 448,889.7 452,889 454,887.8 458.9,882 463.4,874 467.1,866 469.4,860 470.6,854 469.8,850 468.6,848 466.5,846 464,844.6 460,843.4 456,843ZM354,849.9 353,852 353.4,854 355.7,856 358,856.1 360.6,854 361,852 360.1,850 358,848.7 356,848.7ZM658,851.6 654,853 642,853.6 636,854.9 630,858 626,861.9 619.6,872 616.9,878 615.1,884 614.6,888 614.9,892 616.7,896 618.5,898 622,900.2 626,901.4 630,901.7 634,901.3 640,899.3 644,896.4 646,894.1 652.8,882 659.4,866 666,861.9 667.6,860 668.4,858 668.5,856 667.9,854 666,851.7 664,850.6 662,850.4ZM704,919.6 703.7,920 704,920.3 704.4,920ZM375,320 375.2,328 376.4,332 380,335.9 390,342.1 393.3,346 394.9,350 395.8,358 394.7,378 395.8,400 395.4,408 394,413.1 392,417 384.4,426 382.3,430 381.5,436 382.8,452 382,456.6 380.6,460 378,463.2 376,464.6 367.3,468 362,471 356,476 352.3,480 349.6,484 347.3,490 344,492.8 342,496 341.6,498 342.1,500 344,502.6 350,504.9 358,510.8 362,512 366,512.1 370,510.2 376.9,502 380,499.2 382,498.3 384,498.3 386,499.2 390,503.3 398,513.5 402,517.2 421.4,528 426.1,532 427,534 427,536 426.2,538 424.1,540 418,542.3 408.1,544 407.8,546 411,550 423.5,562 426,564 430,565.8 434,565.8 444,563 448,562.6 454,563.1 468,566.6 474,566 478,564.3 481.2,562 494,549 500.3,544 506,540.4 512,538.4 528.2,538 532,537.4 535.6,536 538,533.9 539.9,530 541.9,514 544,507.6 546,504.7 549.3,502 552,500.7 556,499.9 561.3,500 578,501.8 602,500.7 608,501.9 610.8,504 612.1,506 613,510 612.4,518 610.6,524 605.8,534 604.3,540 604.9,548 603.6,552 604,554 606,556 608,556.4 612,554.4 620,552.7 638,544.7 648,543 656,543.5 665.3,546 674.3,550 677.2,552 678.5,554 678.8,556 677.4,560 674.4,564 672,566 670,567 666,567.9 654,567.8 648,569.1 642,573.1 632,584.3 628,586.1 626,586.1 622,585 604,575.3 586,569.7 579.2,566 566,557.1 560,554.3 556,553.2 552,553.2 548,554.3 538,559.1 524,564.7 502,575.7 499.2,578 495.9,582 488,598.1 483.1,606 480.7,612 478.8,620 477.7,630 478.3,638 480.7,644 487,652 488.8,658 488.2,668 486,674.1 484,676.1 480,677.3 474,677 468,675.6 464.8,674 462.3,672 455.3,664 452,661.9 448,660.7 440,660.4 436,661.9 434.4,664 433.7,666 433.6,670 434.8,674 436.1,676 440,679.6 450,686.5 452,689 456,696.3 458,698.6 462,700.7 466,701.2 470,701 478,698.8 488,694.4 492,693.9 494,694.6 496.2,696 499.2,700 504,712.9 508,717.9 512,720.4 518,722.9 528,725.3 532,725 536,723.4 546,715.3 550,713 562,710.1 566,708.5 568.9,706 570.8,702 571.6,698 572.5,682 574.4,674 576.2,670 578.9,666 590.6,654 593.5,650 594.2,646 594.2,638 595.3,634 596.5,632 598.6,630 602,628 616,623.3 621.9,620 625.3,616 631.1,604 634,601.7 636,601.5 640,602.7 644,604.9 647.8,608 650,610.6 652.9,616 657.4,628 665.7,644 667.5,650 668,654 667.5,668 668.1,674 673.7,694 676.4,700 680.1,704 682,705.4 686,707.1 692,706.6 698,704.2 701.8,700 707.3,690 710,687.4 712.6,686 716,685.2 728,684.6 732,683.5 734.4,682 738,678 743.2,666 745.8,662 748.4,660 762.3,652 764.3,650 766.6,646 767.4,642 766.5,638 764,635 760,633.1 754,632.6 744,634.1 740,633 737.6,634 734,638.5 732,638.6 730,637.7 728,635.2 727.2,632 727.2,628 730,616.2 734,604.2 741.1,588 742.7,582 743.2,578 742.6,574 740.2,570 730,560.8 726.7,556 724.2,550 722.8,542 723.3,538 724.2,536 726,534.1 728,533 732,531.8 742,530.5 748,529.1 752,527.3 762,521.2 768,519.1 772,519.9 773.8,522 774.9,526 774.6,532 773.4,536 771,540 762,548.3 758.1,554 756.1,562 756.2,566 757.5,570 768,582.2 774.8,594 778,597.7 781.3,600 790,604.1 794,606.8 805.4,620 816.8,628 820,630.9 826.9,640 829,642 832,643.3 840,643.6M802.5,320 802.9,330 805.2,338 804.2,342 802,343.4 800,343.1 788.7,336 782,333.2 778,332.7 776,333.3 774,335.7 773.2,340 773.6,346 775.3,352 779.7,364 780.1,368 779.3,372 776.4,376 774,377.8 764,382 762.5,384 761.8,388 761.1,402 759.7,408 756.2,414 746,423.7 743,428 740.9,434 738.4,448 735.8,454 734,456.3 730,459.2 726,460.5 720,461.4 718,462.2 716.3,464 715.7,466 716,468.5 720.7,478 721.2,480 720.7,484 719.5,486 714.7,490 708,492.6 700,493.5 696,493.2 690.9,492 687.2,490 685.2,488 684,485.7 683.3,482 684,473.5 688.1,458 688.6,454 686.5,440 687.3,434 689.6,430 692,428 696,426.2 706,423.3 707.9,422 709.1,420 709.6,414 707.2,398 707.5,394 709.6,390 712,388 719.8,384 722.4,382 724,379.9 728.1,372 731.6,368 736,365.4 744,362.3 746.7,360 748.4,356 749.4,348 749.2,320M801.4,376 804,375 806,375 808,375.8 810,377.6 811.2,380 811.5,382 811,384 809.6,386 806,387.8 804,388.2 800,387.6 798,386 797.4,384 798,380 799.2,378ZM736,393.9 734,395 733.2,398 734,401.3 736,402.6 738,401.6 739.5,398 739.2,396 738,394.4ZM781.8,410 784,410 786,411.1 788,413.3 790.2,418 790.6,424 790,426 788,428.2 784,430 780,430.2 778,429.7 775.6,428 774.2,424 774.3,420 776.5,414 778.1,412ZM759.9,448 762,447.3 764,447.5 766,449.1 768,452.6 770,460 770,464 768.4,468 766,470.1 762,471.1 758,470.6 756,469.6 754.2,468 752.5,464 752.5,460 753.5,456 756,451.5ZM485.7,504 488,502.9 490,503.2 491.2,504 492.4,506 492.7,508 492.2,510 490,512 488,512 485.6,510 484.7,508 484.7,506ZM376,521.4 374,522.5 372,524.8 370.7,528 370,532 370,536 371,540 372,542 373.9,544 376,545 380,545.5 400,542.9 403.1,542 403.1,540 399.7,530 397.3,526 395.2,524 391.3,522 386,520.9 380,520.7ZM472,588.5 470.4,590 470,592 470.6,594 472,595.4 474,595.8 476,595.2 477.2,594 477.6,592 477,590 476,589 474,588.2ZM424,625.8 422,626.7 420.6,628 420,630 420.6,634 422,635.7 424,636.7 428,635.1 429.7,632 429.8,630 429.2,628 428,626.8 426,625.8ZM794,641.6 791,644 790.9,646 794,648.8 796,648.6 798.2,646 798,644 796,641.9ZM402,685.6 398,687.5 395.1,690 393.6,692 392,696 392.1,702 394,704.9 396,705.9 400,705.8 406,703.3 412,698.5 414.9,694 415.3,690 414.5,688 412.2,686 408,684.9ZM442,737.7 440.6,740 440.7,742 442.6,746 446,748.6 448,748.9 450.7,748 451.9,746 451.8,744 450,740.6 446,737.7 444,737.3ZM656,737.8 654,738.4 652.7,740 652.6,742 654,743.7 656,744.6 658,743.7 659.2,742 659,740 658,738.7ZM686,738.7 685.1,740 686,741.5 688,741.4 688.8,740 688,738.8ZM492,742 490,742 488.1,744 488.1,746 490,747.9 492,748 494.1,746 494.1,744ZM840,740.9 800,741.2 780,740.4 774,740.6 768,741.8 762.8,744 759.8,746 758.3,748 758.3,750 760.4,752 770,754.4 774,755.9 776,755.9 780,754.5 784,754 840,753.6M534,745.6 532.8,746 531.2,748 534,749.7 538,749.9 540.2,748 538,745.7ZM520,747.6 517.9,750 517.3,752 518.3,754 520,755.5 522,755.9 524,755.6 527.4,752 527.5,750 524,747 522,746.8ZM660,751.7 658.3,754 658.4,756 660,758.4 662,759.4 664,759.2 665.4,758 666.4,756 666,754 664,751.5 662,750.9ZM464,759.8 462.7,762 464,763.8 466,763.8 467.2,762 466,759.9ZM666,763.4 664,765.9 663.2,768 664.5,774 656.4,782 653.9,786 652.9,790 653,792 654.2,794 656,795.6 660,795.7 662.2,794 664,791 666.8,788 669.2,784 674,783.1 675.8,780 675.3,778 674,776.5 672.1,776 670.3,774 672.8,770 673.2,768 672.7,766 670,763 668,762.6ZM492,780.7 490,782.4 488,785.7 483.4,798 482.5,806 483.7,812 486.3,816 494,824.1 496.1,828 499.2,836 502,839.5 504,840.6 508,841.4 512,841.2 516,840.1 519.9,838 522.1,836 524.9,832 527,826 528.9,816 530,806 529.7,800 528.6,796 526,792.3 522,789.6 498,780.7 494,780.1ZM840,784.6 830,784.7 800,787.1 794,786.8 782,785.1 776,785 772,785.8 768.1,788 766.6,790 765.8,794 768,800 768.3,804 769.2,806 772,807.4 774,807 775.3,806 778,802.3 780,801.5 792,800.1 806,801.2 812,800.9 818,799.2 830,794 840,793.5M430,797.2 429.1,798 430,799.3 431.1,798ZM662,805.4 660.9,806 659.7,808 662,810.1 664.3,808 663,806ZM568,816.7 566.4,818 565.5,820 566.3,822 568,823.4 570,823.4 571.7,822 572.5,820 571.7,818 570,816.7ZM724,819.4 722.9,820 721.5,822 722.1,824 724,825.1 726,824.6 727.4,822 726,819.7ZM654,835.7 652,836.5 648.9,844 646,847.2 634,852.5 628,856.5 623.3,862 618.4,870 613.2,882 611.6,890 611.9,894 613.4,898 615,900 618,902.2 624,904.2 632,904.5 640,902.7 644.5,900 648,896.1 650,892.7 662.1,868 663.6,866 668.2,862 671,858 673.5,852 673.3,850 672.4,848 668,844.3 656,836.5ZM680,835.4 677.8,838 678.3,840 680,841.4 682,841.2 683.3,840 683.9,838 682,835.4ZM454,839.8 444,841.5 436,844.8 420.7,858 419.1,860 417.6,864 418,868 420.1,872 434,887.2 442,893.9 446,895.9 450,896.9 454.7,896 457.3,894 458.9,892 472,866.3 481,852 481,850 479.8,848 475.2,844 470,840.8 464,839.4ZM354,845.1 352,846.2 350.5,848 350,850 350.6,854 354,857.3 356,857.9 360,857.3 363.5,854 364.4,850 363.6,848 360,845.3 356,844.7ZM546,861.6 546,862.5 548,862.4 548.2,862ZM764,915.6 764,916.4 766,916.7 766.5,916 766,915.3ZM704,918.9 703,920 704,921 705.1,920ZM550,925.5 547,928 546.1,930 546.1,932 546.9,934 548.7,936 552,937.5 556,937.7 560,936.4 562.7,934 564.1,930 563.6,928 561.9,926 560,925.1 556,924.4ZM416,963.5 415.2,964 415.3,966 416,966.4 416.8,966 416.9,964ZM400,970.6 398.8,972 400,973.4 401.7,972ZM373.1,320 373.5,330 375.1,334 378,337.2 386.4,342 390,344.8 392.2,348 393.5,352 394.1,360 392.6,380 394.1,400 393.5,408 392.3,412 390,416 381.7,424 379.1,428 378,434 379.1,448 378,454 376,457 374,458.7 362.8,464 358,467 348.6,476 345.9,480 344.2,484 342.8,490 340.5,496 340.6,500 345.5,508 350,518.3 356.3,528 363.1,548 366,552.2 370,555.2 376,556.9 394,555.3 404,557.1 412,560.6 424,570.6 426.4,572 430,573.1 434,572.8 446,568.1 450,567.5 454,567.9 458,569.2 462.8,572 464.7,574 465.6,576 465.7,578 463,586 462.5,590 462.8,592 464.8,596 472.3,604 473.2,606 474,610 474,616 472.2,636 472.6,644 474.2,648 482,656.7 483.4,660 483.9,664 483.2,668 482,670.3 480,672 476,673 472,672.6 466.7,670 460,661.8 456,658.9 442,654.7 438,652.8 436,650.7 434.8,648 433.7,638 430.7,628 428.8,626 426,624.6 422,625.1 412.1,634 409.7,638 408.4,644 409.2,648 410.4,650 414,653.5 420,658.1 423.4,662 424.9,666 425.5,670 425.2,678 424,679.4 412,678.3 404,678.7 398,680.1 392,683.3 387.5,688 384.7,694 383.7,702 384.6,708 386,711.3 388,713.9 392,716.2 398,716.5 402,715.4 406,713.3 414,706.5 419.6,700 423.8,692 426,683.4 428,681.9 440,686 445.9,690 448.6,694 452,705.7 454,706.8 470,704.3 486,699.9 490,699.7 492,700.3 494,701.8 496,704.5 500,716.2 502,720.1 506,723.6 515.3,728 518.3,730 520,732 520.2,734 519.2,736 517.1,738 505.1,744 502.6,746 500.2,750 498,758.1 496,759.6 490,761.8 486,764 483.8,766 481.5,770 480.7,774 480.2,788 478.5,802 478.8,810 479.8,814 482,818 490,826 492,829.4 493.1,834 492.6,838 492,839.4 490,840.8 486,840.9 482,839.6 472,834.5 468,833.8 464,834.3 438,838.8 426,842 418,843.5 414,845.7 412,847.7 409.3,852 407.8,856 407.3,862 408.2,866 410.3,870 434,894.6 440,899.6 446,903.1 454,906.6 458,907.6 460,907.6 462,906.6 464,902.3 466.2,892 469.8,882 475.7,870 480,864.5 491.1,856 498.5,848 502,846.7 512,845.1 518,843.5 524,840.1 527.4,836 530.8,828 533.9,814 535.4,800 534.6,792 532,787.1 528,784 512,778.1 505.9,774 504.3,772 502.3,768 501.7,764 502.3,762 506,760.4 512,759.8 542,760.2 548,758.3 550.8,756 553.2,752 553.7,750 553.3,746 551.7,742 544.8,732 544.4,730 545.3,726 548.1,722 552,719 556,717.4 568,714.2 571.5,712 573.4,710 574.7,708 576,704 576.4,682 577.8,676 579.5,672 582.2,668 586,664 592,659.8 600.5,656 603,654 604,652 603.4,648 600.2,640 600.3,636 601.2,634 602.9,632 606,630 620,625.6 626,622.6 628.4,620 634,610.2 636,608.8 638,608.5 642,609.7 646,613.4 648,617.1 652.2,628 659.1,640 661.8,646 663.3,654 662.1,668 662.3,674 670,703.1 672,706.2 676,709.2 680,710.9 686,712.6 694,712.8 698,712 702,710.4 705.3,708 706.8,706 710.2,696 712,692.9 714,691.1 718,689.4 732,687.5 736,685.6 740,681.2 746,667.4 748.8,664 752,661.8 774,654.5 778,654.2 788,655.3 794,655.3 799.4,654 801.2,652 801.5,650 800.9,646 799.2,642 798,640.7 780,629.7 770,622.2 766,621.6 752.6,626 742,628.5 738,628.6 736,627.9 734.5,626 733.8,622 734,618 736.6,608 740,600.7 748,586.7 750,583.9 752,582.2 754,581.5 756,581.6 758,582.3 762,584.7 766,589.2 770.9,598 774.4,602 778,603.9 788,607.1 792,609.6 794.4,612 802,622 806,625.3 816.1,632 825.8,644 828,645.9 832,647.5 840,647.7M765.9,320 766.9,340 766.4,352 765.4,356 764.3,358 762,359.5 760,359.9 756,359 754,357.2 752.3,352 751.6,340 752.2,320M736.8,368 742,367.6 744,368.4 745.5,370 746.3,374 745,380 742,383.3 738,384.7 730,385.2 728,384.3 727.8,380 729.7,374 732.9,370ZM717.5,388 724,387.3 725.3,388 725.9,390 726.3,404 725.8,410 724,414.4 722,416.2 720,416.9 718,416.8 716,415.9 714,413.8 710.6,406 709.2,400 709.2,396 710.7,392 714,389.3ZM692.9,430 698,428.2 702,428.3 705.5,430 707.3,434 707.4,440 706.5,444 704,448.8 700.2,454 700,456 709.8,478 710.6,482 710.3,484 709.1,486 706.3,488 702,489.3 696,489.3 691.8,488 689.2,486 688,484.2 686.9,480 687,476 688.2,470 690,465.4 695.8,456 695.8,454 690,444.3 688.9,440 689.6,434 690.7,432ZM551.1,504 554,502.9 558,502.5 576,504.9 598,503.7 604,504.5 606.9,506 608.6,508 609.4,510 609.5,516 607.4,522 600.4,534 599.3,538 598.9,542 599.6,548 601.6,554 602.7,556 606,559 610,560.2 616,559.4 624,555.8 638,547.9 644,546 650,545.4 658,546.7 665.2,550 669.4,554 670.2,556 670,558 669,560 666,562.2 662,563.3 650,564.8 644,567.1 640,570 634,576.4 630,579.7 628,580.5 624,580.7 618,578.6 606,571.5 592,568.4 585.9,566 579.8,562 566,550.7 562,548.2 556,546.2 550,546 546,547.5 538.8,554 534,557 498,573.3 492.9,578 486,588.1 484,589.3 482,589.2 479.2,586 477.1,582 476.3,578 476.8,576 478.1,574 486,565.9 493.2,556 498.7,550 506,544.5 512,541.9 518,541.1 536,540.8 538.8,540 541.4,538 542.4,536 543.3,532 543.7,518 544.8,512 546,509.1 548,506.3ZM379.9,506 382,504.9 384,505.4 385.7,508 385.2,510 384,511 382,511.4 380,510.5 379.1,508ZM486.3,506 488,504.3 490,505.1 490.6,506 490.4,508 490,508.6 488,509.1 486.8,508ZM764.4,524 768,523.6 770,524.8 770.8,526 771.4,530 770.4,534 767.5,538 758.9,544 756,546.7 748,560.3 746,561.7 742,562.1 736,559.8 732,556.6 729,552 727.3,546 727.5,542 728.2,540 729.7,538 734,535.7 746,533.9 750,532.7 760.3,526ZM366,633.7 364.1,634 365,636 366.2,636ZM378,659.8 377.7,662 378,662.2 378.4,662 378.4,660ZM448,711.8 435.4,720 424,726.5 420.5,730 419.3,732 418.1,736 418.7,740 420,742 434.7,754 438,756.2 442,758 448,758.9 454.6,758 460,755.2 462.8,752 463.6,750 464.3,746 463,740 455.1,728 453.3,724 450,712.4ZM840,733.8 798,734 778,733.2 772,733.7 762,736.5 748.6,742 746.3,744 744.9,748 745.7,752 748.7,756 752.2,758 758,759.2 840,758.9M654,736.6 652.2,738 650.8,740 650.8,742 652,744 656,747 658,746.3 659.8,744 660.4,742 660,740 658,737.3 656,736.5ZM686,737.6 684.3,740 685.1,742 686,742.8 688,742.7 689.6,740 688,737.6ZM488,741.9 486.6,744 486.7,746 488.1,748 490,749.5 492,749.7 495.1,748 495.9,746 495.8,744 494,741.3 492,740.3 490,740.4ZM658,749.3 656.7,752 656.4,754 656.5,756 659.1,762 658.6,768 657,772 650,782.1 648.3,788 649.1,792 650.3,794 654,797 658,798.1 662,797.7 666,796.3 670,793.6 673,790 677.3,782 678.9,764 678,757.5 676,754 674,752.3 670,750.4 664,748.5 660,748.3ZM462,759.3 461.2,762 462.4,764 464,765.1 466,765.2 467.6,764 468.6,762 467.9,760 466,758.2 464,758.1ZM840,779.4 830,779.5 804,781.3 780,780.1 772,780.6 766,782.8 762.2,786 760,790 759.4,794 760,798 762.1,802 767.4,808 770,809.4 772,809.8 774,809.6 780,807.5 784,807.1 792,806.9 804,807.7 810,807.2 818,804.7 830,798.4 840,797.9M544,785.9 543.8,786 544,788.1 544.5,786ZM430,795.6 427.1,798 428,801.1 429.5,802 428,803.9 421.3,808 419.4,810 417.7,814 418.1,820 420,822.8 422,823.5 424,823.3 433,820 446.7,816 450.4,814 452.4,812 453.3,810 453.3,806 452,803.2 450,801.3 448,800.2 444,799.4 434,801 433.3,798 432,796.5ZM660,805.3 658.9,808 660,809.9 662,810.9 663.8,810 665,808 664,805.4 662,804.5ZM566,817.8 565,820 565.7,822 568,823.7 570,823.7 572.3,822 573,820 572.2,818 570,816.3 568,816.3ZM722,818.9 719.3,822 718.8,824 720.2,826 722,826.7 724,826.9 726,826.2 728.2,824 728.7,822 728.1,820 726,818.3 724,818.1ZM634,821.9 634,824.2 636,824.4 636.5,824 636,821.7ZM706,823.9 703.3,826 701.9,828 701,832 702,835 704,837.1 708,838.8 712,838.7 714,837.9 716.5,836 718,833.4 718.6,830 717.9,826 715.4,824 712,822.8 710,822.7ZM650,827.7 648,829.4 646.4,832 643.6,840 641.2,844 639,846 630,851.7 625.3,856 619.5,864 613.2,876 608.8,888 607.8,896 608.4,900 609.3,902 610.9,904 614,906 622,907.9 632,908 640,906.6 646,903.7 650,899.2 657.5,882 664,870.4 667.7,866 676.7,858 679.3,854 679.8,850 679.3,848 676.4,844 666,837.1 656,827.8 652,827ZM680,834.7 678,836 676.7,838 676.6,840 678,841.9 680,843 682,842.3 684,840.6 684.8,838 683.8,836 682,834.7ZM352,837.7 348,838.8 346,839.9 344,841.8 342.8,844 342,848 342.6,852 344,854.9 346,857.1 351.5,860 358,860.8 362.1,860 367.6,858 372,854.5 373.3,852 373.1,848 370.6,844 368.4,842 364,839.5 360,838.2ZM546,859.7 544.4,862 546,864.7 548,864.6 549.5,862 548,859.8ZM512,897.6 510,899.3 508,903.1 505.4,918 505.3,922 505.9,926 508,928.6 510,929.1 514,927.9 520,922 523.8,916 525.3,910 524.5,904 522,899.8 518,897.2 514,896.8ZM764,913.7 762.7,916 764,918.2 766,918.3 767.7,916 766,913.5ZM566,917.9 550,919.7 546,921 542,923.4 540,926 539,930 539.5,934 542,938.7 544,940.7 548,942.9 556,944.3 562,944.1 566,943.3 568.9,942 571.5,940 575.4,934 578.3,926 579.1,922 578.5,920 576,918.5 572,917.8ZM704,918.2 702.3,920 704,921.7 705.8,920ZM416,961.7 414,962.7 413.1,964 413.1,966 414,967.2 416,968 418,967.3 419,966 419.1,964 418,962.5ZM398,969.8 397.1,972 398,974.2 400,975.1 402.6,974 403.4,972 402.7,970 400,968.8ZM370.9,320 371,330 372.5,336 374,338.2 376,339.8 384,343.4 387.9,346 390,348.6 391.4,352 392.1,360 390.2,380 392.1,400 391.8,406 390,411.6 388,414.3 384,417.6 376.8,422 375,424 374.1,426 373.4,432 374.5,446 374,449 372.4,452 368,455.1 358,458.7 352,462 348,465.4 344,469.9 340.5,476 338.8,484 338.2,496 339.8,510 339.6,516 338.3,526 338.8,530 340,532.2 348,538.9 350,541.2 357.5,554 360.6,558 365,562 370,564.8 374,566 380,566.6 398,564 406,564.8 412,567.8 422,577 428,579.5 432,579.8 436,579.3 448,575.4 450,575.4 452,576.2 453.4,578 453.9,580 454,588 455.1,594 458,600.1 465.3,610 466.9,614 467.6,618 467.3,628 464.8,648 463.3,652 462,652.9 460,653.3 454,653 449,652 444.5,650 442.3,648 440.4,644 438.9,634 438,631.3 436,628 432,625 426,622.6 418,622.7 412.5,624 408,627 403.5,632 399.6,638 397.3,644 397,648 398.2,652 400,654.9 409.7,664 410.7,666 410.5,668 407.9,670 396,673.2 392,674.8 387,678 383.1,682 380.5,686 377.9,694 377.5,706 379.1,716 382,722.2 388.8,730 388.7,732 382,739.9 380.2,744 379.9,748 380.3,750 382,752.5 386,754.8 390,755.6 410,755.2 416,755.9 422,757.9 432,763.9 438,765.8 444,766.2 460,765.7 464,767.4 468.4,768 470,770.5 471.6,776 473.2,784 473.9,792 473.7,808 474.1,818 473.5,822 471,824 464,826.7 458.3,830 454,831.7 448,832.9 444,832.8 440.3,832 438.3,830 438.6,828 440.1,826 444,823.6 456,818.7 458,817 459.8,814 460.7,810 459.9,804 458,799.8 454,795.7 450,793.8 446,793 440,793 434,793.8 430,793.5 424,795.5 414,796.6 408,797.9 404.5,800 403.2,802 402.6,806 405,822 405.1,830 403.6,838 398.6,852 397.9,856 398.4,862 400.5,868 403,872 418.4,886 421.5,890 427.5,900 445.2,912 449.1,916 456,925.7 460,929.1 464,930.7 466,930.9 469.2,930 471.3,928 473,924 473.6,920 473.7,898 474.3,892 478,880.5 482.1,872 486,867.9 496,861.5 506,852.3 511.4,850 522,847.4 526,845.7 530,842.3 532.6,838 534.8,832 536.7,824 540.7,792 541.9,790 544,790.1 546,789.4 547.2,788 547.3,786 546,784.4 544,783.7 540,784.4 537.6,780 532.7,774 531.8,772 548,766.5 554,762.4 558,757.4 560.1,752 560.3,748 559.6,744 555.8,732 556.1,728 557.4,726 559.7,724 570,719.2 574,716.7 577,714 579.7,710 581,706 581.3,702 580.5,688 580.9,682 582.5,676 586,670.4 588.6,668 592,666 596,664.9 608,664.3 610,663.4 612,661.4 614,656 614,650.9 613.3,648 609,640 608.5,638 608.8,636 610.3,634 614,632.2 636,628.4 640,628.3 642,628.9 646,631.4 652,637.3 656.2,644 658.2,650 658.1,658 654.7,670 653.9,676 654.9,682 658.4,692 661.4,708 662.5,710 666,712.6 688,719.3 692,719.6 698,718.8 708.4,716 714,713.6 715.6,712 716.5,710 717,702 718.2,698 720,695.9 724,694.1 736,692.3 740,690.8 742,688.5 743.1,686 746,675.4 748,670.5 750,667.8 754,665.2 758,664.1 762,663.7 774,664.8 788,664 792,664.4 797.1,666 799.9,668 801.9,672 801.3,676 800,677.9 796,680.7 784,686.1 774,695.9 772,697 768,698 752,696.7 748,697.4 746,698.7 744,701.7 741.1,710 738.9,714 736,716.1 728,718.9 726,720.5 725,722 724.3,728 725,732 726.4,736 734,747.9 740,759.6 744,763.2 748,764.8 756,765.7 776,764.8 808,765 840,764.3M757.8,334 760,335.6 760.8,340 760,344.9 758,346.5 756,344.3 755.5,340 756,335.5ZM735.6,376 736,374.8 736.5,376ZM713,394 716,392.1 718,392.1 720.5,394 721.5,398 721.1,402 720,405.1 718,406.8 716,406.7 714,405.1 712.4,402 711.7,398 711.9,396ZM693.3,434 696,432.2 698,432.1 700.7,434 701.4,436 701.3,438 700,440.9 698,442.6 696,442.8 694.2,442 692.8,440 692.1,438 692.3,436ZM693.4,474 694,472.9 696,472 698.7,474 700.4,478 700.2,480 698.5,482 696,482.2 693.3,480 692.7,478ZM554.1,506 560,505.6 572,508.3 578,508.9 598,507.6 602,508.7 604,510.3 605.2,514 604.3,518 602,522 595.6,530 593.2,536 592.8,540 593.3,546 596.1,558 596.1,560 594.7,562 592,562.5 590,562.2 584,558.9 576.8,552 570,542.8 568,541 564,539.3 554,537.7 550,535.2 548,531.3 546.9,526 546.3,520 546.6,516 547.7,512 548.7,510 550.5,508ZM736.3,542 738,541.5 742,541.4 744,542 745.8,544 745.5,548 744,550.8 742,552.5 740,553 738,552.8 736,551.7 734.5,550 733.5,546 734,544ZM512.7,546 520,544.8 528,545.3 532,546.7 533.6,548 533.8,550 532.7,552 528,555.5 514,561.7 506,564.1 502,564.2 500,563.3 499.1,562 499.1,560 499.6,558 502,554 506,549.9ZM642.7,550 650,548.7 656,549.9 659.2,552 660.6,554 660.5,556 658,558.4 646,561.5 640.1,564 637.5,566 631.9,572 628,574.6 626,575.1 622,574.5 618.2,572 616.9,570 616.8,568 618,566 620.4,564ZM755.7,594 758,594.6 759.7,596 760.9,598 761.9,602 760.8,608 758.4,612 754,616.2 748,618.7 744,618.3 742,616.3 741.5,614 742,610 743.6,606 746,602 750,597.1 754,594.3ZM781.6,614 784,612.7 786,612.8 788.5,614 791.4,618 792.1,620 792,622 790,623 788,622.7 784,620.4 782,617.8 781.4,616ZM364,632.4 362.7,634 362.8,636 364,637.3 366,637.5 367.9,636 368.1,634 366,632.1ZM376,659.8 375.8,662 378,663.5 380.6,662 380.6,660 380,659.3 378,658.5ZM470.3,662 472,660.5 474.4,662 474.8,664 474,665 472,664.7ZM432.8,698 434,697.1 436,696.7 437.5,698 437.5,700 436.6,702 432,707.2 430,708.3 428,708.1 427.9,706 428.8,704ZM477,706 486,704.6 490,705.9 491.8,708 492.8,710 493.5,714 493.2,718 491.3,722 488,724.7 478,729.5 472,730.4 468,729 464,725.5 461.4,720 461.2,716 463.1,712 465.5,710 470.1,708ZM648,721.8 646,723.5 644,728 642.7,736 642.8,742 644.6,748 652,760 653.1,766 651.5,772 645.9,782 644.8,786 644.7,790 645.8,794 648.5,798 652,800.7 658,802.9 658.9,804 658.1,808 658.8,810 660,811.2 662,811.6 664,811 665,810 665.8,808 665.6,806 664.6,804 665.4,802 670,799.9 674.8,796 677.9,792 681,786 683.7,774 685.6,760 685.5,754 684,750.2 682,748 678.3,746 668,742.4 664,739.9 659.2,734 654,723.2 652,721.7 650,721.3ZM750.5,724 752,723.5 755.8,724 757.5,726 756,728 752,728.8 749.9,728 749.2,726ZM686,736.5 684.1,738 683,740 683.4,742 686,744 688,743.9 690,742.2 690.8,740 689.8,738 688,736.5ZM840,774.2 804,775.6 776,774.8 768,775.8 762,778.2 757.7,782 754.3,788 753,796 753.2,800 754.3,804 756,807 758,809.2 764,812.5 768,813.5 774,814.2 798,814.1 808,812.9 814,811.2 818,809.4 830,801.8 840,801.2M370,797.9 366,799.5 362.6,802 360,805.3 358.9,808 358.8,812 359.6,814 362,816.7 364,817.8 368,818.1 374,815.6 378.3,812 381.9,806 382,802 380,799.3 376,797.7ZM632,811.8 632,814.2 634.4,814 634.4,812ZM568,816 565.1,818 564.6,820 565,822 568,824.3 570,824.3 573,822 573.5,820 572.9,818 572,816.9 570,815.9ZM710,817.9 704,819.9 698.9,824 696.4,828 695.1,834 696,838 698,840.6 700.2,842 704,843.4 710,844.2 716,843.2 720.7,840 723.1,836 724.6,830 728.6,826 729.7,824 730,822 729.7,820 728.3,818 726,816.6 722,816.7 718,818.2ZM634,821.4 633.5,822 633.4,824 634,824.7 636,825 637.1,824 637,822 636,821.2ZM652,821.6 648,823.4 645.6,826 643.3,830 640,838.1 637.6,842 626,851.9 620.9,858 611.7,874 601,898 598,901.7 594,904.1 558,913.7 548,915.2 540,915.4 536.7,914 535.3,912 534.1,908 531.6,894 530,890 528,887.3 522,883.1 516,880.8 512,880.4 510,880.8 506,882.7 502,886.5 500,891.3 500.6,910 496.6,930 496.7,932 498,934.9 500,936.9 504,938.8 508,939.6 512,939.3 518,937 526,931 528,930.5 530,931.8 534.7,942 538,945.7 544,948.8 555.6,952 559.6,954 563.2,958 566,965.6 567.7,968 572,970.2 580,970.7 598,968.7 606,968.9 612,970.7 622.4,976 630,977.9 638,977.2 641.8,976 645.6,974 648,972 650.7,968 652.2,962 652.1,958 650.1,948 650.7,936 649.8,930 648.6,928 645.8,926 642,924.7 629.8,922 625.1,920 623.7,918 625.1,916 628,915.1 644,912.5 648,911.5 650.7,910 652,908.6 653.1,906 655.5,894 657.4,888 662,878.2 668,870 672,866.6 679.1,862 683.3,858 685.4,854 686.1,850 684.8,844 685.9,838 685.2,836 684,834.9 682,834 680,834 678,834.7 676,836.5 674,837.2 668,833.4 658,823 654,821.5ZM314,823.9 311.6,826 310.9,828 311.6,830 314,831.3 318,831.5 327,830 328.7,828 327.7,826 324,823.4 320,822.6ZM340,829.9 334,830.9 332.7,832 332.6,834 334.6,850 336.1,856 338,860 342,863.8 346,865.4 350,866 356,866 364,865 370,863.4 374,861.7 378,859 380.8,856 382,852 381.9,850 380.3,846 375.4,840 368,834.1 362,831.1 358,830.2 350,829.6ZM544,859 542.9,860 542.2,862 542.3,864 543.5,868 543.1,870 544,872.1 546,872.1 548,870.2 548.6,868 550,866.5 551.3,864 551.4,862 550.6,860 548,858.2 546,858.1ZM406,903.8 402,905.8 399.8,908 398.8,910 398.6,912 399.2,914 400.7,916 404,918 408,918.8 412,918 416,915.5 418.9,912 420.1,908 419.7,906 417.8,904 414,903 410,903ZM764,912.5 762.3,914 761.6,916 762.3,918 764,919.4 766,919.5 768.5,918 769.3,916 768,913.3 766,912.3ZM704,917.6 701.6,920 704,922.4 706.4,920ZM368,924 366.4,926 367.3,928 368,928.4 368.9,928 370.2,926ZM414,959.8 411.7,962 410.9,964 411,966 412.1,968 414,969.7 416,970.1 418,969.8 420.6,968 421.6,966 421.3,962 418,959.1 416,958.9ZM398,968 396.2,970 395.6,972 396.2,974 398,976 400,976.8 402,976.5 404.9,974 405.4,972 405.1,970 402,967.3 400,967.1ZM183.8,320 184,326.9 185.3,330 190,332.8 200.4,336 203.6,338 204.9,340 205.3,344 202.9,362 203.8,368 206.1,372 208.2,374 216,379 219.4,382 228,394.8 236,402.3 244,411.3 258,420.4 261.1,424 266.5,432 278.6,442 288,453.8 299.9,462 302.8,466 307.3,478 310,481.2 312,482 314,482.1 326,479.5 328,479.9 330.6,482 332.4,486 333.6,492 334.2,500 334,506.7 332.2,514 326.9,524 325.3,530 326.3,536 330,542.6 334,546.3 342,551.1 346,554.2 360,571.7 364,575.4 366,576.4 370,577.1 374,576.9 398,572.8 404,572.9 408,574.6 416,583.3 420,585.4 426,586.4 438,587 442,588.1 444,589.6 446,592.1 458.4,616 460.2,624 460,633.7 458,642.1 456,644.7 454,645.7 452,646 450,645.4 448,644 446.8,642 446,639.6 444.6,630 442.7,626 441,624 438.1,622 433.1,620 416,616.1 410,616.3 406,618.3 396,627 392,629.3 390,629.7 386,628.8 374,620 370,618.9 367.1,620 366,621 364.5,624 363.3,630 361,634 361.1,636 364,639.3 368.2,640 378,647.4 381.3,652 382.5,656 382,656.5 378,656.3 376,657.2 374.2,660 374.2,662 376,664.9 378,665.7 381.8,666 381.1,668 373,680 370.6,686 369.7,692 369.8,708 368,715.1 366,717.6 362,719.5 336,721.2 328.6,720 318,715.1 314,715.1 312,715.7 308,718.7 288,738.6 284,740.8 274,744.3 268.2,748 266,750.5 260,760.2 256,763.6 250,765.8 240,766.8 234,766.5 222,764.3 216,764.2 210,766.1 206.4,770 204.5,776 204.2,782 205.2,788 206,789.8 208,791.1 242,791.3 253.8,792 252.2,794 246,795 234,795.6 220,797.7 216,797.7 210.4,796 206,792.2 204,791.4 186,789.6 160,784.5 156,784.5 148,785.6 140,785.7M367.7,320 367.6,328 366.8,332 365.7,334 364,335.2 362,335.5 358,334.3 355.7,332 354.4,328 354.3,320M375.6,348 378,346.6 380,346.3 384,347.3 386,348.6 388,351 389.4,356 389.3,362 386.9,374 386.4,380 386.9,386 389.2,398 389.4,404 388.4,408 386,411.5 384,412.9 380,413.9 378,413.6 375.7,412 374,408.4 373.4,404 375,380 373.5,356 374,351.7ZM361.5,436 364,436 366,439.6 366,442.3 364,444.8 362,444.8 360.9,444 359.7,442 359.9,438ZM554.6,510 560,509.5 564,510.8 569.2,514 571.1,516 571.9,518 571.5,520 568.2,524 564,527.4 560,529.3 556,529.4 554,528.6 552,526.6 550.1,522 549.8,518 550.7,514 552,511.8ZM586.3,518 590,516.3 592,517 592.3,518 590,519.5 588,520ZM212,523.9 206.1,526 202.8,528 199.3,532 198.1,536 198.2,540 200.1,550 198.3,566 198.9,572 200,574.6 202,577.2 204,578.7 208,579.9 212,579.7 216,577.6 219.1,574 223.5,566 226,562.8 238,553.8 241.8,548 243.9,540 243.7,536 242,531.3 239.1,528 234,524.8 230,523.4 224,522.6 218,522.9ZM636.3,638 640,638.1 644,639.1 648,641.5 650,643.7 652,647.3 652.8,650 652.9,654 652,658 650,662.4 640.5,676 636,684.9 633,688 626,692.3 622.8,696 620.2,702 616.9,716 614.6,718 608,721.9 604.9,726 603.4,730 602.7,736 603.4,742 605.1,746 608,748.6 612,749.5 616,748.3 618,746.8 619.8,744 620.2,742 619.5,728 620,722 622,719.8 626,719.3 630,720.3 632.4,722 634.7,726 635.5,730 635,742 635.4,746 637.1,750 645.1,760 646.3,762 647.4,766 647.1,770 641.8,784 641.4,790 642.2,794 644,798.1 648,803.2 656,809.7 658,812.2 660,813.6 662,813.5 664,812.7 666,810.8 668,807.6 674,803.8 678,800.5 681.9,796 685.7,790 688.4,782 691.3,766 695.7,754 696.5,750 695.8,746 692.8,738 690,734.4 686,734.2 680,737.7 676,737.8 672,736.9 668,734.4 666.2,732 665.2,728 666,724.9 668,722.9 670,722.2 674,722.3 679.2,724 688,729.6 690,730.2 692,729.9 700.4,726 704,724.9 710,724.7 712.8,726 715.7,730 720,743.7 726.8,756 728.7,762 732,779.7 734,781.4 740,782.1 741.3,784 740.8,788 740,789.8 738,791.7 732,792.9 731.4,794 729.7,810 728,810.8 712,812.5 706,814.2 702,816 696,820.5 693.2,824 688,832.7 686,833.5 682,832.4 676,833 672,831.1 668.6,828 662,818.7 658,814.8 654,814.6 650,816.5 646,819.8 642.8,824 637.4,836 634.9,840 624.4,850 619.6,856 613.4,866 602,886.6 596,894.6 592,897.6 586,900.5 559.8,908 552,909.5 546,908.6 544,907.3 542,904 541.5,900 542.6,894 544.8,890 556.6,876 559.6,870 560.4,866 559.9,862 558,858 556,855.4 548.2,848 546.7,846 544.9,842 542.6,824 542.6,810 545.8,794 549.2,788 549.4,786 548.6,782 549.7,778 552.1,774 562.4,762 564.7,758 566.1,754 566.5,748 564.5,736 564.8,732 567.2,728 580,718.4 582.4,716 585.2,712 586.6,708 587.1,704 586.3,690 586.4,684 587.4,680 589.6,676 592,674 596,672.9 600,673.5 608,676.7 612,677.7 614,677.7 617.3,676 619.8,672 620.8,668 621.5,648 622.1,644 623.2,642 626,640 630,638.8ZM756,670 760,669.9 762,670.7 764,672 766.6,676 766.9,680 766.3,682 764.9,684 762,685.9 758,686.5 754,685.7 752,684.3 750.7,682 750.3,678 751.4,674 752.7,672ZM158,681 156.1,684 155.7,688 156.5,690 158,691 160,690.8 162,689.9 163.8,688 164.6,686 164.7,684 164,682 162,680.4 160,680.2ZM474.7,712 478,711 482,710.9 484.3,712 484.9,714 484.2,716 482,718.2 478,720 474,720.1 471.2,718 470.9,716 471.8,714ZM391.1,764 398,763.1 404,763.1 410,763.9 414,765.6 417.4,768 420.5,772 422,776 422.1,778 421.2,780 418.3,782 416,782.8 406,784.3 394,784 385.9,782 382.6,780 380.9,778 380.1,776 380.1,772 382,768.3 384,766.6ZM447.8,780 450,778.8 452,778.5 455.5,780 455.4,782 454,782.4 450.3,782ZM336.3,788 340,787.2 344,787 347.2,788 348.4,790 347.9,792 346,794.1 342,796 339,796 333.6,794 331.5,792 332.3,790ZM140,803.6 146,803.6 150,804.4 154,807.5 162,816 166,817.9 170,818.5 184,818.6 190.3,820 193.6,822 195.7,824 204,835.9 208,838.8 212,839.8 226,839.4 232,840.4 234,841.5 236.6,844 243.7,856 248,859.3 252,860.3 266,859.8 272,860.9 276.2,864 282.3,874 286,878 288,879.1 292,880.2 306,879.8 310,880.3 313.8,882 316,883.7 319.3,888 328.6,906 329.6,910 328.4,914 324,921 318.5,932 316,935.3 305,944 294,957.6 285.7,964 282,967.4 275.1,978 272,981.7 262.8,988 261,990 260,994 260,1002M632,811.1 631.2,812 631.2,814 632,814.9 634,815.1 635.2,814 635.2,812 634,810.9ZM568,815 564.4,818 564.3,822 566,824 568,825.3 570,825.3 572,824 573.7,822 573.7,818 572,816.1 570,815ZM384.4,820 388,818.4 390,818.3 392,819 394,820.8 396,825.4 396.3,830 395.5,834 393.3,838 392,839.3 390,840.2 388,840.1 384,837.9 379.8,834 377.4,830 377.2,828 377.9,826 380,823.4ZM634,821 633,822 633,824 634,825.2 636,825.5 637.7,824 637.5,822 636,820.7ZM379.9,868 386,867.9 390,870.4 397,878 406.7,886 408.2,888 408.7,890 407.8,892 404.6,894 386,901.5 382,902.6 378,902.7 374,902.1 370,900.6 366,898.1 362,893.6 357.2,886 355.2,882 354.7,878 355.7,876 360,873.3ZM485.7,900 488,899.5 490,900.1 492,901.8 494,905.8 494.4,908 494.3,912 493.1,916 492,918.2 490,920.4 488,921.3 486,921 484,919.3 482.4,916 481.6,912 481.6,908 482.6,904 484,901.3ZM704,917 702.1,918 701,920 702.1,922 704,923 706,922 707,920 706,918ZM448,952 450,952 451.3,954 452,958 450,966.5 448,969.9 446.4,968 445.9,964 446.5,956ZM840,950.4 830,949.9 826,947.8 822.4,944 814.6,934 812,931.9 802,926.3 799.1,924 791.2,912 789.1,910 786,908.3 782,907.4 776,907.7 770,910.4 764,910.8 760.6,914 760.2,916 760.6,918 762,919.7 764,921 766,921.2 770,919.8 772,919.7 790.2,930 794,933.4 803.3,944 818,956.6 830,968.8 834,969.8 840,969.9M369.9,1002 370.1,992 372.9,984 373.1,980 372.3,976 367.6,964 366.9,958 367.7,954 370.3,950 381.4,940 388,932.4 391,930 394,929.1 396,929.1 406,930.8 410,930.6 416,927.5 428,918.7 432,917.5 434,917.8 438,920.5 441,926 442.4,934 442.1,938 441.3,940 440,941.1 436,941.8 428,941 414,938.5 410,938.8 406,941.3 403.8,944 401.6,948 400.2,954 399.9,962 398.8,964 394.7,968 393.5,972 394.7,976 398,979.2 400,980 401.8,982 400.7,992 400.7,1002M449.8,1002 450,990 450.5,988 452,985.5 455.3,984 467.1,982 472,979.4 474,977.2 475.8,974 480.9,960 484,954.8 486.9,952 490,950.1 496,948.8 508,949.9 514.1,952 518,956 522,963.8 524,966.1 536,973.3 542.3,978 546,980 552.3,982 560,983 570,983.4 602,981.7 608,982.2 622,984.6 630,985.2 652,983.5 666,983 668,981 669.6,974 670.1,958 668.9,936 669.4,932 672.5,922 673,918 672.3,914 671.1,912 662,904.3 660.3,902 658.8,896 659.1,892 660.7,886 664,879.5 668,874.1 674,869.4 685.3,864 688.4,862 690.5,860 695.9,852 698,850.8 702,850.1 712,850.3 718,849.6 722,848.3 725.3,846 727.9,842 729.2,838 730.5,830 733.1,822 732.7,816 733.8,814 738,815 748,820.6 754,822.7 786,825.1 794,823.4 814,816.4 820,813.1 830,805.2 834,804.5 840,804.5M174.6,320 174.7,328 176,332.2 180,336.1 190.8,342 194.2,346 195.4,352 195.5,370 196.6,374 198,376.4 200,378.5 210,384.6 213.8,388 222,401.5 229.4,410 234,417.4 236,419.5 240,421.4 248,423.8 252,426 255.9,430 262,438.1 273.6,448 282,459.1 291.8,466 293.9,468 296.8,474 298.8,490 300,492.9 302,495.3 306,497.4 310,497.6 322,494.1 324,494.8 326,497.5 326.6,502 326,506 324.3,510 317.2,522 316.2,526 316.5,532 319.4,540 326,552.1 330,557.6 338,566 340.4,570 341.6,576 340.3,590 340.9,596 343.3,602 350,610.2 352.2,614 353.8,620 356.4,636 361.3,650 362.2,656 360.7,660 359.1,662 346.1,674 342,676.8 332,681.9 328,685.1 325.8,688 321.7,696 318.5,700 306,708.6 296,719.6 280.9,734 266,742.8 262.8,746 256,755.5 252,758.6 248,760.1 242,760.9 220,758.6 214,758.9 210,759.8 206,761.7 203.5,764 200.9,768 197.3,776 194.2,780 192,781.4 188,782.5 180,782.3 160,778 156,778.1 148,779.5 140,779.5M226,431.4 224.7,434 224.5,436 225.1,440 226,442.5 228,445.6 230,446.9 231,442 230.3,434 229.4,432 228,430.7ZM230,473.3 228,474.2 226.5,478 226,482 227.1,486 228,487.3 230,488.1 232,486.2 232.6,482 232,477.3ZM389.9,584 396,584.7 398.2,586 400,587.9 402.5,594 403.2,600 402,606 398.1,612 394,615.5 390,616.7 388,616.4 384,614.5 378.9,610 376.3,606 374.9,600 376.1,594 378,590.4 380,588.1 384,585.6ZM422.8,596 426,594.8 430,594.2 434,594.7 438,596.6 441,600 442.9,604 443.8,608 443.6,610 442.7,612 440,613.7 434,614 426,612.3 421.7,610 419.5,608 418.2,606 417.8,602 420,598.1ZM632.6,648 636,646.5 640,646.6 643,648 644.5,650 645,652 644.1,656 642,658.8 640,660.4 636,661.8 634,661.6 631.6,660 630,656.5 629.8,654 630.8,650ZM140,715.4 146,715.3 148,715 150,713.9 157,704 168,697 171.5,694 174.5,690 180,680.1 184,676.9 190,675.6 204,676.5 210,675.3 214,672 220,661.1 224,657.3 230,655.6 244,656.5 250,655.2 254,652 260,641.4 264,637.6 270,635.7 286,635.6 290,635 294,633.6 298,631.2 301.2,628 303.3,624 303.8,620 302.5,614 299.9,610 294.1,606 284,601.7 280,598.5 278,595.7 272,583.7 265.1,572 262.7,566 260.2,554 259.1,534 257.3,528 254.6,524 252.6,522 246,517.3 236,511.5 230,509.8 226,510.5 212,514.9 194,518.9 182,523.5 178,523.5 170,520.4 164,519.4 140,520M586.9,722 590,720.6 592,720.5 594,722.6 594.9,728 595.6,746 596.6,750 600,754.6 604,756.9 610,758 626,755.9 630,756.4 636,759.8 639.9,764 640.9,766 641.5,770 638.5,784 638.4,792 640.1,798 645.3,808 645.5,812 640,822.2 636,820.2 634,820.5 632.6,822 632.5,824 634,825.7 635.7,826 637.6,828 634,835.9 630.8,840 624,846.5 620,851.2 602,880 595.7,888 592,891.4 588.2,894 580,897.5 566,900.6 560,901.3 556,901 553.8,900 552.7,898 553,894 555.6,888 565.6,872 567.9,866 569.5,858 570.8,842 569.6,828 572,826.9 574,824.7 575.6,822 575.7,820 575.5,818 572,814.3 568,814.1 566,814.6 563,818 562.4,820 562.7,824 562,825.9 558,825.5 554,824.3 550,820.9 548,816.6 547.4,812 547.8,806 550,798.6 557.6,780 561.4,774 569.6,764 573,758 574.1,754 574.2,750 572.5,738 573.1,734 574,732 578,727.7ZM703.8,770 706,768.3 708.1,770 706,772.6 704,772.4ZM692.7,796 696,794.4 698,794.1 702,795.4 705.3,798 706.8,800 707.5,802 707.4,804 706.3,806 704,808 692.4,816 684,825.6 680,827.3 676,826.4 674,824.8 672,822 671.2,818 671.7,816 673,814 682,806.4 690,798.1ZM632,810.4 630.5,812 630.6,814 632,815.6 634,815.8 636.1,814 636,812 634,810.2ZM702,917.1 701.1,918 700.5,920 701.2,922 704,923.5 706,922.9 707,922 707.6,920 707,918 706,917 704,916.4ZM840,943.9 832,943.7 830,943.1 828,941.6 818.6,930 804.6,920 794.8,908 792,905.6 788,903.6 784,902.6 778,902.1 772,902.7 767.1,904 763.1,906 760,908.4 757,912 755.3,916 754.7,920 754.9,922 756,924 758.8,926 768.7,930 775,934 790.8,952 798,962.6 801.1,966 814,972.3 820,976 824.5,980 830,986.5 832,987.8 834,988.5 840,988.7M840,1000 840,1002M470.8,1002 471,994 472,992.5 474,991.5 482,990.3 484,989.5 486.1,980 488,974.5 490,971.2 492,969.3 494,968.5 496,968.6 498,970 500,973.6 502.4,980 503.8,982 506,983.4 512,984.7 530,985.3 562.2,990 568,992 570.1,994 570.5,1002M488.2,1002 488,994 486,993.8 485.9,1002M590.3,1002 590.4,996 591.4,994 600,992.8 608.4,994 609.7,996 609.8,1002M629.5,1002 629.6,996 630.3,994 634.1,992 642,991 648.1,992 649.3,994 649.5,1002M690.5,1002 690.6,994 691.1,992 692.8,990 698,987 700,985 701.2,982 701.2,976 700.2,974 698,972.6 688,969.2 684,966.7 680.2,962 678.6,958 676.9,950 676.5,940 677.1,934 680.1,920 679.5,914 678,910.8 675.7,908 665.1,900 663.7,898 662.4,894 662.5,890 663.6,886 668,878.4 670.3,876 674,873.4 680,871.1 688,870 706,869.9 715.2,868 730,860.1 734,857.2 737.7,852 741.6,842 744,839.4 749.1,838 768,837.3 788,834.7 794,833.3 800,830.7 820,819.3 830,809.2 834,808.1 840,808.1M730.5,1002 730.8,992 732,991 736,990.6 746,991.1 750.2,992 750.5,1002M770.5,1002 770.3,996 767.9,994 752,991.4 750.8,990 750.5,972 750,970.5 734,970.7 730.5,970 729.8,966 730,954 730.5,950 732,946.9 734.3,946 740,945.8 746,946.6 749.4,948 750.4,952 750.7,968 752,970 768,969.9 772,970.4 774,971.2 776,974.6 777.4,990 778,991.7 780,993.4 789.5,996 790.4,998 790.4,1002M810,1002 809.9,998 807.3,996 802,994.7 800,992.8 798,979.9 796,974.6 794,972.2 790,970.1 780,967.7 778,965.8 775.7,958 773.9,954 772.2,952 770,950.6 766,949.1 752.9,946 751.5,944 750.4,932 749.1,928 747.1,926 744,924.5 738,923.3 734,924.3 732,926.6 730.1,932 728.5,940 727.5,942 726,943.1 718,945.6 713.2,948 710,951.1 707.6,956 706.2,964 706.4,966 708,968.9 710,969.9 714,970.6 728,971.4 728.9,972 729.3,974 728.9,988 728,989.1 726,989.6 718,990.3 711.7,992 710.7,994 710.5,1002M162.7,320 162.4,328 160,330.4 158,330.3 156.1,328 155.8,320M178.7,510 180,509.7 182,510.2 183.9,512 184.4,514 183.9,516 182,517.9 180,518.4 178.3,518 176.1,516 175.6,514 176.1,512ZM298.5,538 302,537.2 306,538 310,541 312,543.5 314.6,548 316.8,554 318.2,560 318.7,566 318.5,570 317.1,576 313.7,584 310.3,590 306,594.2 302,595.8 298,596.2 294,595.8 290,594.6 286.1,592 284,589.8 280.2,584 276.4,576 274.5,570 274,566 274.2,562 275.1,558 276.8,554 280,549.3 286,544.2ZM140,724.3 148,724.1 152,722.6 154.6,720 159.8,712 162,709.6 166,706.8 174,702.4 178,699.1 184,689.9 188,685.8 190,684.7 194,683.8 210,684.4 216,682.7 220,678.9 224.6,670 228,666 230,664.7 234,663.6 250,664.3 256,662.7 260,658.7 266,648 268,646 272,644 278,643.4 292,644 306,640.2 310,639.9 312,640.4 316,643.5 322.2,654 330.2,664 330.6,666 330.3,668 329.2,670 321.7,678 315.4,690 312.3,694 301.9,702 292,713.9 284,721.3 275.8,730 272,732.7 264,736.9 260.1,740 253.6,750 250,753.4 246,755 242,755.4 226,753.1 218,752.9 210,753.7 204,755.3 200,757.8 198.2,760 192,772.5 190,774.5 186,776.3 182,776.7 178,776.2 160,770.9 156,771.1 148,773.5 140,773.6M607.5,766 620,764.2 626,764.3 631.1,766 634,768.8 635.4,774 634.8,786 635.3,794 639.6,810 638.1,814 637.8,818 634,819.8 632.1,822 632.1,824 634.3,828 631.4,834 618.7,848 604,870.4 596,880.9 588,888 582,891.4 574,893.8 568,893.8 564.7,892 563.8,890 563.9,888 565.3,884 577.3,864 580,860.6 586.9,854 590.3,848 591.2,842 589.9,828 590.3,814 589.7,810 588,806 586,803.8 582.2,802 578,801.4 572,801.6 562,804.3 560,804.1 559.9,800 562.5,790 564.9,784 567.4,780 570,777.2 574,774.4 580,772 598,767.7ZM632,809.4 629.8,812 630,814.2 632,816.6 634,817.1 637.2,816 638,814 637.9,812 636,810.1 634,809ZM840,822.6 832,822.4 829.8,820 830,818 832,815.2 834,814.6 840,814.5M679,876 684,875.8 696,877.4 712,877.8 720,878.8 723.9,880 727.2,882 729,884 730.6,888 730.2,892 728.7,896 717.7,912 716.9,916 717,926 715.2,932 712,935.9 704,943.6 696,955 694,956.5 692,957.2 690,957.1 688,956.2 686,954.2 683.6,948 683.3,944 683.7,938 687.3,920 687.2,916 686.1,912 683.7,908 681.7,906 669.6,898 667.7,896 666.1,892 666,889.9 667,886 670,881 674,877.7ZM704,915.3 702,916.1 700.1,918 699.5,920 700.2,922 702,923.8 704,924.4 706,923.9 708,922 709,920 708,917.8 706,916ZM840,938.8 834,938.8 830,937.6 822,927.5 808,917.2 805,914 798,904.6 795,902 792,900.3 784,898.1 772,897.4 764,898.4 752,901.7 747.7,902 744,900.7 741.1,898 738.8,894 738.1,890 739.1,886 740.5,884 742.8,882 746,880.3 752,878.5 770,875 776,872.7 780.1,870 781.7,868 782.4,864 779.5,854 779.6,850 782,846.6 786,844.3 792,843.3 798,844.4 800.2,846 805.3,854 807.1,856 810.1,858 814,859.4 822,860.1 826,859.1 832,856.7 840,856.5M293.9,556 298,555.3 300,555.6 302,556.8 303.6,560 304,564 302.9,572 301,578 298,582.5 296,583.9 294,584.4 292,584.2 290,583.3 286.8,580 284,574.3 283.3,570 283.7,566 286,561.5 290,557.8ZM239.8,744 242,742.5 244.2,744 242,745.1ZM178.2,762 180,761.5 182.6,762 184,764 182.9,766 180,766.5 178.7,766 177.2,764ZM614.8,774 620,772.6 624,772.9 626,773.7 628,775.6 629.2,778 630.1,782 631.2,796 632.9,806 631.8,808 630,809.4 628.6,812 628.6,814 630,816.3 632,818 632,820 630.7,822 630.9,826 630.4,828 626.5,834 616.6,844 608,856.9 594,873.8 586,879.9 582,881.4 580,881.2 579.3,880 579.6,878 582.5,872 585.5,868 593.5,860 596.6,854 604.1,826 603.2,804 605.7,788 608.3,780 611.6,776ZM677,882 682,881.7 694,884.5 706,884.4 710,884.9 712.9,886 715.4,888 716.5,890 716.6,894 714,898.8 708,903.8 702,906.4 698,906.7 696,906.1 686,900.4 676,896 672,892.7 671,890 671.8,886 674,883.5ZM840,933.3 834,933.2 832,932.9 830,931.6 824,923.5 814,916.7 810,913.2 807.5,910 802,900.7 798,897 792,894.4 772.8,890 770.1,888 770.7,886 777,882 804,871.5 814,870.2 840,870.6"/>
<g transform="translate(233.7 531.7) rotate(30)"><rect x="-9.3" y="-4.2" width="18.5" height="8.4" fill="#3c96ff"/><text y="3.8" font-size="10.5" text-anchor="middle" fill="#111">250</text></g>
<g transform="translate(318.7 565) rotate(60)"><rect x="-9.3" y="-4.2" width="18.5" height="8.4" fill="#1e5aff"/><text y="3.8" font-size="10.5" text-anchor="middle" fill="#111">400</text></g>
<g transform="translate(305 570.7) rotate(60)"><rect x="-9.3" y="-4.2" width="18.5" height="8.4" fill="#0a3cff"/><text y="3.8" font-size="10.5" text-anchor="middle" fill="#111">500</text></g>
<g transform="translate(279.5 574) rotate(70)"><rect x="-9.3" y="-4.2" width="18.5" height="8.4" fill="#0a3cff"/><text y="3.8" font-size="10.5" text-anchor="middle" fill="#111">400</text></g>
<g transform="translate(326 608.7) rotate(40)"><rect x="-9.3" y="-4.2" width="18.5" height="8.4" fill="#1e5aff"/><text y="3.8" font-size="10.5" text-anchor="middle" fill="#111">300</text></g>
<g transform="translate(400.5 602) rotate(-48)"><rect x="-9.3" y="-4.2" width="18.5" height="8.4" fill="#1e5aff"/><text y="3.8" font-size="10.5" text-anchor="middle" fill="#111">300</text></g>
<g transform="translate(355.5 631.5) rotate(-45)"><rect x="-9.3" y="-4.2" width="18.5" height="8.4" fill="#2878ff"/><text y="3.8" font-size="10.5" text-anchor="middle" fill="#111">250</text></g>
<g transform="translate(328.7 663.7) rotate(45)"><rect x="-9.3" y="-4.2" width="18.5" height="8.4" fill="#0a3cff"/><text y="3.8" font-size="10.5" text-anchor="middle" fill="#111">400</text></g>
<g transform="translate(501 372.5) rotate(75)"><rect x="-6.3" y="-4.2" width="12.7" height="8.4" fill="#fec8cb"/><text y="3.8" font-size="10.5" text-anchor="middle" fill="#111">60</text></g>
<g transform="translate(505 413) rotate(30)"><rect x="-6.3" y="-4.2" width="12.7" height="8.4" fill="#fbe8e8"/><text y="3.8" font-size="10.5" text-anchor="middle" fill="#111">80</text></g>
<g transform="translate(543 408) rotate(10)"><rect x="-6.3" y="-4.2" width="12.7" height="8.4" fill="#fc7d82"/><text y="3.8" font-size="10.5" text-anchor="middle" fill="#111">60</text></g>
<g transform="translate(566 411) rotate(25)"><rect x="-6.3" y="-4.2" width="12.7" height="8.4" fill="#fc7d82"/><text y="3.8" font-size="10.5" text-anchor="middle" fill="#111">50</text></g>
<g transform="translate(535 435.5) rotate(20)"><rect x="-6.3" y="-4.2" width="12.7" height="8.4" fill="#e6353a"/><text y="3.8" font-size="10.5" text-anchor="middle" fill="#111">40</text></g>
<g transform="translate(567 445) rotate(35)"><rect x="-6.3" y="-4.2" width="12.7" height="8.4" fill="#e6353a"/><text y="3.8" font-size="10.5" text-anchor="middle" fill="#111">40</text></g>
<g transform="translate(650.5 426) rotate(-70)"><rect x="-6.3" y="-4.2" width="12.7" height="8.4" fill="#e6353a"/><text y="3.8" font-size="10.5" text-anchor="middle" fill="#111">40</text></g>
<g transform="translate(619.5 455) rotate(-75)"><rect x="-6.3" y="-4.2" width="12.7" height="8.4" fill="#f05a5f"/><text y="3.8" font-size="10.5" text-anchor="middle" fill="#111">40</text></g>
<g transform="translate(482.5 427) rotate(60)"><rect x="-6.3" y="-4.2" width="12.7" height="8.4" fill="#fea0a5"/><text y="3.8" font-size="10.5" text-anchor="middle" fill="#111">60</text></g>
<g transform="translate(438.7 478) rotate(-10)"><rect x="-6.3" y="-4.2" width="12.7" height="8.4" fill="#fc7d82"/><text y="3.8" font-size="10.5" text-anchor="middle" fill="#111">50</text></g>
<g transform="translate(421 491) rotate(0)"><rect x="-6.3" y="-4.2" width="12.7" height="8.4" fill="#f05a5f"/><text y="3.8" font-size="10.5" text-anchor="middle" fill="#111">50</text></g>
<g transform="translate(454.5 502.5) rotate(-15)"><rect x="-6.3" y="-4.2" width="12.7" height="8.4" fill="#fc7d82"/><text y="3.8" font-size="10.5" text-anchor="middle" fill="#111">60</text></g>
<g transform="translate(476 498) rotate(-40)"><rect x="-6.3" y="-4.2" width="12.7" height="8.4" fill="#fec8cb"/><text y="3.8" font-size="10.5" text-anchor="middle" fill="#111">80</text></g>
<g transform="translate(568 492) rotate(0)"><rect x="-9.3" y="-4.2" width="18.5" height="8.4" fill="#daf0fd"/><text y="3.8" font-size="10.5" text-anchor="middle" fill="#111">100</text></g>
<g transform="translate(617.5 490.7) rotate(-15)"><rect x="-9.3" y="-4.2" width="18.5" height="8.4" fill="#daf0fd"/><text y="3.8" font-size="10.5" text-anchor="middle" fill="#111">120</text></g>
<g transform="translate(601 497.5) rotate(-10)"><rect x="-9.3" y="-4.2" width="18.5" height="8.4" fill="#a0dcff"/><text y="3.8" font-size="10.5" text-anchor="middle" fill="#111">130</text></g>
<g transform="translate(522.5 520) rotate(-20)"><rect x="-9.3" y="-4.2" width="18.5" height="8.4" fill="#ede8ee"/><text y="3.8" font-size="10.5" text-anchor="middle" fill="#111">110</text></g>
<g transform="translate(562 513) rotate(10)"><rect x="-9.3" y="-4.2" width="18.5" height="8.4" fill="#2878ff"/><text y="3.8" font-size="10.5" text-anchor="middle" fill="#111">200</text></g>
<g transform="translate(600 511) rotate(70)"><rect x="-9.3" y="-4.2" width="18.5" height="8.4" fill="#3c96ff"/><text y="3.8" font-size="10.5" text-anchor="middle" fill="#111">180</text></g>
<g transform="translate(587 530) rotate(-12)"><rect x="-9.3" y="-4.2" width="18.5" height="8.4" fill="#3c96ff"/><text y="3.8" font-size="10.5" text-anchor="middle" fill="#111">200</text></g>
<g transform="translate(554.7 534.5) rotate(30)"><rect x="-9.3" y="-4.2" width="18.5" height="8.4" fill="#3c96ff"/><text y="3.8" font-size="10.5" text-anchor="middle" fill="#111">180</text></g>
<g transform="translate(523 547) rotate(2)"><rect x="-9.3" y="-4.2" width="18.5" height="8.4" fill="#3c96ff"/><text y="3.8" font-size="10.5" text-anchor="middle" fill="#111">200</text></g>
<g transform="translate(531.5 558.5) rotate(-25)"><rect x="-9.3" y="-4.2" width="18.5" height="8.4" fill="#6ebeff"/><text y="3.8" font-size="10.5" text-anchor="middle" fill="#111">180</text></g>
<g transform="translate(491.5 570) rotate(80)"><rect x="-9.3" y="-4.2" width="18.5" height="8.4" fill="#50a5ff"/><text y="3.8" font-size="10.5" text-anchor="middle" fill="#111">180</text></g>
<g transform="translate(495.3 592.5) rotate(-12)"><rect x="-9.3" y="-4.2" width="18.5" height="8.4" fill="#a0dcff"/><text y="3.8" font-size="10.5" text-anchor="middle" fill="#111">160</text></g>
<g transform="translate(529 577.7) rotate(0)"><rect x="-6.3" y="-4.2" width="12.7" height="8.4" fill="#e4ecf5"/><text y="3.8" font-size="10.5" text-anchor="middle" fill="#111">80</text></g>
<g transform="translate(573.5 590.5) rotate(-25)"><rect x="-6.3" y="-4.2" width="12.7" height="8.4" fill="#fec8cb"/><text y="3.8" font-size="10.5" text-anchor="middle" fill="#111">80</text></g>
<g transform="translate(597.5 597) rotate(-48)"><rect x="-6.3" y="-4.2" width="12.7" height="8.4" fill="#fec8cb"/><text y="3.8" font-size="10.5" text-anchor="middle" fill="#111">80</text></g>
<g transform="translate(630.5 557.7) rotate(-20)"><rect x="-9.3" y="-4.2" width="18.5" height="8.4" fill="#50a5ff"/><text y="3.8" font-size="10.5" text-anchor="middle" fill="#111">180</text></g>
<g transform="translate(659.5 561) rotate(-35)"><rect x="-9.3" y="-4.2" width="18.5" height="8.4" fill="#50a5ff"/><text y="3.8" font-size="10.5" text-anchor="middle" fill="#111">180</text></g>
<g transform="translate(660 572) rotate(-15)"><rect x="-9.3" y="-4.2" width="18.5" height="8.4" fill="#a0dcff"/><text y="3.8" font-size="10.5" text-anchor="middle" fill="#111">140</text></g>
<g transform="translate(651.3 596) rotate(0)"><rect x="-9.3" y="-4.2" width="18.5" height="8.4" fill="#bee6ff"/><text y="3.8" font-size="10.5" text-anchor="middle" fill="#111">110</text></g>
<g transform="translate(683 600) rotate(-55)"><rect x="-9.3" y="-4.2" width="18.5" height="8.4" fill="#ede8ee"/><text y="3.8" font-size="10.5" text-anchor="middle" fill="#111">100</text></g>
<g transform="translate(505.5 607.5) rotate(70)"><rect x="-6.3" y="-4.2" width="12.7" height="8.4" fill="#e4ecf5"/><text y="3.8" font-size="10.5" text-anchor="middle" fill="#111">90</text></g>
<g transform="translate(526.7 618) rotate(42)"><rect x="-9.3" y="-4.2" width="18.5" height="8.4" fill="#ede8ee"/><text y="3.8" font-size="10.5" text-anchor="middle" fill="#111">100</text></g>
<g transform="translate(545.5 647) rotate(-55)"><rect x="-6.3" y="-4.2" width="12.7" height="8.4" fill="#ede8ee"/><text y="3.8" font-size="10.5" text-anchor="middle" fill="#111">90</text></g>
<g transform="translate(522.5 664.7) rotate(-5)"><rect x="-6.3" y="-4.2" width="12.7" height="8.4" fill="#fbe8e8"/><text y="3.8" font-size="10.5" text-anchor="middle" fill="#111">90</text></g>
<g transform="translate(448 662.5) rotate(48)"><rect x="-9.3" y="-4.2" width="18.5" height="8.4" fill="#82d2ff"/><text y="3.8" font-size="10.5" text-anchor="middle" fill="#111">140</text></g>
<g transform="translate(481 692.5) rotate(52)"><rect x="-9.3" y="-4.2" width="18.5" height="8.4" fill="#a0dcff"/><text y="3.8" font-size="10.5" text-anchor="middle" fill="#111">130</text></g>
<g transform="translate(411.3 700) rotate(-33)"><rect x="-9.3" y="-4.2" width="18.5" height="8.4" fill="#6ebeff"/><text y="3.8" font-size="10.5" text-anchor="middle" fill="#111">140</text></g>
<g transform="translate(417.7 708.5) rotate(-30)"><rect x="-9.3" y="-4.2" width="18.5" height="8.4" fill="#50a5ff"/><text y="3.8" font-size="10.5" text-anchor="middle" fill="#111">180</text></g>
<g transform="translate(494 720) rotate(-55)"><rect x="-9.3" y="-4.2" width="18.5" height="8.4" fill="#50a5ff"/><text y="3.8" font-size="10.5" text-anchor="middle" fill="#111">200</text></g>
<g transform="translate(454.5 728) rotate(-50)"><rect x="-9.3" y="-4.2" width="18.5" height="8.4" fill="#6ebeff"/><text y="3.8" font-size="10.5" text-anchor="middle" fill="#111">160</text></g>
<g transform="translate(464 745.5) rotate(45)"><rect x="-9.3" y="-4.2" width="18.5" height="8.4" fill="#6ebeff"/><text y="3.8" font-size="10.5" text-anchor="middle" fill="#111">160</text></g>
<g transform="translate(520.5 742) rotate(-35)"><rect x="-9.3" y="-4.2" width="18.5" height="8.4" fill="#6ebeff"/><text y="3.8" font-size="10.5" text-anchor="middle" fill="#111">160</text></g>
<g transform="translate(540 749) rotate(0)"><rect x="-9.3" y="-4.2" width="18.5" height="8.4" fill="#6ebeff"/><text y="3.8" font-size="10.5" text-anchor="middle" fill="#111">160</text></g>
<g transform="translate(560 769.5) rotate(-60)"><rect x="-9.3" y="-4.2" width="18.5" height="8.4" fill="#2878ff"/><text y="3.8" font-size="10.5" text-anchor="middle" fill="#111">250</text></g>
<g transform="translate(455.5 772.5) rotate(42)"><rect x="-9.3" y="-4.2" width="18.5" height="8.4" fill="#3c96ff"/><text y="3.8" font-size="10.5" text-anchor="middle" fill="#111">200</text></g>
<g transform="translate(415 781.5) rotate(-65)"><rect x="-9.3" y="-4.2" width="18.5" height="8.4" fill="#2878ff"/><text y="3.8" font-size="10.5" text-anchor="middle" fill="#111">250</text></g>
<g transform="translate(544 789) rotate(-50)"><rect x="-9.3" y="-4.2" width="18.5" height="8.4" fill="#50a5ff"/><text y="3.8" font-size="10.5" text-anchor="middle" fill="#111">200</text></g>
<g transform="translate(599 778.5) rotate(-5)"><rect x="-9.3" y="-4.2" width="18.5" height="8.4" fill="#0a3cff"/><text y="3.8" font-size="10.5" text-anchor="middle" fill="#111">400</text></g>
<g transform="translate(623 634) rotate(-60)"><rect x="-9.3" y="-4.2" width="18.5" height="8.4" fill="#3c96ff"/><text y="3.8" font-size="10.5" text-anchor="middle" fill="#111">180</text></g>
<g transform="translate(650 615.5) rotate(-62)"><rect x="-9.3" y="-4.2" width="18.5" height="8.4" fill="#6ebeff"/><text y="3.8" font-size="10.5" text-anchor="middle" fill="#111">160</text></g>
<g transform="translate(670.5 678.5) rotate(55)"><rect x="-9.3" y="-4.2" width="18.5" height="8.4" fill="#82d2ff"/><text y="3.8" font-size="10.5" text-anchor="middle" fill="#111">140</text></g>
<g transform="translate(644 748) rotate(78)"><rect x="-9.3" y="-4.2" width="18.5" height="8.4" fill="#3c96ff"/><text y="3.8" font-size="10.5" text-anchor="middle" fill="#111">200</text></g>
<g transform="translate(650 785) rotate(75)"><rect x="-9.3" y="-4.2" width="18.5" height="8.4" fill="#6ebeff"/><text y="3.8" font-size="10.5" text-anchor="middle" fill="#111">250</text></g>
<g transform="translate(572.7 810) rotate(52)"><rect x="-9.3" y="-4.2" width="18.5" height="8.4" fill="#1e5aff"/><text y="3.8" font-size="10.5" text-anchor="middle" fill="#111">300</text></g>
<g transform="translate(641 806) rotate(75)"><rect x="-9.3" y="-4.2" width="18.5" height="8.4" fill="#1e5aff"/><text y="3.8" font-size="10.5" text-anchor="middle" fill="#111">300</text></g>
<g transform="translate(513.5 804) rotate(-5)"><rect x="-9.3" y="-4.2" width="18.5" height="8.4" fill="#a0dcff"/><text y="3.8" font-size="10.5" text-anchor="middle" fill="#111">140</text></g>
<g transform="translate(479 802.5) rotate(70)"><rect x="-9.3" y="-4.2" width="18.5" height="8.4" fill="#6ebeff"/><text y="3.8" font-size="10.5" text-anchor="middle" fill="#111">160</text></g>
<g transform="translate(443.5 809.5) rotate(0)"><rect x="-9.3" y="-4.2" width="18.5" height="8.4" fill="#6ebeff"/><text y="3.8" font-size="10.5" text-anchor="middle" fill="#111">160</text></g>
<g transform="translate(504 814) rotate(50)"><rect x="-9.3" y="-4.2" width="18.5" height="8.4" fill="#a0dcff"/><text y="3.8" font-size="10.5" text-anchor="middle" fill="#111">140</text></g>
<g transform="translate(605.3 834.5) rotate(-50)"><rect x="-9.3" y="-4.2" width="18.5" height="8.4" fill="#0a28c8"/><text y="3.8" font-size="10.5" text-anchor="middle" fill="#111">500</text></g>
<g transform="translate(627.7 830.5) rotate(-60)"><rect x="-9.3" y="-4.2" width="18.5" height="8.4" fill="#0a28c8"/><text y="3.8" font-size="10.5" text-anchor="middle" fill="#111">500</text></g>
<g transform="translate(615 865) rotate(-57)"><rect x="-9.3" y="-4.2" width="18.5" height="8.4" fill="#3c96ff"/><text y="3.8" font-size="10.5" text-anchor="middle" fill="#111">400</text></g>
<g transform="translate(610.5 884.5) rotate(-30)"><rect x="-9.3" y="-4.2" width="18.5" height="8.4" fill="#6ebeff"/><text y="3.8" font-size="10.5" text-anchor="middle" fill="#111">160</text></g>
<g transform="translate(582.7 901) rotate(-12)"><rect x="-9.3" y="-4.2" width="18.5" height="8.4" fill="#2878ff"/><text y="3.8" font-size="10.5" text-anchor="middle" fill="#111">180</text></g>
<g transform="translate(572.3 927) rotate(72)"><rect x="-9.3" y="-4.2" width="18.5" height="8.4" fill="#6ebeff"/><text y="3.8" font-size="10.5" text-anchor="middle" fill="#111">160</text></g>
<g transform="translate(555.5 960) rotate(50)"><rect x="-9.3" y="-4.2" width="18.5" height="8.4" fill="#3c96ff"/><text y="3.8" font-size="10.5" text-anchor="middle" fill="#111">200</text></g>
<g transform="translate(690 776) rotate(-30)"><rect x="-9.3" y="-4.2" width="18.5" height="8.4" fill="#2878ff"/><text y="3.8" font-size="10.5" text-anchor="middle" fill="#111">250</text></g>
<g transform="translate(718 766) rotate(-60)"><rect x="-9.3" y="-4.2" width="18.5" height="8.4" fill="#2878ff"/><text y="3.8" font-size="10.5" text-anchor="middle" fill="#111">300</text></g>
<g transform="translate(749 774.5) rotate(-5)"><rect x="-9.3" y="-4.2" width="18.5" height="8.4" fill="#3c96ff"/><text y="3.8" font-size="10.5" text-anchor="middle" fill="#111">250</text></g>
<g transform="translate(701 807.5) rotate(-40)"><rect x="-9.3" y="-4.2" width="18.5" height="8.4" fill="#1e5aff"/><text y="3.8" font-size="10.5" text-anchor="middle" fill="#111">300</text></g>
<g transform="translate(692.5 885) rotate(-10)"><rect x="-9.3" y="-4.2" width="18.5" height="8.4" fill="#0a28c8"/><text y="3.8" font-size="10.5" text-anchor="middle" fill="#111">500</text></g>
<g transform="translate(682.5 900) rotate(40)"><rect x="-9.3" y="-4.2" width="18.5" height="8.4" fill="#0a3cff"/><text y="3.8" font-size="10.5" text-anchor="middle" fill="#111">500</text></g>
<g transform="translate(720.5 895) rotate(-65)"><rect x="-9.3" y="-4.2" width="18.5" height="8.4" fill="#0a3cff"/><text y="3.8" font-size="10.5" text-anchor="middle" fill="#111">400</text></g>
<g transform="translate(661 899) rotate(25)"><rect x="-9.3" y="-4.2" width="18.5" height="8.4" fill="#2878ff"/><text y="3.8" font-size="10.5" text-anchor="middle" fill="#111">250</text></g>
<g transform="translate(750 880.5) rotate(-30)"><rect x="-9.3" y="-4.2" width="18.5" height="8.4" fill="#0a3cff"/><text y="3.8" font-size="10.5" text-anchor="middle" fill="#111">400</text></g>
<g transform="translate(777.5 894) rotate(35)"><rect x="-9.3" y="-4.2" width="18.5" height="8.4" fill="#0a3cff"/><text y="3.8" font-size="10.5" text-anchor="middle" fill="#111">500</text></g>
<g transform="translate(461 848.5) rotate(-5)"><rect x="-9.3" y="-4.2" width="18.5" height="8.4" fill="#a0dcff"/><text y="3.8" font-size="10.5" text-anchor="middle" fill="#111">120</text></g>
<g transform="translate(495 855.5) rotate(0)"><rect x="-9.3" y="-4.2" width="18.5" height="8.4" fill="#50a5ff"/><text y="3.8" font-size="10.5" text-anchor="middle" fill="#111">160</text></g>
<g transform="translate(505 852) rotate(70)"><rect x="-9.3" y="-4.2" width="18.5" height="8.4" fill="#50a5ff"/><text y="3.8" font-size="10.5" text-anchor="middle" fill="#111">180</text></g>
<g transform="translate(393.5 883.5) rotate(70)"><rect x="-9.3" y="-4.2" width="18.5" height="8.4" fill="#2878ff"/><text y="3.8" font-size="10.5" text-anchor="middle" fill="#111">250</text></g>
<g transform="translate(421 895) rotate(45)"><rect x="-9.3" y="-4.2" width="18.5" height="8.4" fill="#3c96ff"/><text y="3.8" font-size="10.5" text-anchor="middle" fill="#111">250</text></g>
<g transform="translate(474 897) rotate(72)"><rect x="-9.3" y="-4.2" width="18.5" height="8.4" fill="#3c96ff"/><text y="3.8" font-size="10.5" text-anchor="middle" fill="#111">200</text></g>
<g transform="translate(500.5 886) rotate(-65)"><rect x="-9.3" y="-4.2" width="18.5" height="8.4" fill="#3c96ff"/><text y="3.8" font-size="10.5" text-anchor="middle" fill="#111">200</text></g>
<g transform="translate(501.5 908.5) rotate(-80)"><rect x="-9.3" y="-4.2" width="18.5" height="8.4" fill="#50a5ff"/><text y="3.8" font-size="10.5" text-anchor="middle" fill="#111">180</text></g>
<g transform="translate(529.5 903.5) rotate(-60)"><rect x="-9.3" y="-4.2" width="18.5" height="8.4" fill="#50a5ff"/><text y="3.8" font-size="10.5" text-anchor="middle" fill="#111">180</text></g>
<g transform="translate(433 867) rotate(-35)"><rect x="-9.3" y="-4.2" width="18.5" height="8.4" fill="#a0dcff"/><text y="3.8" font-size="10.5" text-anchor="middle" fill="#111">130</text></g>
<g transform="translate(410 912) rotate(60)"><rect x="-9.3" y="-4.2" width="18.5" height="8.4" fill="#50a5ff"/><text y="3.8" font-size="10.5" text-anchor="middle" fill="#111">200</text></g>
<g transform="translate(390.5 934.5) rotate(-5)"><rect x="-9.3" y="-4.2" width="18.5" height="8.4" fill="#2878ff"/><text y="3.8" font-size="10.5" text-anchor="middle" fill="#111">250</text></g>
<g transform="translate(421.7 945) rotate(-20)"><rect x="-9.3" y="-4.2" width="18.5" height="8.4" fill="#3c96ff"/><text y="3.8" font-size="10.5" text-anchor="middle" fill="#111">250</text></g>
<g transform="translate(488.5 961) rotate(-40)"><rect x="-9.3" y="-4.2" width="18.5" height="8.4" fill="#2878ff"/><text y="3.8" font-size="10.5" text-anchor="middle" fill="#111">300</text></g>
<g transform="translate(502.5 849) rotate(70)"><rect x="-9.3" y="-4.2" width="18.5" height="8.4" fill="#50a5ff"/><text y="3.8" font-size="10.5" text-anchor="middle" fill="#111">180</text></g>
<g transform="translate(702.5 472.5) rotate(65)"><rect x="-9.3" y="-4.2" width="18.5" height="8.4" fill="#50a5ff"/><text y="3.8" font-size="10.5" text-anchor="middle" fill="#111">180</text></g>
<g transform="translate(716.7 476.7) rotate(15)"><rect x="-9.3" y="-4.2" width="18.5" height="8.4" fill="#6ebeff"/><text y="3.8" font-size="10.5" text-anchor="middle" fill="#111">160</text></g>
<g transform="translate(730 463) rotate(-70)"><rect x="-9.3" y="-4.2" width="18.5" height="8.4" fill="#82d2ff"/><text y="3.8" font-size="10.5" text-anchor="middle" fill="#111">140</text></g>
<g transform="translate(776 495) rotate(5)"><rect x="-6.3" y="-4.2" width="12.7" height="8.4" fill="#fbe8e8"/><text y="3.8" font-size="10.5" text-anchor="middle" fill="#111">80</text></g>
<g transform="translate(785 514) rotate(55)"><rect x="-9.3" y="-4.2" width="18.5" height="8.4" fill="#daf0fd"/><text y="3.8" font-size="10.5" text-anchor="middle" fill="#111">110</text></g>
<g transform="translate(756.7 548) rotate(35)"><rect x="-9.3" y="-4.2" width="18.5" height="8.4" fill="#6ebeff"/><text y="3.8" font-size="10.5" text-anchor="middle" fill="#111">180</text></g>
<g transform="translate(746.5 575) rotate(-30)"><rect x="-9.3" y="-4.2" width="18.5" height="8.4" fill="#6ebeff"/><text y="3.8" font-size="10.5" text-anchor="middle" fill="#111">160</text></g>
<g transform="translate(719 592.7) rotate(-57)"><rect x="-6.3" y="-4.2" width="12.7" height="8.4" fill="#ede8ee"/><text y="3.8" font-size="10.5" text-anchor="middle" fill="#111">90</text></g>
<g transform="translate(722 603.5) rotate(-62)"><rect x="-9.3" y="-4.2" width="18.5" height="8.4" fill="#e4ecf5"/><text y="3.8" font-size="10.5" text-anchor="middle" fill="#111">100</text></g>
<g transform="translate(702.7 631) rotate(-60)"><rect x="-9.3" y="-4.2" width="18.5" height="8.4" fill="#e4ecf5"/><text y="3.8" font-size="10.5" text-anchor="middle" fill="#111">110</text></g>
<g transform="translate(736 606) rotate(-75)"><rect x="-9.3" y="-4.2" width="18.5" height="8.4" fill="#6ebeff"/><text y="3.8" font-size="10.5" text-anchor="middle" fill="#111">180</text></g>
<g transform="translate(753 690) rotate(-50)"><rect x="-9.3" y="-4.2" width="18.5" height="8.4" fill="#3c96ff"/><text y="3.8" font-size="10.5" text-anchor="middle" fill="#111">200</text></g>
<g transform="translate(480 633) rotate(0)"><rect x="-9.3" y="-4.2" width="18.5" height="8.4" fill="#82d2ff"/><text y="3.8" font-size="10.5" text-anchor="middle" fill="#111">160</text></g>
<g transform="translate(495.3 636.3) rotate(39)"><text y="3.8" font-size="10.5" text-anchor="middle" fill="#111">100</text></g>
<g transform="translate(499.7 635.8) rotate(43)"><text y="3.8" font-size="10.5" text-anchor="middle" fill="#111">130</text></g>
<g transform="translate(494.2 632.9) rotate(41)"><text y="3.8" font-size="10.5" text-anchor="middle" fill="#111">160</text></g>
<g transform="translate(495.5 634.3) rotate(45)"><text y="3.8" font-size="10.5" text-anchor="middle" fill="#111">120</text></g>
<g transform="translate(496.8 638.2) rotate(41)"><text y="3.8" font-size="10.5" text-anchor="middle" fill="#111">180</text></g>
<g transform="translate(496.3 638.3) rotate(37)"><text y="3.8" font-size="10.5" text-anchor="middle" fill="#111">140</text></g>
<g transform="translate(497.9 638.4) rotate(42)"><text y="3.8" font-size="10.5" text-anchor="middle" fill="#111">110</text></g>
<g transform="translate(579.3 596.9) rotate(11)"><text y="3.8" font-size="10.5" text-anchor="middle" fill="#111">100</text></g>
<g transform="translate(577.2 601.7) rotate(8)"><text y="3.8" font-size="10.5" text-anchor="middle" fill="#111">130</text></g>
<g transform="translate(577.1 601.8) rotate(3)"><text y="3.8" font-size="10.5" text-anchor="middle" fill="#111">160</text></g>
<g transform="translate(579.8 601.4) rotate(5)"><text y="3.8" font-size="10.5" text-anchor="middle" fill="#111">120</text></g>
<g transform="translate(581.4 602.7) rotate(5)"><text y="3.8" font-size="10.5" text-anchor="middle" fill="#111">180</text></g>
<g transform="translate(581.5 600.5) rotate(1)"><text y="3.8" font-size="10.5" text-anchor="middle" fill="#111">140</text></g>
<g transform="translate(582.4 597.4) rotate(1)"><text y="3.8" font-size="10.5" text-anchor="middle" fill="#111">110</text></g>
<g transform="translate(588 619.5) rotate(-16)"><text y="3.8" font-size="10.5" text-anchor="middle" fill="#111">100</text></g>
<g transform="translate(587.6 621.8) rotate(-22)"><text y="3.8" font-size="10.5" text-anchor="middle" fill="#111">130</text></g>
<g transform="translate(587.5 623.1) rotate(-17)"><text y="3.8" font-size="10.5" text-anchor="middle" fill="#111">160</text></g>
<g transform="translate(587 621.5) rotate(-17)"><text y="3.8" font-size="10.5" text-anchor="middle" fill="#111">120</text></g>
<g transform="translate(586.3 620) rotate(-26)"><text y="3.8" font-size="10.5" text-anchor="middle" fill="#111">180</text></g>
<g transform="translate(590.3 624.1) rotate(-16)"><text y="3.8" font-size="10.5" text-anchor="middle" fill="#111">140</text></g>
<g transform="translate(589.3 622.3) rotate(-21)"><text y="3.8" font-size="10.5" text-anchor="middle" fill="#111">110</text></g>
<g transform="translate(506 508.6) rotate(-7)"><text y="3.8" font-size="10.5" text-anchor="middle" fill="#111">100</text></g>
<g transform="translate(500.5 507) rotate(-6)"><text y="3.8" font-size="10.5" text-anchor="middle" fill="#111">130</text></g>
<g transform="translate(505.1 506.5) rotate(-12)"><text y="3.8" font-size="10.5" text-anchor="middle" fill="#111">160</text></g>
<g transform="translate(500.6 505.9) rotate(-6)"><text y="3.8" font-size="10.5" text-anchor="middle" fill="#111">120</text></g>
<g transform="translate(506.1 503.4) rotate(-4)"><text y="3.8" font-size="10.5" text-anchor="middle" fill="#111">180</text></g>
<g transform="translate(500.2 508.5) rotate(-16)"><text y="3.8" font-size="10.5" text-anchor="middle" fill="#111">140</text></g>
<g transform="translate(501.7 507.7) rotate(-15)"><text y="3.8" font-size="10.5" text-anchor="middle" fill="#111">110</text></g>
<g transform="translate(675.1 477.7) rotate(54)"><text y="3.8" font-size="10.5" text-anchor="middle" fill="#111">100</text></g>
<g transform="translate(677.2 477.6) rotate(62)"><text y="3.8" font-size="10.5" text-anchor="middle" fill="#111">130</text></g>
<g transform="translate(680.4 480.1) rotate(62)"><text y="3.8" font-size="10.5" text-anchor="middle" fill="#111">160</text></g>
<g transform="translate(676.3 474) rotate(54)"><text y="3.8" font-size="10.5" text-anchor="middle" fill="#111">120</text></g>
<g transform="translate(675.3 477.6) rotate(54)"><text y="3.8" font-size="10.5" text-anchor="middle" fill="#111">180</text></g>
<g transform="translate(680.9 480) rotate(58)"><text y="3.8" font-size="10.5" text-anchor="middle" fill="#111">140</text></g>
<g transform="translate(678.7 474.8) rotate(54)"><text y="3.8" font-size="10.5" text-anchor="middle" fill="#111">110</text></g>
<g transform="translate(669.1 764) rotate(54)"><text y="3.8" font-size="10.5" text-anchor="middle" fill="#111">100</text></g>
<g transform="translate(668.9 767.5) rotate(55)"><text y="3.8" font-size="10.5" text-anchor="middle" fill="#111">130</text></g>
<g transform="translate(665.2 767.4) rotate(55)"><text y="3.8" font-size="10.5" text-anchor="middle" fill="#111">160</text></g>
<g transform="translate(666.9 765.6) rotate(57)"><text y="3.8" font-size="10.5" text-anchor="middle" fill="#111">120</text></g>
<g transform="translate(663.5 768) rotate(61)"><text y="3.8" font-size="10.5" text-anchor="middle" fill="#111">180</text></g>
<g transform="translate(666 764.6) rotate(60)"><text y="3.8" font-size="10.5" text-anchor="middle" fill="#111">140</text></g>
<g transform="translate(667.4 767.8) rotate(55)"><text y="3.8" font-size="10.5" text-anchor="middle" fill="#111">110</text></g>
<g transform="translate(629.1 873.1) rotate(52)"><text y="3.8" font-size="10.5" text-anchor="middle" fill="#111">100</text></g>
<g transform="translate(625 874.8) rotate(53)"><text y="3.8" font-size="10.5" text-anchor="middle" fill="#111">130</text></g>
<g transform="translate(624.8 872.2) rotate(53)"><text y="3.8" font-size="10.5" text-anchor="middle" fill="#111">160</text></g>
<g transform="translate(626.8 870.2) rotate(54)"><text y="3.8" font-size="10.5" text-anchor="middle" fill="#111">120</text></g>
<g transform="translate(624.9 872.1) rotate(49)"><text y="3.8" font-size="10.5" text-anchor="middle" fill="#111">180</text></g>
<g transform="translate(626.7 871.6) rotate(51)"><text y="3.8" font-size="10.5" text-anchor="middle" fill="#111">140</text></g>
<g transform="translate(622.9 870.2) rotate(54)"><text y="3.8" font-size="10.5" text-anchor="middle" fill="#111">110</text></g>
<g transform="translate(642.9 878.2) rotate(59)"><text y="3.8" font-size="10.5" text-anchor="middle" fill="#111">100</text></g>
<g transform="translate(645.7 879.6) rotate(54)"><text y="3.8" font-size="10.5" text-anchor="middle" fill="#111">130</text></g>
<g transform="translate(643.9 877) rotate(61)"><text y="3.8" font-size="10.5" text-anchor="middle" fill="#111">160</text></g>
<g transform="translate(645.2 879.6) rotate(53)"><text y="3.8" font-size="10.5" text-anchor="middle" fill="#111">120</text></g>
<g transform="translate(647.8 876.5) rotate(49)"><text y="3.8" font-size="10.5" text-anchor="middle" fill="#111">180</text></g>
<g transform="translate(649 880.2) rotate(51)"><text y="3.8" font-size="10.5" text-anchor="middle" fill="#111">140</text></g>
<g transform="translate(644.8 877.2) rotate(61)"><text y="3.8" font-size="10.5" text-anchor="middle" fill="#111">110</text></g>
<g transform="translate(662.5 873.9) rotate(44)"><text y="3.8" font-size="10.5" text-anchor="middle" fill="#111">100</text></g>
<g transform="translate(663.6 876.3) rotate(35)"><text y="3.8" font-size="10.5" text-anchor="middle" fill="#111">130</text></g>
<g transform="translate(664.6 877.9) rotate(44)"><text y="3.8" font-size="10.5" text-anchor="middle" fill="#111">160</text></g>
<g transform="translate(666.1 874.6) rotate(36)"><text y="3.8" font-size="10.5" text-anchor="middle" fill="#111">120</text></g>
<g transform="translate(661.3 876.5) rotate(37)"><text y="3.8" font-size="10.5" text-anchor="middle" fill="#111">180</text></g>
<g transform="translate(666.5 874.7) rotate(37)"><text y="3.8" font-size="10.5" text-anchor="middle" fill="#111">140</text></g>
<g transform="translate(665.8 872) rotate(37)"><text y="3.8" font-size="10.5" text-anchor="middle" fill="#111">110</text></g>
<g transform="translate(719.8 822.2) rotate(83)"><text y="3.8" font-size="10.5" text-anchor="middle" fill="#111">100</text></g>
<g transform="translate(719 818.6) rotate(86)"><text y="3.8" font-size="10.5" text-anchor="middle" fill="#111">130</text></g>
<g transform="translate(723.1 817.3) rotate(83)"><text y="3.8" font-size="10.5" text-anchor="middle" fill="#111">160</text></g>
<g transform="translate(720 817.6) rotate(78)"><text y="3.8" font-size="10.5" text-anchor="middle" fill="#111">120</text></g>
<g transform="translate(721.1 822.2) rotate(81)"><text y="3.8" font-size="10.5" text-anchor="middle" fill="#111">180</text></g>
<g transform="translate(720 819.5) rotate(80)"><text y="3.8" font-size="10.5" text-anchor="middle" fill="#111">140</text></g>
<g transform="translate(721.4 817) rotate(80)"><text y="3.8" font-size="10.5" text-anchor="middle" fill="#111">110</text></g>
<g transform="translate(805.8 488.8) rotate(-27)"><text y="3.8" font-size="10.5" text-anchor="middle" fill="#111">100</text></g>
<g transform="translate(811.1 491.6) rotate(-25)"><text y="3.8" font-size="10.5" text-anchor="middle" fill="#111">130</text></g>
<g transform="translate(806.2 493.6) rotate(-24)"><text y="3.8" font-size="10.5" text-anchor="middle" fill="#111">160</text></g>
<g transform="translate(809 492.1) rotate(-32)"><text y="3.8" font-size="10.5" text-anchor="middle" fill="#111">120</text></g>
<g transform="translate(808.3 494.5) rotate(-35)"><text y="3.8" font-size="10.5" text-anchor="middle" fill="#111">180</text></g>
<g transform="translate(810.3 495) rotate(-35)"><text y="3.8" font-size="10.5" text-anchor="middle" fill="#111">140</text></g>
<g transform="translate(810 489.1) rotate(-24)"><text y="3.8" font-size="10.5" text-anchor="middle" fill="#111">110</text></g>
<g transform="translate(762.2 477.7) rotate(70)"><text y="3.8" font-size="10.5" text-anchor="middle" fill="#111">100</text></g>
<g transform="translate(761.5 471.9) rotate(75)"><text y="3.8" font-size="10.5" text-anchor="middle" fill="#111">130</text></g>
<g transform="translate(758.6 475) rotate(67)"><text y="3.8" font-size="10.5" text-anchor="middle" fill="#111">160</text></g>
<g transform="translate(762 475.2) rotate(70)"><text y="3.8" font-size="10.5" text-anchor="middle" fill="#111">120</text></g>
<g transform="translate(758.1 477.6) rotate(65)"><text y="3.8" font-size="10.5" text-anchor="middle" fill="#111">180</text></g>
<g transform="translate(760 473.4) rotate(72)"><text y="3.8" font-size="10.5" text-anchor="middle" fill="#111">140</text></g>
<g transform="translate(760.9 476.8) rotate(69)"><text y="3.8" font-size="10.5" text-anchor="middle" fill="#111">110</text></g>
<g transform="translate(432.2 870.6) rotate(-45)"><text y="3.8" font-size="10.5" text-anchor="middle" fill="#111">100</text></g>
<g transform="translate(431.9 874.9) rotate(-34)"><text y="3.8" font-size="10.5" text-anchor="middle" fill="#111">130</text></g>
<g transform="translate(431.6 875.7) rotate(-39)"><text y="3.8" font-size="10.5" text-anchor="middle" fill="#111">160</text></g>
<g transform="translate(434.8 875.3) rotate(-46)"><text y="3.8" font-size="10.5" text-anchor="middle" fill="#111">120</text></g>
<g transform="translate(435.6 871.4) rotate(-37)"><text y="3.8" font-size="10.5" text-anchor="middle" fill="#111">180</text></g>
<g transform="translate(434.2 872.5) rotate(-39)"><text y="3.8" font-size="10.5" text-anchor="middle" fill="#111">140</text></g>
<g transform="translate(432.9 875) rotate(-46)"><text y="3.8" font-size="10.5" text-anchor="middle" fill="#111">110</text></g>
<g transform="translate(523.8 829.1) rotate(-76)"><text y="3.8" font-size="10.5" text-anchor="middle" fill="#111">100</text></g>
<g transform="translate(519.2 835) rotate(-65)"><text y="3.8" font-size="10.5" text-anchor="middle" fill="#111">130</text></g>
<g transform="translate(519.4 832) rotate(-71)"><text y="3.8" font-size="10.5" text-anchor="middle" fill="#111">160</text></g>
<g transform="translate(519.8 829.3) rotate(-70)"><text y="3.8" font-size="10.5" text-anchor="middle" fill="#111">120</text></g>
<g transform="translate(522.9 832.6) rotate(-71)"><text y="3.8" font-size="10.5" text-anchor="middle" fill="#111">180</text></g>
<g transform="translate(520.5 835.1) rotate(-70)"><text y="3.8" font-size="10.5" text-anchor="middle" fill="#111">140</text></g>
<g transform="translate(519.6 832.4) rotate(-65)"><text y="3.8" font-size="10.5" text-anchor="middle" fill="#111">110</text></g>
<g transform="translate(729.4 583.9) rotate(83)"><text y="3.8" font-size="10.5" text-anchor="middle" fill="#111">100</text></g>
<g transform="translate(725.9 581.2) rotate(83)"><text y="3.8" font-size="10.5" text-anchor="middle" fill="#111">130</text></g>
<g transform="translate(729 582.3) rotate(84)"><text y="3.8" font-size="10.5" text-anchor="middle" fill="#111">160</text></g>
<g transform="translate(729.9 582.8) rotate(80)"><text y="3.8" font-size="10.5" text-anchor="middle" fill="#111">120</text></g>
<g transform="translate(725.1 582.8) rotate(86)"><text y="3.8" font-size="10.5" text-anchor="middle" fill="#111">180</text></g>
<g transform="translate(729.3 581.5) rotate(85)"><text y="3.8" font-size="10.5" text-anchor="middle" fill="#111">140</text></g>
<g transform="translate(727.5 578.9) rotate(77)"><text y="3.8" font-size="10.5" text-anchor="middle" fill="#111">110</text></g>
<g transform="translate(640.2 821.2) rotate(65)"><text y="3.8" font-size="10.5" text-anchor="middle" fill="#111">100</text></g>
<g transform="translate(641.9 818.2) rotate(66)"><text y="3.8" font-size="10.5" text-anchor="middle" fill="#111">130</text></g>
<g transform="translate(642.4 822.8) rotate(69)"><text y="3.8" font-size="10.5" text-anchor="middle" fill="#111">160</text></g>
<g transform="translate(643 820.4) rotate(68)"><text y="3.8" font-size="10.5" text-anchor="middle" fill="#111">120</text></g>
<g transform="translate(637.6 821.2) rotate(75)"><text y="3.8" font-size="10.5" text-anchor="middle" fill="#111">180</text></g>
<g transform="translate(641 822.5) rotate(76)"><text y="3.8" font-size="10.5" text-anchor="middle" fill="#111">140</text></g>
<g transform="translate(639.2 817.5) rotate(69)"><text y="3.8" font-size="10.5" text-anchor="middle" fill="#111">110</text></g>
<g transform="translate(524.4 504.5) rotate(33)"><text y="3.8" font-size="10.5" text-anchor="middle" fill="#111">100</text></g>
<g transform="translate(525.4 506.8) rotate(27)"><text y="3.8" font-size="10.5" text-anchor="middle" fill="#111">130</text></g>
<g transform="translate(525.8 504.1) rotate(25)"><text y="3.8" font-size="10.5" text-anchor="middle" fill="#111">160</text></g>
<g transform="translate(524.4 508) rotate(30)"><text y="3.8" font-size="10.5" text-anchor="middle" fill="#111">120</text></g>
<g transform="translate(521.9 504) rotate(25)"><text y="3.8" font-size="10.5" text-anchor="middle" fill="#111">180</text></g>
<g transform="translate(521 504.5) rotate(31)"><text y="3.8" font-size="10.5" text-anchor="middle" fill="#111">140</text></g>
<g transform="translate(526.2 509.9) rotate(33)"><text y="3.8" font-size="10.5" text-anchor="middle" fill="#111">110</text></g>
<g transform="translate(643.7 455.4) rotate(16)"><text y="3.8" font-size="10.5" text-anchor="middle" fill="#111">100</text></g>
<g transform="translate(645.4 458.2) rotate(7)"><text y="3.8" font-size="10.5" text-anchor="middle" fill="#111">130</text></g>
<g transform="translate(642.5 459.6) rotate(12)"><text y="3.8" font-size="10.5" text-anchor="middle" fill="#111">160</text></g>
<g transform="translate(642.2 456.9) rotate(13)"><text y="3.8" font-size="10.5" text-anchor="middle" fill="#111">120</text></g>
<g transform="translate(643 455.3) rotate(6)"><text y="3.8" font-size="10.5" text-anchor="middle" fill="#111">180</text></g>
<g transform="translate(645.9 457.7) rotate(15)"><text y="3.8" font-size="10.5" text-anchor="middle" fill="#111">140</text></g>
<g transform="translate(646.6 457.3) rotate(9)"><text y="3.8" font-size="10.5" text-anchor="middle" fill="#111">110</text></g>

</g>
<path d="M339.2,808.3 344.2,810 350.8,815.8 348.3,818.7 342.5,818 338.3,818.7ZM679.2,905 685,904.2 690.8,906.7 690,911.7 685,913.3 680.8,910.8ZM265.8,586.7 273.3,586.7 274.2,592.5 268.3,593.7 265.3,590.8Z" fill="#fff" stroke="#000" stroke-width="1"/>
<path d="M542,332.5 539.2,333 533.3,334.2 526.7,335.8 521.7,337.5 515,339.2 508.3,340.8 503.3,343.3 499.2,346.7 495.8,350 495.3,355 494.7,360 494.2,365 495,370 494.2,375 495,380 494.2,385 493.3,390 494.2,395 497.5,397.5 499.2,401.3 495.8,400 492.5,401.7 489.2,405 485,410 480,413.3 475,415.8 470,418.3 465,420.8 460,422.5 480,415 473.3,418.3 466.7,420 460,421.7 453.3,423.3 446.7,425.8 440,429.2 433.3,433.3 428.3,436.7 424.2,440.8 421.7,445 420,449.2 420.8,452.5 424.2,454.2 429.2,455.8 433.3,456.7 426.7,459.2 421.7,461.7 416.7,464.2 411.7,466.7 406.7,467.5 400,465.8 393.3,463.3 386.7,462.5 380,462 375,460.8 370,459.2 365,458.3 360.8,459.2 358.3,457.5 357.5,454.2 355.8,450 353.3,445.8 352.5,442.5 355,439.2 354.2,435 349.2,434.2 344.2,435 340,436.7 335.8,435.8 331.7,434.2 327.5,432.5 323.3,430.8 320.8,431.7 321.7,435 324.2,437.5 325,441.7 323.3,445.8 325,450 326.7,454.2 329.2,458.3 331.7,461.7 334.2,465.8 335.8,469.2 335,473.3 335.8,478.3 336.7,483.3 338.3,486.7 336.7,490 335.8,495 335,499.2 337.5,503.3 340,506.7 344.2,510.8 345.8,513.3 341.7,515 333.3,515.5 325,515.8 322.5,514.7 321.7,510 316.7,508.7 315,512.5 316.3,520 315,523.3 313.3,518.3 310,515.8 306.7,518.3 302.5,516.7 299.2,513.7 297.5,510 294.2,511.7 290,512.5 286.7,515 283.3,517.5 279.2,520.8 276.7,516.7 273.3,511.7 271.7,507.5 269.2,503.3 266.7,500.8 265,496.7 264.2,492.5 261.7,491.3 259.2,493.3 256.7,492.5 254.2,495 250.8,493.3 246.7,494.2 242.5,494.7 239.2,493.3 235.8,495.8 235,500.8 234.7,505 230.8,503.3 227.5,502.5 223.3,501.7 220,503.3 218.3,500.8 215.8,501.7 214.2,498.3 212.5,499.2 210.8,501.7 206.7,502.5 203.3,503.3 199.2,503.3 195,504.2 190,505 185.8,505.8 181.7,507.5 177.5,509.2 174.2,510.8 173,515 172.5,520 173,525 175.8,524.7 180,523.3 184.2,522.5 189.2,521.7 193.3,520.8 195.8,523.7 191.7,525 187.5,525.3 183.7,526.7 180.3,530.8 182.5,534.2 183.7,538.3 187.5,535.8 191.7,536.7 195.8,538.3 196.7,542.5 193.3,545 188.3,545.8 184.2,545.8 180,546.7 173.3,547.5 174.2,549.7 179.2,550 183.7,551.3 186.7,555 189.2,559.2 190.8,563.3 190,567.5 194.2,568.7 197.5,568 199.2,564.2 202.5,560 204.2,556.7 205.8,560.8 210,563 213.3,566.7 215.8,570 220,570.8 224.2,570 227.5,571.7 231.7,574.2 235,577.5 238.3,579.2 241.7,578.3 243.3,574.2 245,579.2 248.3,580.8 250,585 253.3,587.5 256.7,589.2 260,586.7 263.3,589.2 266.7,586.7 271.7,586.7 275,589.2 278.3,593.3 281.7,594.2 285,597.5 286.7,599.2 283.3,601.7 284.7,605 280.8,606.7 279.7,610 281.7,613.7 286.7,615 290.8,616.3 295,615.8 298.3,615 299.7,620 299.2,624.2 295.8,626.7 300,628.3 304.2,630 306.7,634.2 305,638.3 301.7,641.7 299.2,644.2 300,649.2 302.5,653.3 305,658.3 305.8,660 310,665 313.3,670 315,675 318.3,678.3 323.3,681.7 328.3,684.2 332.5,687.5 338.3,689.2 343.3,690.8 348.3,690.8 350.8,693.3 349.2,697.5 345.8,700 343.3,702.5 346.7,705 350.8,708.3 352.5,713.3 351.7,718.3 349.2,722.5 347.5,726.7 345,730 341.7,730.8 341.7,736.7 343.3,739.2 346.7,740.8 350.8,743.3 354.2,745.8 350.8,747.5 346.7,749.2 345.3,755 344.2,763.3 343,771.7 342,780 341.2,788.3 340,796.7 339.2,805 338.7,811.7 338.7,810 337.5,821.7 336.7,830 335.3,838.3 334.2,846.7 332.5,855 330.8,862.5 329.2,870 327.5,877.5 325.8,884.2 324.2,890.8 321.7,896.7 318.3,901.7 315,905.8 311.7,909.2 307.5,911.7 303.3,912.5 305.8,915.8 310,917.5 313.3,920.8 316.7,919.2 320.8,920 325,922.5 324.2,927.5 322.5,931.7 320,934.2 322.5,937.5 325.8,938.3 328.3,934.2 331.7,935.8 335.8,937.5 340,940 345,942.5 350,945 355,945.8 359.2,946.7 360.8,950.8 364.2,953.3 367.5,956.7 370.8,960 375,958.3 380,957.5 383.3,956.7 387.5,959.2 391.7,961.7 395,965 398.3,967.5 403.3,967.5 408.3,966.7 413.3,966.7 417.5,969.2 421.7,967.5 426.7,966.7 431.7,967.5 436.7,968.3 438.3,965 437.5,960 440,956.7 445,958.3 450,960 455,960.8 460,961.7 465,964.2 470,966.7 475,968.3 474.2,967.5 477.5,969.2 480,972.5 482.5,975.8 486.7,973.3 490.8,975 495,976.7 499.2,977.5 497.5,980.8 500,984.2 503.3,985.8 507.5,986.7 510,989.2 511.7,993.3 515,995 519.2,993.3 523.3,990.8 527.5,990 531.7,990.8 535.8,991.7 539.2,992.5 540,995.8 543.3,996.7 547.5,995.8 551.7,994.2 555,991.7 559.2,990 563.3,987.5 567.5,985.8 571.7,986.7 575,989.7 578.3,988.3 577.5,984.2 574.2,982.5 571.7,979.2 570.8,974.2 570.5,969.2 570.8,964.2 570.8,959.2 571.7,954.2 572,949.2 573.3,944.2 575,940 577.5,935.8 580.8,932.5 585,929.2 589.2,926.7 593.3,925 597.5,924.2 600,920.8 603.3,918.3 606.7,915.8 610.8,913.3 615,910.8 619.2,907.5 623.3,905 627.5,904.2 630.8,906.7 634.2,909.2 640,910 646.7,910.8 653.3,910.8 655,915 658.3,917.5 664.2,917.5 663.3,917.5 668.3,918.3 671.7,916.7 673.3,913.3 676.7,912.5 680,915 682.5,917.5 686.7,918.3 690.8,918.3 695.8,917.5 698.3,919.2 699.2,923.3 702.5,926.7 706.7,927.5 710,926.7 714.2,928.3 718.3,930 721.7,931.7 723.3,935 725.8,938.3 729.2,937.5 732.5,934.2 736.7,933.3 740.8,935 745,934.2 748.3,931.7 753.3,933.3 758.3,932.5 760,929.2 763.3,926.7 766.7,923.3 769.2,919.2 770.8,922.5 774.2,920 773.3,916.7 775,912.5 776.7,908.3 779.2,905 783.3,902.5 786.7,900 790,897.5 794.2,895.8 796.7,891.7 800,889.2 803.3,886.7 806.7,884.2 810,880.8 814.2,878.3 816.7,875.8 814.2,872.5 816.7,870 818.3,865.8 821.7,862.5 824.2,858.3 825,853.3 822.5,847.5 818.3,848.7 813.3,850.3 807.5,851.3 801.7,850 795.8,847.5 790,845 785.8,842.5 782.5,839.2 780,835 781.7,830.8 779.2,827.5 778.3,823.3 780,819.2 780.8,815 783.3,811.7 787.5,810.8 786.7,807.5 784.2,803.3 782.5,799.2 778.3,798.3 774.2,796.7 770,794.2 769.2,790 767.5,786.7 764.2,784.2 763.3,780 766.7,778.3 770.8,777.5 775,775.8 778.3,774.2 782.5,772.5 787.5,770.8 789.2,766.7 788.3,761.7 790.8,757.5 789.2,755 785.8,751.7 781.7,749.2 780,745 789.2,756.7 785.8,753.3 781.7,750 780,745 779.2,740.8 775.8,738.3 771.7,735.8 769.2,731.7 769.2,726.7 773.3,724.2 777.5,720.8 780,716.7 777.5,712.5 774.2,709.2 771.7,705 768.3,701.7 766.7,696.7 768.3,691.7 765.8,687.5 765,683 760,682.5 753.3,683 748.3,684.2 744.2,685.8 739.2,686.7 737.5,690 739.2,693.3 737.5,697.5 734.2,700.8 730,703.3 724.2,704.2 723.3,701.7 725.8,698.3 729.2,695 731.7,690.8 731.7,685.8 728.3,683.3 729.2,679.2 730.8,675 730,670.8 734.2,665.8 737.5,661.7 741.7,658.3 745,655 745.8,650 745.8,645 748.3,641.7 752.5,639.2 755.8,635.8 759.2,631.7 761.7,627.5 764.2,624.2 766.7,620 770,615.8 773.3,612.5 775,609.2 770.8,609.2 766.7,607.5 769.2,602.5 771.7,599.2 775.8,598.3 780,599.2 784.2,601.7 789.2,600.8 793.3,598.3 797.5,595 800.8,590.8 800.8,586.7 797.5,580 798.3,573.3 797.5,566.7 798.3,560 797.5,575 798.3,570 800,565 800.8,560 799.2,554.2 798.3,549.2 799.2,544.2 800.8,538.3 802.5,533.3 804.2,528.3 805.8,523.3 806.7,518.3 807.5,513.3 810,508.3 814.2,503.3 817.5,498.3 820.8,493.3 823.3,487.5 825.8,482.5 821.7,481.3 816.7,479.2 810,477.5 803.3,478.3 796.7,477.5 791.7,475 786.7,470.8 781.7,470.8 776.7,474.2 771.7,475 766.7,472.5 761.7,469.2 756.7,468.3 753.3,471.7 750,470 746.7,465 743.3,460 740.8,455 736.7,451.7 731.7,450 726.7,448 721.7,448.3 717.5,450 713.3,451.7 710,449.2 705.8,447.5 701.7,445 696.7,445.8 691.7,447.5 686.7,449.2 685,445.8 681.7,442.5 678.3,438.3 674.2,436.7 669.2,434.2 665,430 660.8,429.2 657.5,427.5 656.7,421.7 655.8,415.8 654.2,410.8 655.8,406.7 656.7,401.7 653.3,400.8 650,402.5 647.5,406.7 646.7,411.7 643.3,414.2 640,415.8 640,415 635,416.7 630,417.5 625,416.7 620.8,413.3 623.3,410.8 621.7,406.7 620.8,401.7 622.5,397.5 620.8,393.3 616.7,390 611.7,387.5 606.7,389.2 601.7,388.3 597.5,386.7 596.7,381.7 594.2,377.5 590,375.8 585,376.7 580,375.8 577.5,371.7 576.7,366.7 575,361.7 571.7,358.3 569.2,355 564.2,357.5 560.8,360 557.5,361.7 553.3,359.2 550.8,354.2 546.7,351.7 544.2,346.7 545,341.7 543,336.7ZM155,513.7 157.5,513 160.8,514.2 160,516.3 156.7,516.7ZM232.5,582.5 235.8,582 238,584.2 235.8,585.8 233,585ZM243.7,604.2 246.7,603.3 250.8,606.7 254.2,610 253.3,612.5 249.2,611.7 245.3,609.7ZM250,590 252,590.8 253.3,597.5 251.3,596.7ZM291.7,634.2 294.2,633.7 296.2,636.7 294.7,638.7 292.5,637.5ZM285,655.8 288.3,656.3 291.2,659.2 289.2,660.3 285.8,658.3ZM326.7,695.8 331.7,696.3 337.5,698.3 342,701.7 340,703.3 335,701.3 330,699.2 327,698ZM334.2,710.8 338.3,713.3 342.5,718.3 343.7,725 342,728.7 339.2,723.3 335.8,718.3 334.2,714.2Z" fill="none" stroke="#000" stroke-width="1.6" stroke-linejoin="round" filter="url(#jag)"/>
<g clip-path="url(#cpC)">
<rect x="870" y="920" width="90" height="145" fill="#d21416"/>
<path fill="#e6353a" fill-rule="evenodd" d="M876,924 949,924 949,1057 876,1057ZM891,994.4 890.7,995 891,995.4 892,995.4 892.3,995 892,994.4Z"/>
<path fill="#f05a5f" fill-rule="evenodd" d="M876,924 949,924 949,1057 876,1057ZM891,993.7 890.5,994 890,995 890.8,996 892,996.1 892.9,995 892.4,994ZM899,969.6 898.1,971 898.7,972 900,972.4 901,972 901.4,971 901,970 900,969.5ZM915,982.8 914,984 915,985.3 916.1,985 916.3,984 916,983.3ZM934,1023.7 933,1024 932.6,1025 933,1025.8 934,1026.1 935.2,1025 934.7,1024Z"/>
<path fill="#fc7d82" fill-rule="evenodd" d="M876,924 949,924 949,1057 876,1057 876,995.7 883,995.7 884,995.4 884.5,994 884,991.9 883,991.6 876,991.6ZM890,993.8 889.5,995 890,996 891,996.5 892.8,996 893.2,995 893,994 892,993.3 891,993.2ZM898,968.7 897,970 897,971 898,972.5 900,973.2 901,972.9 902,972 902.3,970 901.5,969 900,968.3ZM909,961.8 909,962.4 910.1,963 910.5,962 910,961.4ZM915,981.9 914,982.5 913.5,984 913.7,985 915,985.9 916,985.7 916.8,985 917,984 916,982.2ZM931,1034.1 930.6,1035 931,1035.5 932,1035.2 932,1034.4ZM940,1012.7 939,1013.6 938.1,1016 937.6,1021 937,1023 934,1022.8 933,1023.2 931.9,1025 933,1026.6 935,1026.8 937,1025.4 938,1025.4 940,1026.7 941,1026.5 942,1025.4 942.7,1022 942.6,1017 941.8,1014 941,1012.9Z"/>
<path fill="#fea0a5" fill-rule="evenodd" d="M876,924 949,924 949,1057 876,1057 876,998 884,997.8 885,996.8 885.7,994 885,990.5 884,989.3 876,989.1ZM891,992.8 889.1,994 888.9,995 890,996.5 892,996.8 893.2,996 893.6,995 893.4,994 892.2,993ZM899,967 896.1,968 895.4,969 895.4,970 896.4,972 897.5,973 899,973.6 901,973.5 902.9,972 903.4,970 903,968.9 902,967.8 901,967.3ZM909,960.8 908.1,962 908.3,963 909,963.7 910,963.8 911,963.1 911.2,962 910.7,961 910,960.6ZM915,980.9 914,981.4 913.5,982 912.9,984 914,986 915,986.3 916.5,986 917.3,985 917.5,984 916.8,982 916,981.2ZM931,1033.4 930.2,1034 929.9,1035 931,1036.2 932,1036.1 932.9,1035 932.7,1034 932,1033.4ZM940,1008.9 938.2,1010 937,1012 935.3,1021 932.4,1023 931.5,1025 932,1026.5 933,1027.4 936.2,1028 940,1030.2 942,1029.6 943.3,1028 944.3,1025 944.6,1021 944.3,1016 943,1011 942,1009.6 941,1008.9Z"/>
<path fill="#fec8cb" fill-rule="evenodd" d="M876,924 949,924 949,1013.1 946,1012.7 943.4,1008 942,1006.6 940,1006.1 938,1006.9 936.4,1009 935.6,1011 934.2,1020 931.7,1023 931,1025 932,1027.3 934.8,1029 938,1031.9 940,1032.5 942,1032.1 943,1031.5 946,1028 949,1027.8 949,1057 876,1057 876,999.3 884,999.2 885,998.5 885.8,997 886.8,995 886.8,994 885.3,989 884,987.6 876,987.5ZM890,992.7 888.2,994 888.1,995 888.6,996 891,997.2 893,996.6 893.9,995 893,993.1 892,992.6ZM894,966 892.5,967 891.8,968 891.6,969 892,970 898,973.9 900,974.2 902,973.6 903,973 904.5,971 904.8,969 904.4,968 903.7,967 902,965.9 898,965.1ZM908,960.8 907.4,962 907.4,963 908,964 909,964.6 910,964.5 911,963.9 911.8,962 911,960.5 910,960.1 909,960.1ZM914,979.4 912.5,983 912.8,985 914,986.4 916,986.6 917.2,986 917.9,985 918,983 917,980.9 916,979.7 915,979.1ZM931,1032.8 930,1033.5 929.5,1035 930,1036.2 931,1036.7 932,1036.6 933,1036 933.6,1035 933.6,1034 932.8,1033Z"/>
<path fill="#fbe8e8" fill-rule="evenodd" d="M876,924 949,924 949,1007.8 946,1007.6 943,1004.4 941,1003.4 939,1003.6 938,1004 936,1006 934.1,1011 932.9,1020 931.1,1023 930.6,1025 931.1,1027 933.7,1030 934.2,1031 934,1031.7 931,1032.2 930,1032.8 929.1,1035 930,1036.7 932,1037.2 933.8,1036 935,1033.2 939,1034.4 941,1034.5 943,1033.7 946,1031.6 949,1031.5 949,1057 876,1057 876,1000.4 884,1000.3 885,999.7 887,996.6 888,996.4 890,997.3 892,997.4 893,997 893.9,996 894.2,995 893.4,993 892,992.2 890,992.2 888,992.7 887.1,992 885.8,988 885,986.7 884,986.1 876,986ZM908,959.9 906.4,962 906,964.6 901,963.3 898,963.1 894,963.6 891,965 889.9,966 889,968 889.1,970 889.6,971 891,972.1 898,974.5 901,974.6 903,973.7 907.3,971 908,970 907.4,966 910,965.4 911,964.8 912.2,963 912,961 911,959.9 910,959.5ZM912,974.2 911.5,975 911.5,976 912.3,980 912,983 912.3,985 914,986.8 916.1,987 917.8,986 918.4,985 918.4,982 917,978.6 915.5,976 914,974.6Z"/>
<path fill="#ede8ee" fill-rule="evenodd" d="M876,924 949,924 949,1003.4 946,1003.3 942,1000.4 939,999.7 938,999.6 937,1000.1 936,1001.6 933.4,1008 931.9,1020 930.2,1024 930.2,1026 932,1030 931.7,1031 929.3,1033 928.7,1035 928.9,1036 930,1037.2 932,1037.7 936,1035.7 941,1036.3 946,1034.1 949,1034 949,1057 876,1057 876,1001.4 884,1001.3 885,1000.8 887,997.9 888,997.3 892,997.7 893.4,997 894.4,995 894,993.3 893,992.3 891,991.7 888,991.5 886,986.5 885,985.1 883,984.6 876,984.6ZM887,934.9 886.5,936 886,939 886.1,942 886.5,944 887.3,945 889,945.7 891,945.9 893,945.4 894,944 894.1,943 892.8,938 891.4,936 890,934.9 888,934.4ZM909,958.8 907,959.5 905,961.1 898,960.7 894,961.5 891,962.5 889,963.7 887.9,965 887.2,967 887.2,970 888,972 888.9,973 891,973.9 900,975.2 905,973.7 906,973.5 907.6,974 909,975.4 910.8,979 911.6,984 912.5,986 914,987.2 916,987.4 918,986.5 919,985 919.3,983 919,981 917,975.8 911.9,970 910.8,968 910.6,967 912.7,963 912.5,961 911,959.2ZM932,991 930.7,992 930.6,993 931.5,995 934,997.6 936,998.5 937,998.4 937.8,996 937.1,993 935,991.2Z"/>
<path fill="#e4ecf5" fill-rule="evenodd" d="M886,924 949,924 949,987.6 945,987.7 941,988.3 937,987.5 931,987.8 927.4,989 926.7,990 926.5,991 927.6,994 932.3,1000 932.8,1002 930.8,1020 929.6,1025 930.7,1030 928.3,1034 928.5,1036 930,1037.8 932,1038.2 936,1037.5 941,1038.2 946,1036.4 949,1036.3 949,1057 876,1057 876,1002.3 884,1002.2 885,1001.8 888,998.1 891,998.2 893,997.6 894,996.8 894.7,995 894.2,993 893,991.9 889,991 888,990 886.3,985 885,983.4 883,983 876,983 876,954.4 884,954.3 885,953.8 887,951.6 889,950.8 891,951 892.9,952 895.3,955 895.2,957 894.2,958 888,961 886.3,963 885.5,965 885.2,968 885.5,970 887.4,974 888.7,975 890,975.4 895,975.2 900,975.7 904,974.9 906.1,975 907.6,976 909,977.9 910.5,981 911.5,985 913,987 914,987.5 916,987.8 918.2,987 919.3,986 920.1,984 919.9,981 918.7,977 917,973.8 913.4,969 912.5,967 913.3,962 912.6,960 911,958.4 907.4,957 907.1,956 907.3,952 906.1,949 905,948 899,944.4 897.1,942 893.2,935 891,933.1 886.9,931 886,929Z"/>
<path fill="#daf0fd" fill-rule="evenodd" d="M888.3,924 949,924 949,984.7 945,984.5 942,982.9 940,982.7 933,985.4 925.6,987 924.4,988 924.1,989 925,993.1 929.8,1000 930.7,1003 929.8,1020 929,1025 929.5,1030 927.9,1034 928,1036 929,1037.7 931,1038.8 935,1039.1 939,1040 942,1040 946,1038.8 949,1038.7 949,1057 876,1057 876,1003.1 883,1003.1 885,1002.7 888,998.9 892,998.4 894,997.2 895,995 894.5,993 893.6,992 889,989.9 887,983.9 885.9,982 884,981.2 876,981.2 876,972.5 884,972.7 887,976.5 888,977 890,977 895,976.1 900,976.2 904,975.8 905.4,976 907,977 908.5,979 911.6,986 914,987.9 917,988 919.4,987 920.7,986 921.4,984 921,981 919.7,977 914.2,967 913.8,961 913,959.2 910.5,956 909.9,951 909,948.5 907,946.3 902,943.6 900,942.1 894.4,934 888.9,930 888.4,929ZM922,1013.8 921.4,1015 921.9,1016 923,1016.3 923.9,1016 924.4,1015 924,1014 923,1013.6Z"/>
<path fill="#bee6ff" fill-rule="evenodd" d="M890.8,924 949,924 949,982.6 946,982.6 942,980.5 940,980.3 931,984.2 926,984.7 923.8,984 923,983 920.2,976 915.7,967 914.8,961 912.9,956 911.9,950 911,946.9 909,944.7 904,942.6 901,940.6 895.4,933 891.5,930 890.9,929ZM895.6,977 903,976.6 905,976.9 907.3,979 911.1,986 913,987.8 916,988.6 920.6,988 921.9,989 924.4,995 928.2,1001 929.3,1005 929.2,1010 928.3,1015 928.7,1020 928.2,1025 928.4,1030 927.3,1034 927.4,1036 928.5,1038 930,1039.3 936,1041.5 941,1042.2 949,1041.7 949,1048.7 946,1048.8 944.6,1050 944.3,1057 876,1057 876,1003.9 883,1003.9 885,1003.5 888,999.9 889,999.2 893,998.3 894.6,997 895.3,995 894.9,993 894,991.8 890.5,990 889.5,989 888.4,984 888.1,981 888.6,980 889.8,979ZM922,1012.9 921,1013.7 920.6,1015 920.8,1016 921.9,1017 924,1017.2 925.8,1016 926.1,1015 925.8,1014 925,1013.3 924,1012.8Z"/>
<path fill="#a0dcff" fill-rule="evenodd" d="M893.5,924 949,924 949,980.8 946,980.8 942,978.8 940,978.6 938,979.2 933,981.9 930,983 926,983 924,981.7 918.2,970 917.1,967 913,943.7 912,942.4 911,942 905,940.9 901.8,939 897.4,933 893.6,929ZM895.6,978 902,977.4 904.8,978 906.9,980 910.4,986 912,987.6 915,988.9 919,989 920,989.4 921,990.5 923.5,996 926.9,1002 927.8,1005 928,1008 927.8,1010 927,1011.8 926,1012.1 923,1011.9 921,1012.7 920.1,1014 920.1,1016 921,1017.2 922,1017.8 926,1018 927.2,1019 927.5,1022 926.5,1035 927,1037 928,1038.9 931,1041.9 933,1043 941,1045 942.6,1046 943,1047 942.2,1051 942.2,1057 876,1057 876,1004.7 885,1004.4 886.6,1003 888.9,1000 893,998.7 894.9,997 895.7,995 895.3,993 894,991.3 890.7,989 890,987 889.8,984 890.1,982 891,980.5 893,979Z"/>
<path fill="#82d2ff" fill-rule="evenodd" d="M896.7,924 949,924 949,979.3 946,979.2 942,977.3 940,977.2 937.3,978 933,980.4 930,981.6 927,981.7 925,980.7 923.6,979 922,975.8 919.4,970 918.5,967 917.8,959 916,950 916.1,946 917.3,939 917,936.1 916,935.3 915,935.3 910,938.4 908,939 906,939 904,938.3 901.4,936 897.3,930 896.8,928ZM896,979 901,978.2 904,978.8 906,980.5 909.7,986 911,987.4 914,989.1 918.7,990 920.5,992 925.6,1003 926.6,1008 926,1010 925,1010.6 922,1011.3 920,1012.8 919.4,1014 919.5,1016 921,1018 925,1019.4 925.8,1020 926.2,1021 925.4,1035 926,1038.6 927.5,1043 928.9,1045 930,1045.8 938,1048 938.8,1049 939,1050 939.1,1057 876,1057 876,1005.5 885,1005.2 886.6,1004 889,1000.9 890.4,1000 893,999.1 895,997.5 896,995 895.7,993 895,991.7 892,989 891.4,988 891.2,985 891.5,983 892.7,981Z"/>
<path fill="#6ebeff" fill-rule="evenodd" d="M901.2,924 949,924 949,977.8 946,977.7 942,976 940,975.8 937,976.7 930,980.2 927,980.2 925,978.9 923,975.8 920.2,969 919.7,966 919.7,959 918.2,951 918.5,946 921.3,936 921.1,933 920.1,932 919,931.5 915,931.3 912,932.5 908,936 906,936.4 905,936.2 903,934.6 901.6,932 901.2,930ZM896.8,980 901,979.2 903.7,980 905,981.1 908.6,986 910.8,988 913,989.2 918.3,991 919.7,993 924.4,1004 925,1007 924.6,1009 920,1011.9 919.2,1013 918.7,1015 919,1016.2 920,1017.9 924.6,1021 925.1,1023 923.7,1034 923.3,1045 921.5,1051 921.4,1057 876,1057 876,1006.3 885,1006.1 887,1004.7 890.1,1001 893,999.6 895,998 896.2,996 896.4,994 895.8,992 892.9,988 892.7,986 893,984 894,982Z"/>
<path fill="#50a5ff" fill-rule="evenodd" d="M929.6,933 932.4,933 935,934 938.5,938 940,939.1 942,939.2 945,938.5 949,938.3 949,976.4 946,976.3 942,974.6 940,974.5 937,975.3 931,978.6 928,978.9 926,978.1 925,977 923,973.5 921.6,970 921.1,967 921.7,959 920.4,951 920.5,948 922,942.8 925,936.5 927,934.1ZM898.2,981 901,980.6 903,981.3 906.9,986 909.3,988 912,989.5 916.5,991 917.8,992 919.4,995 923,1005 923.1,1008 919,1012 918.2,1014 918.6,1017 920,1018.8 922.8,1021 923.4,1022 923.5,1024 920,1043 917.2,1050 917,1057 876,1057 876,1007.2 884,1007.2 886,1006.6 888,1005 891,1001.4 894,999.5 895.6,998 896.7,996 897,994 896.6,992 894.6,988 894.5,986 895.6,983Z"/>
<path fill="#3c96ff" fill-rule="evenodd" d="M928.6,941 930,941.1 931,941.6 935,946 937,946.8 938,946.8 940,945.9 945,941.7 949,941.4 949,974.9 946,974.8 942,973.2 939,973.3 935,974.8 932,977.2 930,977.9 928,977.7 927,977.2 925,974.9 923,970.5 922.2,966 922.4,964 923.7,960 924,958 923.2,949 924,946 925,944 927,941.7ZM899.8,983 901,982.9 902,983.4 906,988.1 914.2,991 916,991.9 917,992.9 918.5,996 921.2,1005 921.2,1008 918.2,1012 917.5,1015 918.4,1018 921.6,1022 921.8,1024 916.2,1043 913.2,1050 913,1057 876,1057 876,1008.2 884,1008.2 886,1007.7 888.5,1006 891.8,1002 895.5,999 896.9,997 897.7,995 897.3,986 898.2,984Z"/>
<path fill="#2878ff" fill-rule="evenodd" d="M944.7,945 946,944.4 949,944.3 949,973.2 946,973.2 942,971.7 939,971.7 934,973.7 932.3,976 931,977 930,977.3 928.6,977 926.5,975 924.2,970 923.2,966 923.9,963 926.7,959 928,954.9 929,953.2 931,952.5 936,952.7 939,952 941,950.3ZM905.8,992 908,991.3 910,991.1 913.7,992 915.3,993 916.7,995 917.4,997 919.3,1006 919.1,1008 917.2,1012 916.7,1015 917.5,1018 919.8,1022 919.8,1024 919,1026.2 909.2,1046 908.4,1050 908.4,1057 876,1057 876,1046.1 884,1046.1 888,1047 889.7,1046 889.1,1045 887,1044.5 884,1044.9 876,1044.9 876,1009.4 885,1009.3 888,1008.2 890.6,1006 893.5,1002 896.6,999 900,993.9Z"/>
<path fill="#1e5aff" fill-rule="evenodd" d="M945.5,948 949,947.6 949,971.2 946,971.2 942,969.7 938,970 933.3,972 932.6,973 932.1,975 931.5,976 930,976.7 929,976.5 927.6,975 927,972 924.5,967 924.2,965 924.5,964 926,962.4 929.2,961 933,958.2 940,956.6 941.3,956 942.2,955 944.1,950ZM909,994 911,993.4 913.6,994 915,995.6 915.9,998 916.6,1007 915.6,1013 915.6,1015 917.6,1022 917.1,1024 916,1025.9 913,1029.1 910,1031.6 907,1033.4 904,1034.5 900,1035.2 890,1035.9 885,1036.8 876,1036.9 876,1026.2 884,1026.2 887,1025.5 889,1024.1 889.9,1023 890.6,1020 889.6,1018 888,1017.2 876,1017.1 876,1011.3 885,1011.2 889,1010.4 892.3,1008 896,1002 899,998.8 901,997.9 905,997Z"/>
<path fill="#0a3cff" fill-rule="evenodd" d="M925.8,964 927,963.5 928,963.7 930,964.9 931,965.1 934,963.6 937,963.1 939.2,964 939.3,965 938.2,966 934.3,968 931,968.8 926,967 925.3,966 925.2,965ZM928.8,973 930,972.3 931,972.9 931.5,974 931,975.6 930,976.2 929,975.8 928.4,975 928.3,974ZM903.9,1010 906,1009.2 908,1009.1 910,1010.1 912,1012.4 913,1014.3 915.1,1021 914.7,1023 913,1024.8 911,1025.6 905,1026.1 902,1025.4 900.3,1024 899.5,1022 899.3,1020 900.1,1015 901.5,1012Z"/>
<path fill="#0a28c8" fill-rule="evenodd" d="M929.4,974 930,973.7 930.5,974 930.6,975 930,975.4 929.2,975ZM905,1015 905,1015 905,1015ZM910.9,1021 911.7,1021 912,1022 911,1022Z"/>
<path fill="none" stroke="#111" stroke-width="0.6" d="M891,994.4 890.7,995 891,995.4 892,995.4 892.3,995 892,994.4ZM899,969.6 898.1,971 898.7,972 900,972.4 901,972 901.4,971 901,970 900,969.5ZM915,982.8 914,984 915,985.3 916.1,985 916.3,984 916,983.3ZM891,993.7 890.5,994 890,995 890.8,996 892,996.1 892.9,995 892.4,994ZM934,1023.7 933,1024 932.6,1025 933,1025.8 934,1026.1 935.2,1025 934.7,1024ZM909,961.8 909,962.4 910.1,963 910.5,962 910,961.4ZM898,968.7 897,970 897,971 898,972.5 900,973.2 901,972.9 902,972 902.3,970 901.5,969 900,968.3ZM915,981.9 914,982.5 913.5,984 913.7,985 915,985.9 916,985.7 916.8,985 917,984 916,982.2ZM890,993.8 889.5,995 890,996 891,996.5 892.8,996 893.2,995 893,994 892,993.3 891,993.2ZM876,995.7 883,995.7 884,995.4 884.5,994 884,991.9 883,991.6 876,991.6M940,1012.7 939,1013.6 938.1,1016 937.6,1021 937,1023 934,1022.8 933,1023.2 931.9,1025 933,1026.6 935,1026.8 937,1025.4 938,1025.4 940,1026.7 941,1026.5 942,1025.4 942.7,1022 942.6,1017 941.8,1014 941,1012.9ZM931,1034.1 930.6,1035 931,1035.5 932,1035.2 932,1034.4ZM909,960.8 908.1,962 908.3,963 909,963.7 910,963.8 911,963.1 911.2,962 910.7,961 910,960.6ZM899,967 896.1,968 895.4,969 895.4,970 896.4,972 897.5,973 899,973.6 901,973.5 902.9,972 903.4,970 903,968.9 902,967.8 901,967.3ZM915,980.9 914,981.4 913.5,982 912.9,984 914,986 915,986.3 916.5,986 917.3,985 917.5,984 916.8,982 916,981.2ZM891,992.8 889.1,994 888.9,995 890,996.5 892,996.8 893.2,996 893.6,995 893.4,994 892.2,993ZM876,998 884,997.8 885,996.8 885.7,994 885,990.5 884,989.3 876,989.1M940,1008.9 938.2,1010 937,1012 935.3,1021 932.4,1023 931.5,1025 932,1026.5 933,1027.4 936.2,1028 940,1030.2 942,1029.6 943.3,1028 944.3,1025 944.6,1021 944.3,1016 943,1011 942,1009.6 941,1008.9ZM931,1033.4 930.2,1034 929.9,1035 931,1036.2 932,1036.1 932.9,1035 932.7,1034 932,1033.4ZM908,960.8 907.4,962 907.4,963 908,964 909,964.6 910,964.5 911,963.9 911.8,962 911,960.5 910,960.1 909,960.1ZM894,966 892.5,967 891.8,968 891.6,969 892,970 898,973.9 900,974.2 902,973.6 903,973 904.5,971 904.8,969 904.4,968 903.7,967 902,965.9 898,965.1ZM914,979.4 912.5,983 912.8,985 914,986.4 916,986.6 917.2,986 917.9,985 918,983 917,980.9 916,979.7 915,979.1ZM890,992.7 888.2,994 888.1,995 888.6,996 891,997.2 893,996.6 893.9,995 893,993.1 892,992.6ZM876,999.3 884,999.2 885,998.5 885.8,997 886.8,995 886.8,994 885.3,989 884,987.6 876,987.5M949,1013.1 946,1012.7 943.4,1008 942,1006.6 940,1006.1 938,1006.9 936.4,1009 935.6,1011 934.2,1020 931.7,1023 931,1025 932,1027.3 934.8,1029 938,1031.9 940,1032.5 942,1032.1 943,1031.5 946,1028 949,1027.8M931,1032.8 930,1033.5 929.5,1035 930,1036.2 931,1036.7 932,1036.6 933,1036 933.6,1035 933.6,1034 932.8,1033ZM908,959.9 906.4,962 906,964.6 901,963.3 898,963.1 894,963.6 891,965 889.9,966 889,968 889.1,970 889.6,971 891,972.1 898,974.5 901,974.6 903,973.7 907.3,971 908,970 907.4,966 910,965.4 911,964.8 912.2,963 912,961 911,959.9 910,959.5ZM912,974.2 911.5,975 911.5,976 912.3,980 912,983 912.3,985 914,986.8 916.1,987 917.8,986 918.4,985 918.4,982 917,978.6 915.5,976 914,974.6ZM876,1000.4 884,1000.3 885,999.7 887,996.6 888,996.4 890,997.3 892,997.4 893,997 893.9,996 894.2,995 893.4,993 892,992.2 890,992.2 888,992.7 887.1,992 885.8,988 885,986.7 884,986.1 876,986M949,1007.8 946,1007.6 943,1004.4 941,1003.4 939,1003.6 938,1004 936,1006 934.1,1011 932.9,1020 931.1,1023 930.6,1025 931.1,1027 933.7,1030 934.2,1031 934,1031.7 931,1032.2 930,1032.8 929.1,1035 930,1036.7 932,1037.2 933.8,1036 935,1033.2 939,1034.4 941,1034.5 943,1033.7 946,1031.6 949,1031.5M887,934.9 886.5,936 886,939 886.1,942 886.5,944 887.3,945 889,945.7 891,945.9 893,945.4 894,944 894.1,943 892.8,938 891.4,936 890,934.9 888,934.4ZM909,958.8 907,959.5 905,961.1 898,960.7 894,961.5 891,962.5 889,963.7 887.9,965 887.2,967 887.2,970 888,972 888.9,973 891,973.9 900,975.2 905,973.7 906,973.5 907.6,974 909,975.4 910.8,979 911.6,984 912.5,986 914,987.2 916,987.4 918,986.5 919,985 919.3,983 919,981 917,975.8 911.9,970 910.8,968 910.6,967 912.7,963 912.5,961 911,959.2ZM932,991 930.7,992 930.6,993 931.5,995 934,997.6 936,998.5 937,998.4 937.8,996 937.1,993 935,991.2ZM876,1001.4 884,1001.3 885,1000.8 887,997.9 888,997.3 892,997.7 893.4,997 894.4,995 894,993.3 893,992.3 891,991.7 888,991.5 886,986.5 885,985.1 883,984.6 876,984.6M949,1003.4 946,1003.3 942,1000.4 939,999.7 938,999.6 937,1000.1 936,1001.6 933.4,1008 931.9,1020 930.2,1024 930.2,1026 932,1030 931.7,1031 929.3,1033 928.7,1035 928.9,1036 930,1037.2 932,1037.7 936,1035.7 941,1036.3 946,1034.1 949,1034M876,954.4 884,954.3 885,953.8 887,951.6 889,950.8 891,951 892.9,952 895.3,955 895.2,957 894.2,958 888,961 886.3,963 885.5,965 885.3,969 887,973.5 888,974.6 890,975.4 895,975.2 900,975.7 904,974.9 906,974.9 907.6,976 909,977.9 910.5,981 911.5,985 913,987 914,987.5 916,987.8 918,987.1 919.3,986 920.1,984 919.7,980 918,975.5 913.4,969 912.5,967 913.3,962 912.6,960 911,958.4 907.4,957 907.1,956 907.3,952 906.1,949 905,948 899,944.4 897.1,942 893.2,935 891,933.1 886.9,931 886,929 886,924M949,987.6 945,987.7 941,988.3 937,987.5 931,987.8 927.4,989 926.7,990 926.5,991 927.6,994 932.3,1000 932.8,1002 930.8,1020 929.6,1025 930.7,1030 928.3,1034 928.5,1036 930,1037.8 932,1038.2 936,1037.5 941,1038.2 946,1036.4 949,1036.3M876,1002.3 884,1002.2 885,1001.8 888,998.1 891,998.2 893,997.6 894,996.8 894.7,995 894.2,993 893,991.9 889,991 888,990 886.3,985 885,983.4 883,983 876,983M876,972.5 884,972.7 887,976.5 888,977 890,977 895,976.1 900,976.2 904,975.8 905.4,976 907,977 908.5,979 911.6,986 914,987.9 916,988.2 918,987.7 920.7,986 921.2,985 921.2,982 920.1,978 918.8,975 914.2,967 913.8,961 913,959.2 910.5,956 909.9,951 909,948.5 907,946.3 902,943.6 900,942.1 894.4,934 888.9,930 888.4,929 888.3,924M949,984.7 945,984.5 942,982.9 940,982.7 933,985.4 925.6,987 924.4,988 924.1,989 925,993.1 929.8,1000 930.7,1003 929.8,1020 929,1025 929.5,1030 928.2,1033 927.8,1035 928.5,1037 930,1038.4 931,1038.8 935,1039.1 939,1040 942,1040 946,1038.8 949,1038.7M876,1003.1 883,1003.1 885,1002.7 888,998.9 892,998.4 894,997.2 895,995 894.5,993 893.6,992 889,989.9 887,983.9 885.9,982 884,981.2 876,981.2M922,1013.8 921.4,1015 921.9,1016 923,1016.3 923.9,1016 924.4,1015 924,1014 923,1013.6ZM949,982.6 946,982.6 942,980.5 940,980.3 931,984.2 926,984.7 923.8,984 923,983 920.2,976 915.7,967 914.8,961 912.9,956 911.9,950 911,946.9 909,944.7 904,942.6 901,940.6 895.4,933 891.5,930 890.9,929 890.8,924M876,1003.9 883,1003.9 885,1003.5 888,999.9 889,999.2 893,998.3 895,996.2 895.3,994 894.2,992 890.5,990 889.5,989 888.1,982 888.6,980 891,978.5 895,977.1 903,976.6 905,976.9 907.3,979 911.1,986 913,987.8 916,988.6 920.6,988 921.9,989 924.4,995 928.6,1002 929.3,1005 929.4,1008 928.3,1015 928.7,1020 928.2,1025 928.4,1030 927.3,1034 927.4,1036 928,1037.4 930,1039.3 937,1041.7 942,1042.2 949,1041.7M922,1012.9 921,1013.7 920.6,1015 920.8,1016 921.9,1017 924,1017.2 925.8,1016 926.1,1015 925.8,1014 925,1013.3 924,1012.8ZM949,1048.7 946,1048.8 944.6,1050 944.3,1057M949,980.8 946,980.8 942,978.8 940,978.6 938,979.2 933,981.9 930,983 926,983 924,981.7 918.2,970 917.1,967 913,943.7 912,942.4 911,942 905,940.9 901.8,939 897.4,933 893.6,929 893.5,924M876,1004.7 885,1004.4 886.6,1003 888.9,1000 893,998.7 894.9,997 895.7,995 895.3,993 894,991.3 890.7,989 890,987 889.8,984 890.1,982 891,980.5 893,979 895,978.2 902,977.4 904.8,978 906.9,980 910.4,986 912,987.6 914,988.7 920,989.4 921.3,991 923.5,996 926.4,1001 927.9,1006 927.8,1010 927,1011.8 922,1012.1 920.7,1013 919.9,1015 920.8,1017 922,1017.8 926,1018 927.2,1019 927.5,1022 926.5,1035 927,1037 929,1040.1 932,1042.5 935,1043.7 941,1045 942.6,1046 943,1047 942.2,1051 942.2,1057M949,979.3 946,979.2 942,977.3 940,977.2 937.3,978 933,980.4 930,981.6 927,981.7 925,980.7 923.6,979 922,975.8 919.4,970 918.5,967 917.8,959 916,950 916.1,946 917.3,939 917,936.1 916,935.3 915,935.3 910,938.4 908,939 906,939 904,938.3 901.4,936 897.3,930 896.8,928 896.7,924M876,1005.5 885,1005.2 886.6,1004 889,1000.9 890.4,1000 893,999.1 895,997.5 896,995 895.7,993 895,991.7 892,989 891.4,988 891.2,985 891.5,983 892.7,981 896,979 901,978.2 904,978.8 906,980.5 909.7,986 911.7,988 914,989.1 919,990.2 920.5,992 925.2,1002 926.5,1006 926.6,1008 926,1010 921,1011.9 919.9,1013 919.3,1015 920,1017 921,1018 925,1019.4 925.8,1020 926.2,1021 925.4,1035 926.4,1040 927.5,1043 929,1045.1 931,1046.2 937,1047.5 938,1048 938.8,1049 939.1,1057M949,977.8 946,977.7 942,976 940,975.8 937,976.7 930,980.2 927,980.2 925,978.9 923,975.8 920.2,969 919.7,966 919.7,959 918.2,951 918.5,946 921.3,936 921.1,933 920.1,932 919,931.5 915,931.3 912,932.5 908,936 906,936.4 905,936.2 903,934.6 901.6,932 901.2,930 901.2,924M876,1006.3 885,1006.1 887,1004.7 890.1,1001 893,999.6 895,998 896.2,996 896.4,994 895.8,992 892.9,988 892.8,985 894,982 897,979.9 901,979.2 903.7,980 905,981.1 908.6,986 910.8,988 913,989.2 918,990.8 919,991.7 924,1003 925,1007 924.6,1009 919.9,1012 919,1013.5 918.7,1015 919,1016.2 920,1017.9 924.6,1021 925.1,1023 923.7,1034 923.3,1045 921.5,1051 921.4,1057M949,976.4 946,976.3 942,974.6 940,974.5 937,975.3 932,978.2 930,978.9 928,978.9 925.9,978 923.7,975 921.4,969 921,965 921.7,958 920.3,950 920.9,946 923,940.5 926,935 928,933.5 931,932.9 934,933.5 936,934.8 938.5,938 940,939.1 942,939.2 945,938.5 949,938.3M876,1007.2 884,1007.2 886,1006.6 888,1005 891,1001.4 894,999.5 895.6,998 896.7,996 897,994 896.6,992 894.6,988 894.5,986 895.6,983 898.2,981 901,980.6 903,981.3 906.9,986 909.3,988 912,989.5 916.5,991 917.8,992 919,994 922,1002 923.3,1007 922.4,1009 919,1012.1 918.2,1014 918.3,1016 920,1018.8 922.8,1021 923.6,1023 920,1043 917.2,1050 917,1057M949,974.9 946,974.8 942,973.2 940,973.1 938,973.5 935,974.8 931,977.7 928,977.7 926,976.3 924,973.1 922.9,970 922.2,966 922.4,964 923.7,960 924,958 923.2,951 923.4,948 925,944 927,941.7 929,940.9 930,941.1 931.4,942 935,946 937,946.8 938,946.8 940,945.9 945,941.7 949,941.4M876,1008.2 884,1008.2 886,1007.7 888.5,1006 891.8,1002 895.5,999 896.9,997 897.7,995 897.3,986 898.2,984 899.8,983 901,982.9 902,983.4 906,988.1 915,991.4 917.1,993 918.9,997 921.4,1006 921.2,1008 918.8,1011 917.7,1013 917.6,1016 918.4,1018 921.6,1022 921.8,1024 916.2,1043 913.2,1050 913,1057M949,973.2 946,973.2 942,971.7 939,971.7 934,973.7 932.3,976 931,977 929,977.2 927.2,976 925,972.1 923.2,966 923.9,963 926.7,959 928,954.9 929,953.2 931,952.5 936,952.7 939,952 941,950.3 945,944.7 946,944.4 949,944.3M876,1009.4 885,1009.3 888.3,1008 890.6,1006 893.5,1002 897.4,998 899,995.1 900,993.9 901,993.4 908,991.3 910,991.1 914,992.1 916.2,994 917.7,998 919.3,1006 919.1,1008 917.2,1012 916.7,1015 917.5,1018 919.8,1022 919.8,1024 919,1026.2 909.2,1046 908.4,1050 908.4,1057M876,1046.1 884,1046.1 888,1047 889.7,1046 889.1,1045 887,1044.5 884,1044.9 876,1044.9M949,971.2 946,971.2 942,969.7 938,970 933.3,972 932.6,973 932.1,975 931.5,976 930,976.7 929,976.5 927.6,975 927,972 924.5,967 924.2,965 925,963.2 926,962.4 929.2,961 933,958.2 940,956.6 941.3,956 942.8,954 945,948.4 946,947.7 949,947.6M876,1011.3 885,1011.2 889,1010.4 892.3,1008 896,1002 899,998.8 901,997.9 905,997 910,993.6 913,993.7 914,994.3 915.2,996 916.1,999 916.6,1006 915.6,1015 917.6,1022 916.6,1025 914,1028.2 909,1032.3 906,1033.8 903,1034.7 891,1035.8 885,1036.8 876,1036.9M876,1026.2 884,1026.2 887,1025.5 889,1024.1 889.9,1023 890.6,1020 889.6,1018 888,1017.2 876,1017.1M925.8,964 927,963.5 928,963.7 930,964.9 931,965.1 934,963.6 937,963.1 939.2,964 939.3,965 938.2,966 934.3,968 931,968.8 926,967 925.3,966 925.2,965ZM928.8,973 930,972.3 931,972.9 931.5,974 931,975.6 930,976.2 929,975.8 928.4,975 928.3,974ZM903.9,1010 906,1009.2 908,1009.1 910,1010.1 912,1012.4 913,1014.3 915.1,1021 914.7,1023 913,1024.8 911,1025.6 905,1026.1 902,1025.4 900.3,1024 899.5,1022 899.3,1020 900.1,1015 901.5,1012ZM929.4,974 930,973.7 930.5,974 930.6,975 930,975.4 929.2,975ZM905,1015 905,1015 905,1015ZM910.9,1021 911.7,1021 912,1022 911,1022Z"/>
</g>
<path d="M925,927.5 928.1,928.8 929.4,933.1 930,938.1 931.2,943.1 931.9,948.8 931.2,953.8 933.1,958.1 935.6,961.2 936.2,966.2 936.2,971.2 937.5,976.2 938.8,981.2 939.4,986.2 939.8,991.2 939.4,996.2 937.5,1001.2 935,1005 933.1,1008.8 933.5,1013.8 933.8,1018.8 934,1023.8 933.1,1028.8 931.9,1033.8 930,1038.8 928.1,1043.8 926.9,1048.8 928.1,1052.5 925,1053.1 921.2,1051.9 918.1,1050 915,1047.5 911.2,1045.6 907.5,1044.4 903.8,1043.1 900.6,1041.2 899.4,1037.5 901.2,1035 905,1033.1 908.1,1030.6 905,1028.8 901.2,1029.4 897.5,1030 893.8,1028.8 891.2,1027.5 893.1,1025 894.4,1021.9 896.2,1018.8 892.5,1016.9 888.8,1015.6 886.9,1012.5 889.4,1010 891.2,1006.9 893.8,1004.4 891.2,1001.2 887.5,999.4 884.4,997.5 883.1,993.8 882.5,990 886.2,988.8 889.4,988.1 887.5,985 883.8,983.8 880.6,981.2 883.1,978.8 885.6,975.6 887.5,971.9 888.8,967.5 890.6,964.4 894.4,961.9 898.1,959.4 902.5,957.5 906.2,955.6 908.8,952.5 912.5,950.6 916.2,950 919.4,951.9 921.9,953.8 922.5,948.8 923.1,943.8 922.5,938.8 921.2,933.8 921.9,929.4Z" fill="none" stroke="#000" stroke-width="1.6" stroke-linejoin="round"/>
<rect x="1014.3" y="464.20" width="24.4" height="32.05" fill="#0a3cff"/>
<rect x="1014.3" y="495.95" width="24.4" height="32.05" fill="#1e5aff"/>
<rect x="1014.3" y="527.70" width="24.4" height="32.05" fill="#2878ff"/>
<rect x="1014.3" y="559.45" width="24.4" height="32.05" fill="#3c96ff"/>
<rect x="1014.3" y="591.20" width="24.4" height="32.05" fill="#50a5ff"/>
<rect x="1014.3" y="622.95" width="24.4" height="32.05" fill="#6ebeff"/>
<rect x="1014.3" y="654.70" width="24.4" height="32.05" fill="#82d2ff"/>
<rect x="1014.3" y="686.45" width="24.4" height="32.05" fill="#a0dcff"/>
<rect x="1014.3" y="718.20" width="24.4" height="32.05" fill="#bee6ff"/>
<rect x="1014.3" y="749.95" width="24.4" height="32.05" fill="#daf0fd"/>
<rect x="1014.3" y="781.70" width="24.4" height="32.05" fill="#e4ecf5"/>
<rect x="1014.3" y="813.45" width="24.4" height="32.05" fill="#ede8ee"/>
<rect x="1014.3" y="845.20" width="24.4" height="32.05" fill="#fbe8e8"/>
<rect x="1014.3" y="876.95" width="24.4" height="32.05" fill="#fec8cb"/>
<rect x="1014.3" y="908.70" width="24.4" height="32.05" fill="#fea0a5"/>
<rect x="1014.3" y="940.45" width="24.4" height="32.05" fill="#fc7d82"/>
<rect x="1014.3" y="972.20" width="24.4" height="32.05" fill="#f05a5f"/>
<rect x="1014.3" y="1003.95" width="24.4" height="32.05" fill="#e6353a"/>
<rect x="1014.3" y="1035.70" width="24.4" height="32.05" fill="#d21416"/>
<line x1="1014.3" y1="464.20" x2="1051" y2="464.20" stroke="#222" stroke-width="1"/>
<text x="1080.5" y="467.80" text-anchor="end" font-size="10" fill="#111">500</text>
<line x1="1014.3" y1="495.95" x2="1051" y2="495.95" stroke="#222" stroke-width="1"/>
<text x="1080.5" y="499.55" text-anchor="end" font-size="10" fill="#111">400</text>
<line x1="1014.3" y1="527.70" x2="1051" y2="527.70" stroke="#222" stroke-width="1"/>
<text x="1080.5" y="531.30" text-anchor="end" font-size="10" fill="#111">300</text>
<line x1="1014.3" y1="559.45" x2="1051" y2="559.45" stroke="#222" stroke-width="1"/>
<text x="1080.5" y="563.05" text-anchor="end" font-size="10" fill="#111">250</text>
<line x1="1014.3" y1="591.20" x2="1051" y2="591.20" stroke="#222" stroke-width="1"/>
<text x="1080.5" y="594.80" text-anchor="end" font-size="10" fill="#111">200</text>
<line x1="1014.3" y1="622.95" x2="1051" y2="622.95" stroke="#222" stroke-width="1"/>
<text x="1080.5" y="626.55" text-anchor="end" font-size="10" fill="#111">180</text>
<line x1="1014.3" y1="654.70" x2="1051" y2="654.70" stroke="#222" stroke-width="1"/>
<text x="1080.5" y="658.30" text-anchor="end" font-size="10" fill="#111">160</text>
<line x1="1014.3" y1="686.45" x2="1051" y2="686.45" stroke="#222" stroke-width="1"/>
<text x="1080.5" y="690.05" text-anchor="end" font-size="10" fill="#111">140</text>
<line x1="1014.3" y1="718.20" x2="1051" y2="718.20" stroke="#222" stroke-width="1"/>
<text x="1080.5" y="721.80" text-anchor="end" font-size="10" fill="#111">130</text>
<line x1="1014.3" y1="749.95" x2="1051" y2="749.95" stroke="#222" stroke-width="1"/>
<text x="1080.5" y="753.55" text-anchor="end" font-size="10" fill="#111">120</text>
<line x1="1014.3" y1="781.70" x2="1051" y2="781.70" stroke="#222" stroke-width="1"/>
<text x="1080.5" y="785.30" text-anchor="end" font-size="10" fill="#111">110</text>
<line x1="1014.3" y1="813.45" x2="1051" y2="813.45" stroke="#222" stroke-width="1"/>
<text x="1080.5" y="817.05" text-anchor="end" font-size="10" fill="#111">100</text>
<line x1="1014.3" y1="845.20" x2="1051" y2="845.20" stroke="#222" stroke-width="1"/>
<text x="1080.5" y="848.80" text-anchor="end" font-size="10" fill="#111">90</text>
<line x1="1014.3" y1="876.95" x2="1051" y2="876.95" stroke="#222" stroke-width="1"/>
<text x="1080.5" y="880.55" text-anchor="end" font-size="10" fill="#111">80</text>
<line x1="1014.3" y1="908.70" x2="1051" y2="908.70" stroke="#222" stroke-width="1"/>
<text x="1080.5" y="912.30" text-anchor="end" font-size="10" fill="#111">70</text>
<line x1="1014.3" y1="940.45" x2="1051" y2="940.45" stroke="#222" stroke-width="1"/>
<text x="1080.5" y="944.05" text-anchor="end" font-size="10" fill="#111">60</text>
<line x1="1014.3" y1="972.20" x2="1051" y2="972.20" stroke="#222" stroke-width="1"/>
<text x="1080.5" y="975.80" text-anchor="end" font-size="10" fill="#111">50</text>
<line x1="1014.3" y1="1003.95" x2="1051" y2="1003.95" stroke="#222" stroke-width="1"/>
<text x="1080.5" y="1007.55" text-anchor="end" font-size="10" fill="#111">40</text>
<line x1="1014.3" y1="1035.70" x2="1051" y2="1035.70" stroke="#222" stroke-width="1"/>
<text x="1080.5" y="1039.30" text-anchor="end" font-size="10" fill="#111">30</text>
<line x1="1014.3" y1="1067.45" x2="1051" y2="1067.45" stroke="#222" stroke-width="1"/>
<text x="1080.5" y="1071.05" text-anchor="end" font-size="10" fill="#111">20</text>
<path d="M1012.3,464.2 L1026.5,450.8 L1040.7,464.2Z" fill="#0a28c8" stroke="#000" stroke-width="2" stroke-linejoin="miter"/>
<path d="M1012.3,1067.45 L1026.5,1080.85 L1040.7,1067.45Z" fill="#b41414" stroke="#000" stroke-width="2" stroke-linejoin="miter"/>
<rect x="1014.3" y="464.2" width="24.4" height="603.25" fill="none" stroke="#000" stroke-width="2"/>
<text x="1026" y="438" text-anchor="middle" font-size="9" fill="#111">%</text>
</svg>
<div id="logo"><svg width="62" height="62" viewBox="0 0 62 62">
<rect x="22.6" y="10.9" width="16.8" height="17.1" rx="1.7" fill="#fff"/>
<path d="M30.8,13.8 C23,14.6 23,25.2 30.9,25.9 C30.3,22 30.3,17.8 30.8,13.8Z" fill="#004f91"/>
<path d="M33.4,14.2 C38.2,15.8 38,24.4 32.6,25.7" fill="none" stroke="#4d86b8" stroke-width="0.6"/>
<path d="M33.6,14 L36.2,14.8 L35.6,16.3 L33.9,16.2Z" fill="#004f91"/>
<path d="M31.4,11.4 L31.1,14.2 L31.9,27.6" fill="none" stroke="#3f7ab0" stroke-width="0.5"/>
<text x="31" y="40.6" text-anchor="middle" font-family="Liberation Sans, sans-serif" font-weight="bold" font-size="10.2" fill="#fff" textLength="39.5" lengthAdjust="spacingAndGlyphs">METEO</text>
<text x="31" y="51.2" text-anchor="middle" font-family="Liberation Sans, sans-serif" font-weight="bold" font-size="10.2" fill="#fff" textLength="39.5" lengthAdjust="spacingAndGlyphs">FRANCE</text>
</svg></div>
</body></html>
